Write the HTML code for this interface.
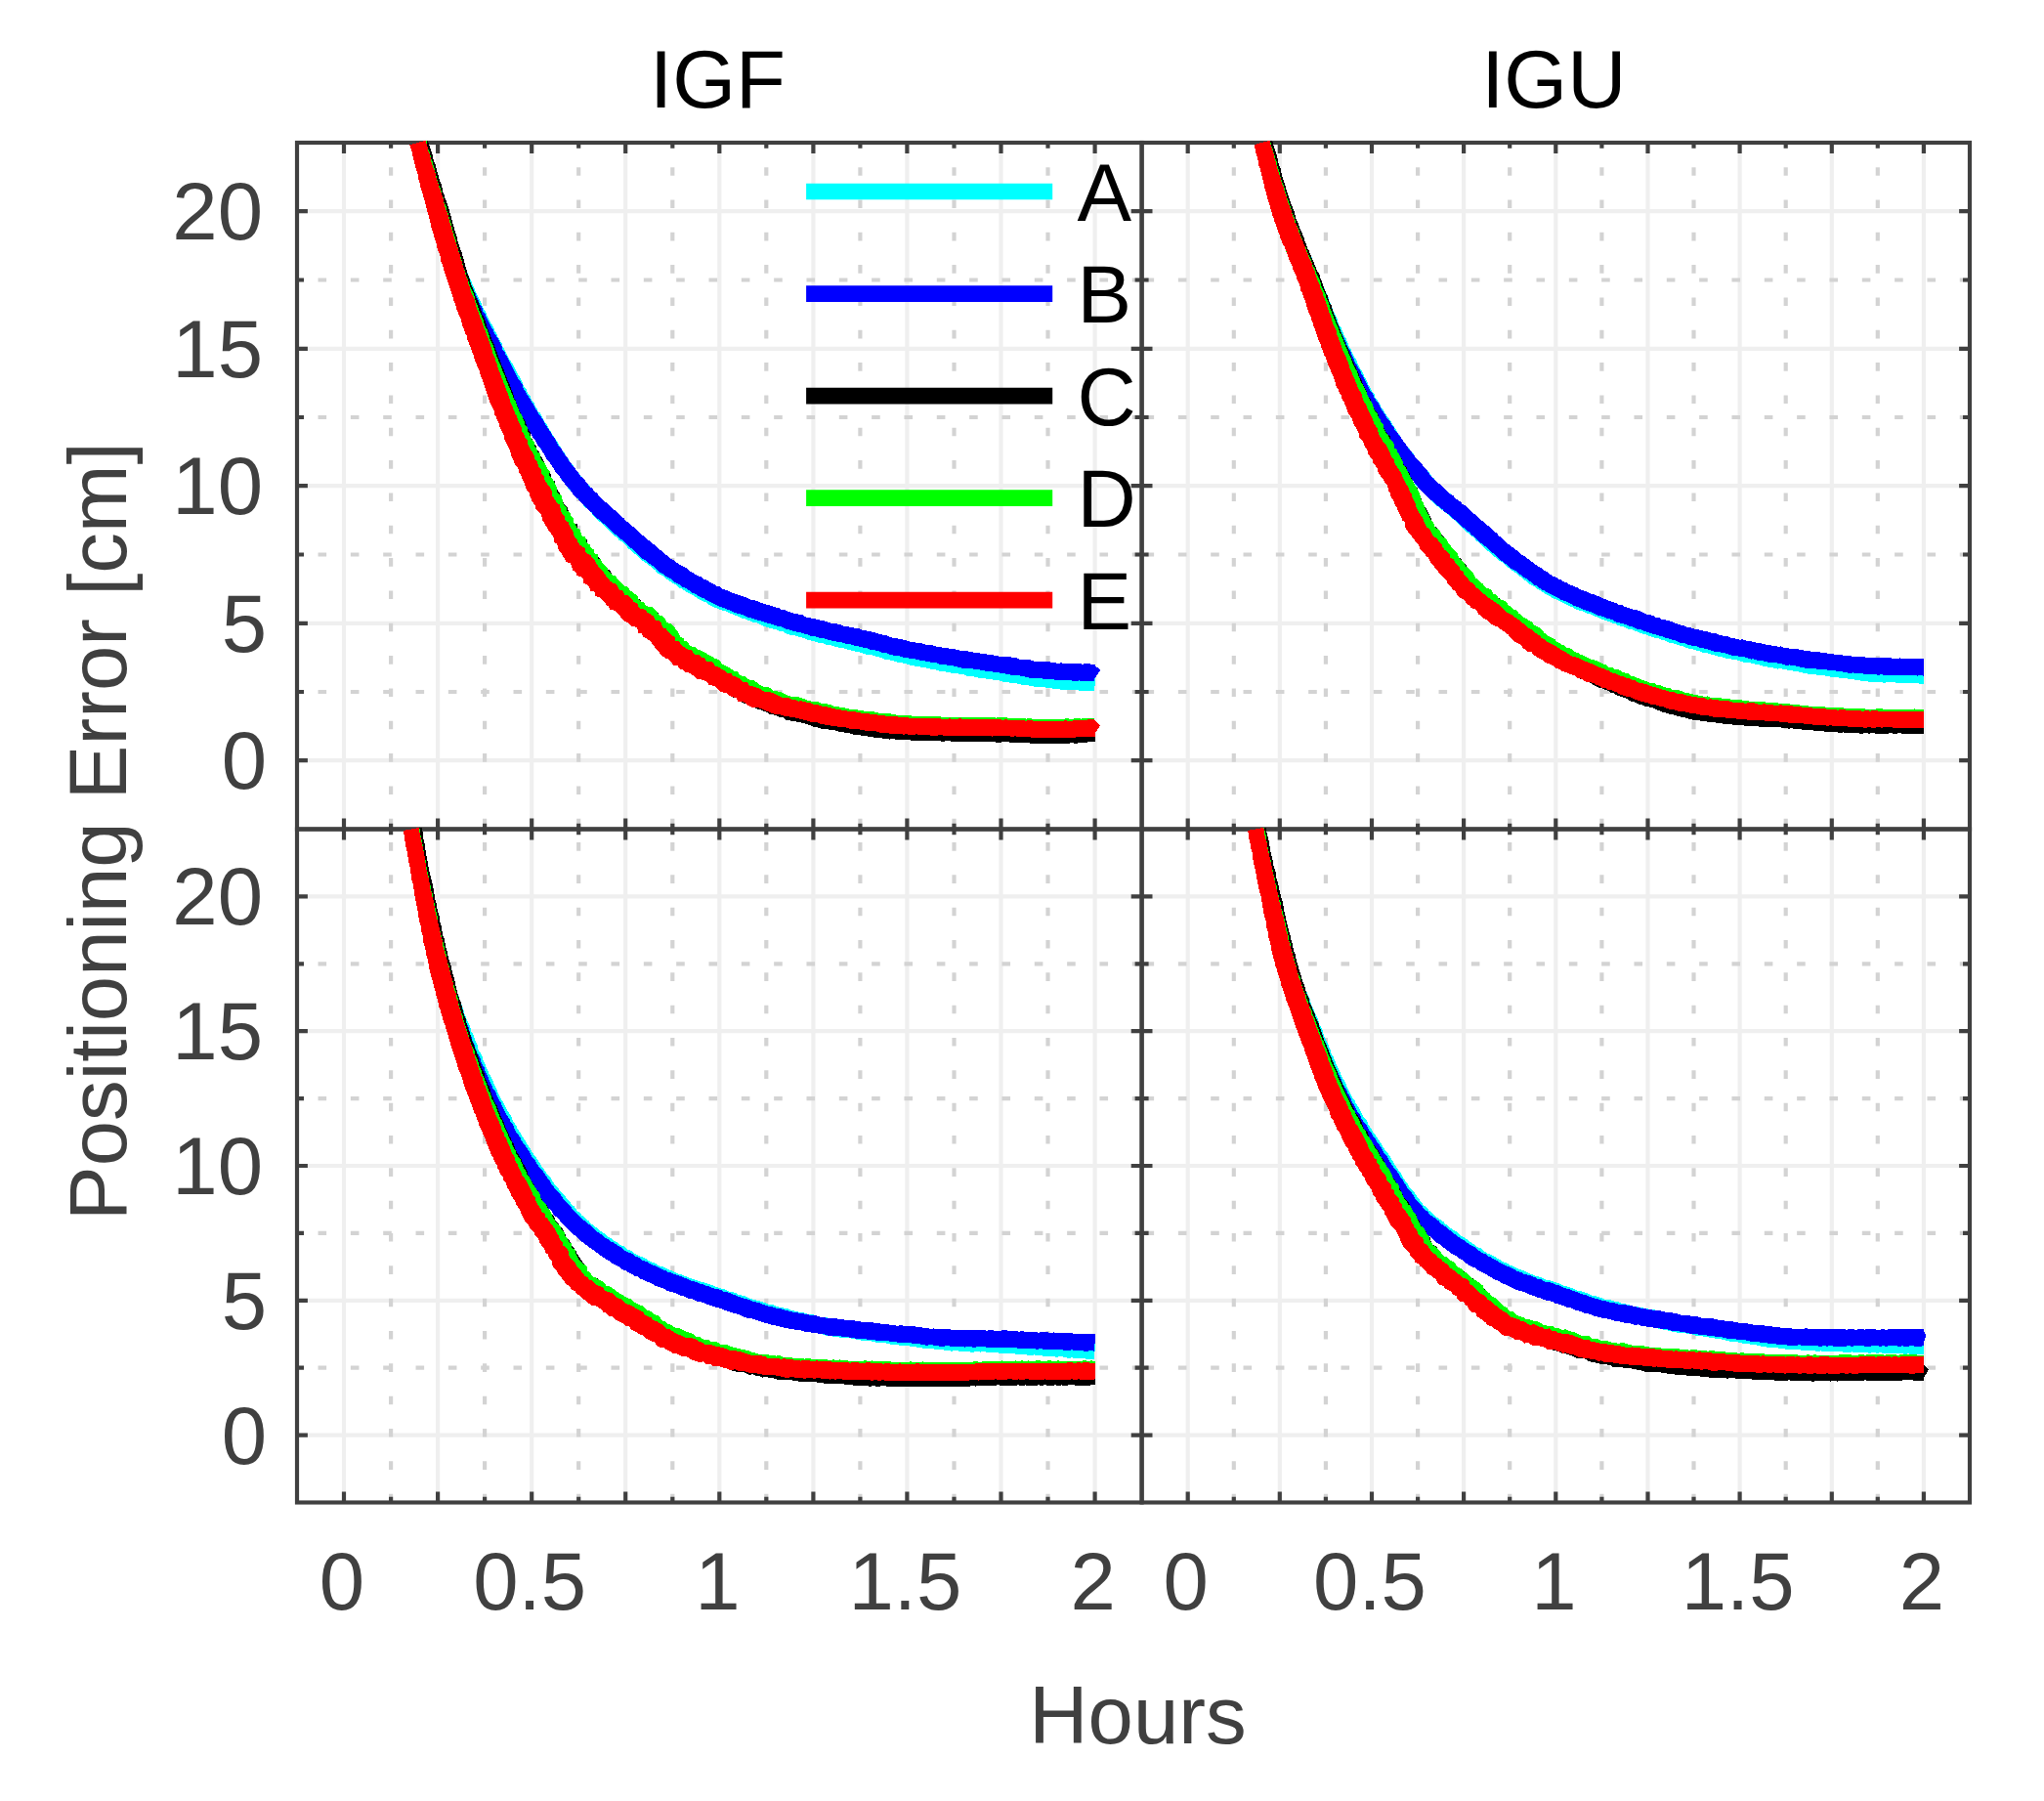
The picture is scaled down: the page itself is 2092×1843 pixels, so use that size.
<!DOCTYPE html>
<html lang="en"><head><meta charset="utf-8"><title>Positioning Error</title>
<style>html,body{margin:0;padding:0;background:#fff}svg{display:block}</style></head>
<body>
<svg width="2092" height="1843" viewBox="0 0 2092 1843" font-family="'Liberation Sans', sans-serif" font-size="83.33px">
<rect width="2092" height="1843" fill="#fff"/>
<defs>
<clipPath id="c1"><rect x="304.0" y="146.0" width="864.6" height="702.5"/></clipPath>
<clipPath id="c2"><rect x="1168.6" y="146.0" width="847.4" height="702.5"/></clipPath>
<clipPath id="c3"><rect x="304.0" y="848.5" width="864.6" height="689.0"/></clipPath>
<clipPath id="c4"><rect x="1168.6" y="848.5" width="847.4" height="689.0"/></clipPath>
</defs>
<g clip-path="url(#c1)"><path d="M352.0,146.0V848.5M448.1,146.0V848.5M544.2,146.0V848.5M640.2,146.0V848.5M736.3,146.0V848.5M832.4,146.0V848.5M928.4,146.0V848.5M1024.5,146.0V848.5M1120.6,146.0V848.5M304.0,778.2H1168.6M304.0,637.8H1168.6M304.0,497.2H1168.6M304.0,356.8H1168.6M304.0,216.2H1168.6" stroke="#efefef" stroke-width="4.17" fill="none"/><path d="M400.1,137.8V848.5M496.1,137.8V848.5M592.2,137.8V848.5M688.3,137.8V848.5M784.3,137.8V848.5M880.4,137.8V848.5M976.5,137.8V848.5M1072.5,137.8V848.5" stroke="#d3d3d3" stroke-width="4.17" stroke-dasharray="8.6 24.73" fill="none"/><path d="M292.2,708.0H1168.6M292.2,567.5H1168.6M292.2,427.0H1168.6M292.2,286.5H1168.6" stroke="#d3d3d3" stroke-width="4.17" stroke-dasharray="8.6 24.73" fill="none"/></g>
<g clip-path="url(#c2)"><path d="M1215.7,146.0V848.5M1309.8,146.0V848.5M1404.0,146.0V848.5M1498.1,146.0V848.5M1592.3,146.0V848.5M1686.5,146.0V848.5M1780.6,146.0V848.5M1874.8,146.0V848.5M1968.9,146.0V848.5M1168.6,778.2H2016.0M1168.6,637.8H2016.0M1168.6,497.2H2016.0M1168.6,356.8H2016.0M1168.6,216.2H2016.0" stroke="#efefef" stroke-width="4.17" fill="none"/><path d="M1262.8,137.8V848.5M1356.9,137.8V848.5M1451.1,137.8V848.5M1545.2,137.8V848.5M1639.4,137.8V848.5M1733.5,137.8V848.5M1827.7,137.8V848.5M1921.8,137.8V848.5" stroke="#d3d3d3" stroke-width="4.17" stroke-dasharray="8.6 24.73" fill="none"/><path d="M1139.2,708.0H2016.0M1139.2,567.5H2016.0M1139.2,427.0H2016.0M1139.2,286.5H2016.0" stroke="#d3d3d3" stroke-width="4.17" stroke-dasharray="8.6 24.73" fill="none"/></g>
<g clip-path="url(#c3)"><path d="M352.0,848.5V1537.5M448.1,848.5V1537.5M544.2,848.5V1537.5M640.2,848.5V1537.5M736.3,848.5V1537.5M832.4,848.5V1537.5M928.4,848.5V1537.5M1024.5,848.5V1537.5M1120.6,848.5V1537.5M304.0,1468.6H1168.6M304.0,1330.8H1168.6M304.0,1193.0H1168.6M304.0,1055.2H1168.6M304.0,917.4H1168.6" stroke="#efefef" stroke-width="4.17" fill="none"/><path d="M400.1,828.7V1537.5M496.1,828.7V1537.5M592.2,828.7V1537.5M688.3,828.7V1537.5M784.3,828.7V1537.5M880.4,828.7V1537.5M976.5,828.7V1537.5M1072.5,828.7V1537.5" stroke="#d3d3d3" stroke-width="4.17" stroke-dasharray="8.6 24.73" fill="none"/><path d="M292.2,1399.7H1168.6M292.2,1261.9H1168.6M292.2,1124.1H1168.6M292.2,986.3H1168.6" stroke="#d3d3d3" stroke-width="4.17" stroke-dasharray="8.6 24.73" fill="none"/></g>
<g clip-path="url(#c4)"><path d="M1215.7,848.5V1537.5M1309.8,848.5V1537.5M1404.0,848.5V1537.5M1498.1,848.5V1537.5M1592.3,848.5V1537.5M1686.5,848.5V1537.5M1780.6,848.5V1537.5M1874.8,848.5V1537.5M1968.9,848.5V1537.5M1168.6,1468.6H2016.0M1168.6,1330.8H2016.0M1168.6,1193.0H2016.0M1168.6,1055.2H2016.0M1168.6,917.4H2016.0" stroke="#efefef" stroke-width="4.17" fill="none"/><path d="M1262.8,828.7V1537.5M1356.9,828.7V1537.5M1451.1,828.7V1537.5M1545.2,828.7V1537.5M1639.4,828.7V1537.5M1733.5,828.7V1537.5M1827.7,828.7V1537.5M1921.8,828.7V1537.5" stroke="#d3d3d3" stroke-width="4.17" stroke-dasharray="8.6 24.73" fill="none"/><path d="M1139.2,1399.7H2016.0M1139.2,1261.9H2016.0M1139.2,1124.1H2016.0M1139.2,986.3H2016.0" stroke="#d3d3d3" stroke-width="4.17" stroke-dasharray="8.6 24.73" fill="none"/></g>
<path d="M352.0,146.0v10.9M352.0,848.5v-10.9M400.1,146.0v5.8M400.1,848.5v-5.8M448.1,146.0v10.9M448.1,848.5v-10.9M496.1,146.0v5.8M496.1,848.5v-5.8M544.2,146.0v10.9M544.2,848.5v-10.9M592.2,146.0v5.8M592.2,848.5v-5.8M640.2,146.0v10.9M640.2,848.5v-10.9M688.3,146.0v5.8M688.3,848.5v-5.8M736.3,146.0v10.9M736.3,848.5v-10.9M784.3,146.0v5.8M784.3,848.5v-5.8M832.4,146.0v10.9M832.4,848.5v-10.9M880.4,146.0v5.8M880.4,848.5v-5.8M928.4,146.0v10.9M928.4,848.5v-10.9M976.5,146.0v5.8M976.5,848.5v-5.8M1024.5,146.0v10.9M1024.5,848.5v-10.9M1072.5,146.0v5.8M1072.5,848.5v-5.8M1120.6,146.0v10.9M1120.6,848.5v-10.9M304.0,778.2h10.9M1168.6,778.2h-10.9M304.0,708.0h7.0M1168.6,708.0h-7.0M304.0,637.8h10.9M1168.6,637.8h-10.9M304.0,567.5h7.0M1168.6,567.5h-7.0M304.0,497.2h10.9M1168.6,497.2h-10.9M304.0,427.0h7.0M1168.6,427.0h-7.0M304.0,356.8h10.9M1168.6,356.8h-10.9M304.0,286.5h7.0M1168.6,286.5h-7.0M304.0,216.2h10.9M1168.6,216.2h-10.9M1215.7,146.0v10.9M1215.7,848.5v-10.9M1262.8,146.0v5.8M1262.8,848.5v-5.8M1309.8,146.0v10.9M1309.8,848.5v-10.9M1356.9,146.0v5.8M1356.9,848.5v-5.8M1404.0,146.0v10.9M1404.0,848.5v-10.9M1451.1,146.0v5.8M1451.1,848.5v-5.8M1498.1,146.0v10.9M1498.1,848.5v-10.9M1545.2,146.0v5.8M1545.2,848.5v-5.8M1592.3,146.0v10.9M1592.3,848.5v-10.9M1639.4,146.0v5.8M1639.4,848.5v-5.8M1686.5,146.0v10.9M1686.5,848.5v-10.9M1733.5,146.0v5.8M1733.5,848.5v-5.8M1780.6,146.0v10.9M1780.6,848.5v-10.9M1827.7,146.0v5.8M1827.7,848.5v-5.8M1874.8,146.0v10.9M1874.8,848.5v-10.9M1921.8,146.0v5.8M1921.8,848.5v-5.8M1968.9,146.0v10.9M1968.9,848.5v-10.9M1168.6,778.2h10.9M2016.0,778.2h-10.9M1168.6,708.0h7.0M2016.0,708.0h-7.0M1168.6,637.8h10.9M2016.0,637.8h-10.9M1168.6,567.5h7.0M2016.0,567.5h-7.0M1168.6,497.2h10.9M2016.0,497.2h-10.9M1168.6,427.0h7.0M2016.0,427.0h-7.0M1168.6,356.8h10.9M2016.0,356.8h-10.9M1168.6,286.5h7.0M2016.0,286.5h-7.0M1168.6,216.2h10.9M2016.0,216.2h-10.9M352.0,848.5v10.9M352.0,1537.5v-10.9M400.1,848.5v5.8M400.1,1537.5v-5.8M448.1,848.5v10.9M448.1,1537.5v-10.9M496.1,848.5v5.8M496.1,1537.5v-5.8M544.2,848.5v10.9M544.2,1537.5v-10.9M592.2,848.5v5.8M592.2,1537.5v-5.8M640.2,848.5v10.9M640.2,1537.5v-10.9M688.3,848.5v5.8M688.3,1537.5v-5.8M736.3,848.5v10.9M736.3,1537.5v-10.9M784.3,848.5v5.8M784.3,1537.5v-5.8M832.4,848.5v10.9M832.4,1537.5v-10.9M880.4,848.5v5.8M880.4,1537.5v-5.8M928.4,848.5v10.9M928.4,1537.5v-10.9M976.5,848.5v5.8M976.5,1537.5v-5.8M1024.5,848.5v10.9M1024.5,1537.5v-10.9M1072.5,848.5v5.8M1072.5,1537.5v-5.8M1120.6,848.5v10.9M1120.6,1537.5v-10.9M304.0,1468.6h10.9M1168.6,1468.6h-10.9M304.0,1399.7h7.0M1168.6,1399.7h-7.0M304.0,1330.8h10.9M1168.6,1330.8h-10.9M304.0,1261.9h7.0M1168.6,1261.9h-7.0M304.0,1193.0h10.9M1168.6,1193.0h-10.9M304.0,1124.1h7.0M1168.6,1124.1h-7.0M304.0,1055.2h10.9M1168.6,1055.2h-10.9M304.0,986.3h7.0M1168.6,986.3h-7.0M304.0,917.4h10.9M1168.6,917.4h-10.9M1215.7,848.5v10.9M1215.7,1537.5v-10.9M1262.8,848.5v5.8M1262.8,1537.5v-5.8M1309.8,848.5v10.9M1309.8,1537.5v-10.9M1356.9,848.5v5.8M1356.9,1537.5v-5.8M1404.0,848.5v10.9M1404.0,1537.5v-10.9M1451.1,848.5v5.8M1451.1,1537.5v-5.8M1498.1,848.5v10.9M1498.1,1537.5v-10.9M1545.2,848.5v5.8M1545.2,1537.5v-5.8M1592.3,848.5v10.9M1592.3,1537.5v-10.9M1639.4,848.5v5.8M1639.4,1537.5v-5.8M1686.5,848.5v10.9M1686.5,1537.5v-10.9M1733.5,848.5v5.8M1733.5,1537.5v-5.8M1780.6,848.5v10.9M1780.6,1537.5v-10.9M1827.7,848.5v5.8M1827.7,1537.5v-5.8M1874.8,848.5v10.9M1874.8,1537.5v-10.9M1921.8,848.5v5.8M1921.8,1537.5v-5.8M1968.9,848.5v10.9M1968.9,1537.5v-10.9M1168.6,1468.6h10.9M2016.0,1468.6h-10.9M1168.6,1399.7h7.0M2016.0,1399.7h-7.0M1168.6,1330.8h10.9M2016.0,1330.8h-10.9M1168.6,1261.9h7.0M2016.0,1261.9h-7.0M1168.6,1193.0h10.9M2016.0,1193.0h-10.9M1168.6,1124.1h7.0M2016.0,1124.1h-7.0M1168.6,1055.2h10.9M2016.0,1055.2h-10.9M1168.6,986.3h7.0M2016.0,986.3h-7.0M1168.6,917.4h10.9M2016.0,917.4h-10.9" stroke="#404040" stroke-width="4.17" fill="none"/>
<rect x="304.0" y="146.0" width="864.6" height="702.5" fill="none" stroke="#404040" stroke-width="4.17"/>
<rect x="1168.6" y="146.0" width="847.4" height="702.5" fill="none" stroke="#404040" stroke-width="4.17"/>
<rect x="304.0" y="848.5" width="864.6" height="689.0" fill="none" stroke="#404040" stroke-width="4.17"/>
<rect x="1168.6" y="848.5" width="847.4" height="689.0" fill="none" stroke="#404040" stroke-width="4.17"/>
<g shape-rendering="crispEdges"><path d="M420.7,148.4L421.1,150.8L422.0,153.8L423.4,156.7L424.2,159.7L424.5,162.9L426.2,165.7L426.3,169.0L427.1,172.0L428.3,175.0L429.3,178.0L430.2,181.0L431.1,184.0L431.7,187.1L432.5,190.2L433.3,193.2L433.8,196.4L434.8,199.4L435.9,202.4L436.4,205.6L438.0,208.4L439.0,211.4L439.4,214.6L440.9,217.5L441.8,220.5L442.2,223.6L443.2,226.6L443.6,229.8L444.8,232.7L445.8,235.8L446.7,238.8L447.8,241.9L449.1,244.9L449.9,248.0L450.4,251.2L451.8,254.1L452.7,257.2L454.0,260.2L454.3,263.5L456.0,266.3L456.9,269.4L457.4,272.7L458.9,275.6L459.7,278.7L461.0,281.7L462.1,284.8L463.9,287.5L464.7,290.7L466.0,293.7L466.9,296.8L468.7,299.5L469.7,302.5L471.4,305.2L472.4,308.3L473.8,311.2L475.3,314.0L476.1,317.2L477.8,320.0L478.7,323.1L480.4,325.8L481.8,328.7L483.2,331.6L484.6,334.5L486.5,337.1L487.7,340.0L489.4,342.8L490.7,345.7L492.4,348.4L493.0,351.6L495.2,354.1L496.2,357.1L498.0,359.7L498.9,362.8L500.5,365.5L502.4,368.1L503.3,371.2L504.6,374.1L506.1,376.9L507.9,379.5L509.8,382.2L511.2,385.0L512.1,388.2L513.9,390.8L515.7,393.4L516.6,396.5L518.4,399.2L519.9,401.9L521.6,404.6L523.1,407.4L524.7,410.1L526.5,412.8L527.3,415.9L529.2,418.5L530.7,421.3L532.5,423.9L533.7,426.9L535.9,429.2L537.2,432.1L539.1,434.6L540.7,437.4L541.5,440.5L543.4,443.1L545.3,445.7L546.8,448.4L548.2,451.3L550.3,453.8L551.8,456.6L553.4,459.4L555.4,461.9L556.9,464.7L558.5,467.5L560.1,470.3L562.5,472.5L563.6,475.6L566.2,477.8L567.4,480.8L569.1,483.5L571.6,485.7L573.2,488.4L574.8,491.3L577.4,493.4L578.9,496.3L580.8,498.9L583.1,501.2L585.0,503.8L587.5,506.0L589.7,508.4L591.8,510.9L594.1,513.1L596.1,515.5L597.9,518.3L600.5,520.4L603.0,522.6L605.4,525.0L607.2,527.8L609.9,529.8L611.9,532.4L614.6,534.4L617.0,536.7L619.2,539.2L621.7,541.4L624.2,543.5L626.6,545.6L628.7,548.2L631.4,550.0L633.5,552.7L636.5,554.2L638.6,556.6L641.0,558.8L643.1,561.3L645.9,562.9L648.0,565.4L650.5,567.4L652.9,569.6L655.4,571.6L657.7,574.0L660.6,575.6L663.0,577.7L665.7,579.6L668.3,581.5L670.8,583.7L672.9,586.2L675.6,588.1L678.7,589.4L681.0,591.7L683.8,593.5L686.4,595.4L689.0,597.2L691.9,598.7L694.3,601.0L697.3,602.3L700.0,604.2L702.8,605.9L705.8,607.2L708.7,608.7L711.4,610.7L714.1,612.6L717.0,614.2L719.9,615.7L723.1,616.6L725.7,618.8L728.7,620.1L731.6,621.6L734.6,622.6L737.5,624.3L740.8,624.8L743.8,626.0L746.8,627.2L749.8,628.6L752.8,629.8L755.9,630.9L758.8,632.4L762.0,633.0L764.9,634.6L768.0,635.3L770.9,636.8L774.1,637.3L777.1,638.6L779.9,640.2L783.0,640.9L786.0,642.2L789.1,643.0L792.1,644.0L795.3,644.6L798.2,646.0L801.4,646.4L804.3,648.1L807.3,649.2L810.4,650.1L813.7,650.2L816.7,651.4L819.8,652.3L822.9,653.0L825.9,654.4L828.9,655.4L832.2,655.8L835.2,657.2L838.3,657.9L841.6,658.0L844.6,659.4L847.6,660.3L850.9,660.3L853.9,661.4L857.0,662.2L860.1,662.9L863.3,663.1L866.2,664.4L869.3,665.1L872.3,666.0L875.4,666.7L878.5,667.0L881.5,668.1L884.5,669.1L887.5,669.9L890.7,670.0L893.8,670.6L896.7,672.1L899.9,672.5L902.9,673.6L905.9,674.8L909.1,675.0L912.2,675.7L915.3,676.7L918.4,677.6L921.7,677.8L924.7,678.8L927.9,679.3L930.9,680.5L934.0,681.3L937.3,681.6L940.4,682.2L943.5,683.0L946.7,683.3L949.8,684.0L952.9,684.7L956.0,685.4L959.2,685.6L962.2,686.9L965.4,687.3L968.6,687.6L971.7,687.9L974.8,689.1L978.0,689.1L981.1,689.6L984.3,690.2L987.4,690.6L990.4,692.0L993.7,691.9L996.8,692.4L999.9,693.4L1003.0,693.7L1006.2,693.8L1009.3,694.5L1012.4,695.4L1015.6,695.4L1018.7,696.2L1021.9,696.1L1024.9,697.2L1028.0,697.8L1031.0,698.3L1034.2,698.7L1037.4,699.0L1040.5,699.2L1043.6,700.2L1046.7,700.9L1050.0,700.9L1053.2,701.5L1056.3,702.2L1059.5,702.9L1062.7,703.4L1066.1,703.0L1069.3,703.4L1072.5,704.3L1075.7,704.4L1078.8,704.8L1082.0,705.3L1085.1,705.5L1088.3,705.6L1091.5,705.8L1094.7,705.6L1097.9,706.1L1101.1,705.8L1104.3,706.6L1107.5,706.8L1110.7,706.9L1113.9,706.7L1117.2,706.8L1120.4,706.9L1120.8,689.4L1117.6,690.1L1114.5,689.6L1111.5,689.0L1108.3,689.1L1105.2,688.7L1102.1,689.1L1099.0,688.3L1095.9,688.6L1092.7,688.5L1089.6,688.4L1086.5,688.2L1083.3,688.0L1080.2,687.5L1077.1,686.8L1074.0,686.5L1070.9,686.6L1067.9,686.0L1064.9,685.7L1061.8,686.0L1058.8,685.1L1055.7,684.8L1052.7,684.0L1049.7,683.2L1046.5,683.1L1043.4,682.4L1040.3,681.9L1037.1,681.4L1034.1,680.5L1030.9,680.1L1027.7,679.6L1024.4,679.9L1021.3,679.1L1018.2,678.9L1015.2,677.6L1012.1,677.1L1008.8,677.3L1005.8,676.3L1002.7,675.9L999.6,675.4L996.3,675.5L993.3,674.4L990.3,673.6L987.2,673.1L984.0,673.3L981.0,672.1L977.8,672.0L974.7,671.4L971.6,670.6L968.5,670.5L965.5,669.3L962.3,669.3L959.2,668.8L956.2,667.9L953.0,667.7L950.0,666.7L946.8,666.4L943.8,665.7L940.7,665.2L937.8,663.7L934.6,663.7L931.5,663.1L928.5,662.5L925.4,661.8L922.5,660.5L919.5,660.0L916.4,659.5L913.4,658.4L910.4,657.6L907.3,657.0L904.3,656.1L901.3,654.9L898.2,654.1L895.1,653.4L892.1,652.5L889.0,651.5L885.8,651.1L882.8,650.0L879.6,649.7L876.4,649.1L873.3,648.3L870.3,647.0L867.3,646.3L864.1,645.9L860.9,645.5L857.9,644.6L854.8,643.8L851.8,643.1L848.9,641.7L845.7,641.7L842.7,640.5L839.7,639.8L836.7,639.1L833.6,638.5L830.8,637.2L827.7,636.6L824.7,635.5L821.6,635.0L818.7,633.6L815.6,633.3L812.7,632.0L809.8,630.7L806.8,629.8L803.6,629.5L800.8,627.8L797.8,626.9L794.7,626.3L791.7,625.4L788.8,624.0L785.8,623.2L782.8,622.0L779.9,620.7L776.8,619.9L774.0,618.6L771.0,617.5L767.9,616.8L764.9,615.9L762.0,614.6L759.0,613.6L756.3,612.0L753.2,611.5L750.5,609.8L747.6,608.8L745.0,607.2L741.9,606.5L739.2,605.1L736.6,603.4L733.9,602.0L731.0,601.0L728.2,599.7L725.5,598.2L722.8,596.8L720.4,594.8L717.4,593.7L714.7,592.3L712.0,590.7L709.3,589.1L706.8,587.3L704.2,585.5L701.7,583.7L699.1,582.0L696.4,580.4L693.9,578.7L691.6,576.7L688.8,575.3L686.1,573.8L684.1,571.5L681.5,569.8L679.3,567.6L676.9,565.7L674.2,564.1L672.1,561.7L669.4,560.1L667.1,558.0L664.9,555.7L662.3,553.9L659.9,551.9L657.8,549.5L655.2,547.7L652.9,545.4L650.4,543.4L648.2,541.2L646.0,539.1L643.8,536.8L641.3,534.7L638.8,532.6L636.6,530.2L634.1,528.1L631.9,525.8L629.5,523.6L627.0,521.5L624.5,519.5L622.7,516.8L619.9,515.0L617.7,512.7L615.7,510.2L613.1,508.3L611.3,505.7L609.1,503.3L606.8,501.1L604.4,499.1L603.0,496.3L600.8,494.3L598.8,492.0L596.5,490.1L595.1,487.3L593.0,485.1L591.3,482.6L589.3,480.4L587.5,478.0L586.2,475.2L583.6,473.3L582.4,470.4L580.2,468.2L579.0,465.3L577.1,462.8L575.1,460.4L573.8,457.6L571.9,455.1L570.6,452.2L568.8,449.7L567.0,447.2L565.3,444.5L564.1,441.6L562.2,439.1L560.7,436.4L559.1,433.6L557.1,431.2L555.9,428.3L554.1,425.7L552.9,422.8L550.5,420.6L549.3,417.7L547.4,415.2L546.6,412.2L544.5,409.8L543.2,407.0L541.9,404.1L539.8,401.8L538.8,398.7L536.8,396.3L535.4,393.5L534.3,390.5L532.7,387.8L531.3,384.9L529.7,382.2L528.2,379.5L526.8,376.7L525.3,373.9L523.9,371.1L522.1,368.5L520.4,365.8L518.8,363.1L517.8,360.1L516.1,357.4L514.4,354.8L513.8,351.6L512.0,349.0L510.5,346.1L508.8,343.5L508.0,340.3L505.9,337.8L505.1,334.7L503.7,331.9L501.5,329.5L500.1,326.7L498.7,323.8L497.9,320.7L496.4,318.0L494.7,315.3L493.5,312.5L492.2,309.6L490.8,306.9L489.3,304.1L488.2,301.2L486.7,298.5L485.9,295.5L484.2,292.8L483.1,289.7L482.2,286.8L480.4,284.2L479.2,281.4L478.4,278.3L476.8,275.6L475.8,272.7L474.8,269.7L473.9,266.7L472.7,263.8L472.4,260.7L471.3,257.7L470.4,254.7L468.5,252.0L467.9,248.9L467.2,245.8L465.8,242.9L464.9,239.9L463.7,237.0L463.2,233.9L462.0,231.0L461.7,227.8L460.3,224.9L460.1,221.7L458.5,218.8L458.1,215.6L457.0,212.7L456.2,209.6L454.9,206.7L454.0,203.7L453.9,200.5L452.2,197.7L451.4,194.7L451.3,191.4L450.3,188.4L449.4,185.4L448.0,182.6L447.9,179.3L446.9,176.3L445.4,173.5L444.8,170.3L444.5,167.2L443.5,164.1L442.2,161.2L441.7,158.1L440.7,155.1L439.7,152.1L439.0,149.0L438.4,145.9L436.9,143.8Z" fill="#00ffff"/><path d="M421.0,148.3L421.8,150.6L422.0,153.8L423.0,156.8L424.3,159.7L425.1,162.8L425.3,166.0L426.8,168.8L427.2,172.0L428.6,174.9L428.8,178.1L430.3,181.0L430.8,184.1L432.1,187.0L432.5,190.2L433.1,193.3L434.7,196.2L435.3,199.3L435.7,202.4L436.8,205.4L437.9,208.4L438.5,211.5L439.6,214.5L440.1,217.7L441.6,220.6L442.0,223.7L443.0,226.7L443.8,229.7L445.0,232.7L445.6,235.8L446.5,238.8L447.7,241.8L448.9,244.8L448.9,248.1L450.1,251.1L451.5,254.0L451.9,257.2L453.3,260.1L454.1,263.2L454.6,266.4L456.0,269.3L457.2,272.3L458.2,275.3L459.4,278.3L460.4,281.3L461.4,284.4L462.6,287.4L463.8,290.3L464.6,293.5L466.0,296.4L466.8,299.6L467.9,302.6L469.7,305.3L470.8,308.4L472.2,311.3L473.9,314.0L475.2,316.9L475.9,320.2L477.6,322.9L478.8,325.9L480.8,328.5L481.8,331.6L483.0,334.5L484.4,337.4L486.6,339.8L487.6,342.9L489.2,345.7L490.3,348.7L492.3,351.2L493.6,354.1L494.6,357.1L496.3,359.8L497.8,362.6L498.7,365.6L500.8,368.2L502.5,370.8L503.6,373.8L505.3,376.5L506.8,379.3L507.9,382.4L509.0,385.4L510.9,388.0L512.3,390.8L514.1,393.5L515.4,396.4L516.8,399.3L518.5,402.0L519.8,404.9L521.6,407.5L523.5,410.1L524.7,413.1L526.4,415.8L528.3,418.4L529.5,421.4L531.0,424.3L533.2,426.6L534.5,429.6L536.0,432.4L537.9,434.9L539.7,437.5L541.2,440.3L542.8,443.1L544.3,445.9L546.1,448.5L548.2,451.0L549.3,454.1L550.9,456.9L553.4,459.1L555.0,461.9L556.8,464.6L558.0,467.6L559.8,470.4L562.3,472.6L563.9,475.4L565.8,478.0L567.5,480.7L569.0,483.6L571.6,485.7L573.4,488.4L575.1,491.1L577.0,493.7L578.9,496.4L581.1,498.7L583.4,501.0L585.3,503.6L586.9,506.5L589.3,508.7L591.9,510.7L593.7,513.5L596.3,515.5L598.2,518.2L601.0,519.9L602.8,522.8L605.6,524.5L607.7,527.0L610.0,529.3L612.4,531.4L615.1,533.3L617.5,535.5L619.8,537.7L622.3,539.7L624.6,541.9L627.0,544.0L629.2,546.3L631.6,548.3L633.8,550.6L636.4,552.4L638.9,554.3L641.1,556.6L643.2,559.1L646.0,560.8L648.3,563.0L650.5,565.4L653.1,567.2L655.3,569.7L657.7,571.8L660.6,573.3L662.8,575.7L665.7,577.4L668.3,579.3L670.7,581.5L673.2,583.6L675.6,585.8L678.7,587.0L681.0,589.4L683.8,591.0L686.7,592.5L688.9,594.9L691.8,596.5L694.8,597.7L697.1,600.1L700.3,601.1L703.1,602.8L705.8,604.6L708.4,606.8L711.6,607.6L714.1,609.9L717.1,611.2L720.3,612.2L723.0,614.2L725.9,615.5L728.8,617.0L731.7,618.5L734.7,619.7L737.6,621.3L740.9,621.8L743.7,623.6L746.8,624.4L749.7,625.9L752.7,627.1L755.7,628.3L759.0,628.6L762.0,629.9L764.9,631.4L767.9,632.4L771.2,632.8L774.0,634.4L777.2,634.8L780.2,635.8L783.1,637.1L786.2,637.8L789.3,638.7L792.3,639.6L795.4,640.6L798.5,641.2L801.6,642.1L804.5,643.7L807.6,644.4L810.6,645.4L813.7,646.4L816.9,646.7L820.0,647.5L823.0,648.4L826.1,649.2L829.1,650.5L832.3,650.9L835.4,651.6L838.5,652.6L841.7,652.9L844.8,653.6L847.8,654.8L850.9,655.6L854.1,655.8L857.1,656.8L860.3,656.9L863.3,657.9L866.4,658.8L869.5,659.1L872.6,659.9L875.5,660.9L878.6,661.5L881.7,661.8L884.6,663.1L887.8,663.2L890.7,664.8L893.9,664.9L896.9,665.7L900.0,666.4L902.9,667.9L906.2,668.0L909.2,669.1L912.2,670.2L915.3,670.9L918.7,670.7L921.7,671.9L924.8,672.6L927.9,673.4L931.1,673.6L934.3,674.3L937.4,674.5L940.6,675.2L943.6,676.3L946.8,676.4L949.9,677.1L953.0,677.8L956.2,678.1L959.4,678.6L962.3,680.0L965.5,680.0L968.7,680.3L971.8,681.4L975.0,681.2L978.1,681.9L981.1,683.1L984.3,683.5L987.5,683.8L990.7,683.7L993.8,684.4L997.0,684.6L1000.1,685.2L1003.2,685.5L1006.4,686.0L1009.4,686.9L1012.6,686.9L1015.8,687.3L1018.8,688.5L1022.0,688.4L1025.1,688.8L1028.2,689.0L1031.2,690.2L1034.4,690.5L1037.5,690.9L1040.6,691.4L1043.8,691.4L1047.0,692.0L1050.1,692.8L1053.3,693.5L1056.5,693.8L1059.7,694.0L1063.0,694.3L1066.3,694.1L1069.4,695.2L1072.7,694.6L1075.9,694.9L1079.0,695.6L1082.2,695.9L1085.3,696.1L1088.5,695.9L1091.7,695.8L1094.9,695.8L1098.1,696.8L1101.2,697.0L1104.5,696.4L1107.7,697.1L1110.9,696.8L1114.1,696.7L1117.3,697.0L1120.5,696.5L1120.6,679.9L1117.5,679.8L1114.4,679.2L1111.3,679.1L1108.1,679.7L1105.1,679.0L1101.9,679.3L1098.8,679.1L1095.7,678.5L1092.6,679.0L1089.4,679.1L1086.3,678.3L1083.2,678.8L1080.1,678.3L1076.9,677.6L1073.8,677.4L1070.8,677.4L1067.8,676.9L1064.7,676.6L1061.7,676.5L1058.6,676.8L1055.6,675.7L1052.6,675.1L1049.4,675.2L1046.2,675.2L1043.2,674.5L1040.1,673.3L1037.0,672.9L1033.9,672.4L1030.6,672.5L1027.5,671.7L1024.3,671.9L1021.2,671.3L1018.0,671.0L1015.0,669.7L1011.8,669.9L1008.7,669.2L1005.6,669.1L1002.5,668.5L999.5,667.5L996.3,667.5L993.1,667.4L990.2,666.1L987.0,666.1L983.9,665.6L980.7,665.4L977.7,664.3L974.7,663.7L971.5,663.5L968.4,663.2L965.3,662.8L962.2,662.0L959.1,661.9L956.0,661.0L953.0,660.0L949.8,660.2L946.8,659.4L943.8,658.3L940.7,657.6L937.5,657.9L934.6,656.6L931.4,656.7L928.4,655.6L925.4,654.9L922.5,653.9L919.3,653.8L916.4,652.5L913.2,652.5L910.2,651.6L907.3,650.2L904.2,649.9L901.2,648.8L898.0,648.3L895.0,647.3L892.0,646.4L888.8,645.9L885.7,645.3L882.5,644.6L879.6,643.3L876.4,643.0L873.3,642.3L870.1,641.8L867.0,641.0L863.9,640.7L860.9,639.5L857.9,638.6L854.7,638.3L851.6,638.0L848.6,637.1L845.6,636.0L842.6,635.2L839.6,634.7L836.6,633.9L833.6,632.9L830.5,632.5L827.5,631.9L824.4,631.3L821.6,629.5L818.6,629.0L815.5,628.2L812.5,627.5L809.5,626.7L806.4,625.9L803.6,624.5L800.4,624.2L797.7,622.5L794.7,621.6L791.7,620.6L788.7,619.9L785.8,618.7L782.5,618.4L779.7,616.8L776.7,616.1L773.8,614.6L770.7,614.0L767.6,613.5L764.9,611.7L762.0,610.8L759.0,609.9L756.0,609.1L753.2,607.8L750.2,607.0L747.5,605.6L744.8,604.2L741.7,603.5L739.0,602.4L736.6,600.4L733.6,599.6L731.1,597.8L728.1,596.9L725.6,595.2L723.0,593.5L719.9,592.7L717.6,590.5L714.7,589.4L711.8,588.2L709.4,586.1L706.7,584.7L704.4,582.5L701.7,581.0L699.0,579.5L696.2,578.0L693.7,576.3L691.1,574.7L688.9,572.7L686.1,571.4L683.9,569.2L681.2,567.7L679.1,565.4L676.9,563.2L673.9,562.0L672.1,559.3L669.7,557.4L667.0,555.8L664.8,553.5L662.2,551.8L660.2,549.3L657.4,547.7L655.2,545.5L652.8,543.4L650.7,541.0L648.1,539.2L645.9,536.9L643.4,534.9L640.8,533.2L638.8,530.6L636.2,528.8L633.8,526.7L631.7,524.4L629.5,522.1L626.7,520.5L624.7,518.1L622.4,515.9L620.0,513.9L617.4,512.1L615.5,509.7L613.2,507.6L611.3,505.1L608.9,503.2L606.9,500.9L604.8,498.8L602.4,496.8L600.8,494.3L599.0,491.9L597.1,489.6L594.6,487.7L592.9,485.2L591.2,482.7L589.3,480.3L587.1,478.1L585.4,475.6L583.5,473.1L581.6,470.7L580.6,467.6L578.3,465.4L576.3,463.0L575.3,459.9L572.9,457.8L571.1,455.2L569.9,452.2L568.4,449.5L566.4,447.0L564.6,444.4L563.3,441.5L561.2,439.1L559.8,436.3L557.8,433.8L556.7,430.8L554.7,428.3L553.0,425.7L551.2,423.1L549.9,420.2L547.9,417.8L546.5,415.0L544.9,412.3L543.4,409.6L541.5,407.1L539.9,404.4L538.5,401.6L536.7,399.0L535.3,396.2L534.4,393.1L532.8,390.4L530.7,388.0L529.2,385.3L527.8,382.4L526.5,379.6L524.8,377.0L523.6,374.0L522.2,371.2L520.9,368.3L519.5,365.6L517.4,363.1L516.6,359.9L514.5,357.5L513.6,354.4L512.2,351.6L510.9,348.7L509.4,345.9L507.7,343.3L505.7,340.7L504.7,337.7L503.0,335.0L501.4,332.3L500.2,329.4L498.8,326.6L497.5,323.7L496.3,320.8L494.3,318.3L493.7,315.1L492.0,312.4L490.4,309.7L489.5,306.8L487.8,304.1L487.0,301.1L485.2,298.5L484.5,295.5L483.0,292.8L481.8,290.0L481.1,286.9L479.9,284.1L478.2,281.5L477.6,278.5L476.2,275.7L475.4,272.8L474.2,269.9L473.4,266.9L471.9,264.1L471.2,261.1L470.1,258.1L469.7,255.0L468.6,252.1L467.3,249.2L466.9,246.0L466.4,242.9L465.0,240.0L463.8,237.1L463.4,233.9L461.9,231.0L461.8,227.8L460.3,224.9L459.8,221.8L459.0,218.7L458.0,215.7L457.3,212.6L456.0,209.7L454.9,206.7L454.0,203.7L453.9,200.5L453.0,197.5L451.7,194.6L450.9,191.6L450.0,188.5L448.7,185.6L448.4,182.4L447.9,179.3L446.2,176.5L445.4,173.5L444.9,170.3L444.5,167.2L443.0,164.3L442.2,161.2L441.9,158.0L441.0,155.0L439.8,152.1L439.1,149.0L437.8,146.0L437.3,143.6Z" fill="#0000ff"/><path d="M1119.6,680.0L1126.1,685.8L1119.6,695.7Z" fill="#0000ff"/><path d="M422.2,148.1L421.9,149.4L423.3,152.5L424.3,155.8L424.4,159.2L425.5,162.4L426.2,165.7L427.0,169.0L428.4,172.1L429.2,175.4L429.8,178.8L431.0,182.0L431.5,185.3L432.1,188.7L433.0,191.9L433.9,195.2L435.2,198.3L435.9,201.7L436.3,205.1L437.8,208.2L438.3,211.5L439.6,214.7L439.8,218.2L441.2,221.3L441.9,224.6L442.7,227.9L443.5,231.1L444.3,234.4L445.4,237.6L446.6,240.8L447.8,244.0L448.2,247.4L449.0,250.7L450.7,253.7L451.0,257.2L452.5,260.3L453.2,263.6L454.2,266.9L455.1,270.1L455.8,273.5L457.0,276.7L458.2,279.8L459.0,283.2L460.3,286.4L461.4,289.7L462.6,293.0L463.6,296.2L464.9,299.4L466.1,302.6L467.3,305.8L468.3,309.1L469.5,312.3L470.3,315.7L471.5,318.9L473.1,322.0L474.0,325.2L475.0,328.5L476.7,331.6L477.7,334.8L479.0,338.0L480.1,341.2L481.1,344.5L482.9,347.4L483.5,350.8L484.9,353.9L486.0,357.1L487.4,360.3L488.4,363.5L490.0,366.5L490.9,369.8L492.5,372.9L493.5,376.1L494.6,379.4L496.1,382.4L497.5,385.6L498.1,389.0L499.3,392.2L500.7,395.3L502.2,398.4L503.1,401.7L504.9,404.7L505.6,408.1L507.0,411.3L508.2,414.5L509.6,417.6L511.2,420.7L511.9,424.1L513.5,427.2L514.5,430.5L516.3,433.5L518.0,436.4L518.8,439.9L520.0,443.1L521.0,446.4L522.4,449.6L525.0,452.1L525.3,455.8L527.6,458.6L528.3,462.0L530.2,464.9L531.8,468.0L533.0,471.3L534.3,474.5L535.5,477.7L537.1,480.8L538.5,484.0L540.7,486.8L541.5,490.1L543.7,492.7L544.5,496.1L546.3,499.0L547.6,502.2L550.4,504.5L550.7,508.2L552.9,510.9L554.0,514.1L556.4,516.8L556.3,520.6L557.3,524.0L560.3,526.4L562.6,529.1L562.8,532.9L565.7,535.2L565.3,539.4L569.0,541.3L570.1,544.7L571.5,547.9L574.2,550.4L575.4,553.7L577.3,556.6L578.0,560.2L579.2,563.6L582.7,565.5L583.5,569.1L587.2,570.8L588.1,574.4L590.5,576.9L592.9,579.4L593.8,583.2L596.2,585.8L599.8,587.3L601.7,590.3L602.8,594.0L604.7,597.0L607.9,598.8L609.8,602.0L611.9,604.8L614.9,606.8L617.6,609.1L621.0,610.7L623.1,613.5L625.1,616.5L627.0,619.5L630.9,620.5L633.2,623.1L636.5,624.6L637.7,628.4L640.9,630.1L643.1,633.4L647.1,634.3L649.2,637.4L652.0,639.5L655.0,640.9L658.1,642.0L660.0,644.4L661.5,647.1L664.8,647.9L667.2,649.8L668.6,652.9L671.3,654.9L672.3,658.6L674.5,661.2L676.6,664.1L679.4,666.5L682.4,668.8L686.1,670.3L687.8,674.3L690.9,676.3L693.8,678.5L696.8,680.3L699.4,682.5L702.9,683.0L705.2,685.8L708.4,687.3L711.6,688.7L714.5,690.5L717.6,691.8L720.1,694.3L723.1,695.8L725.9,697.6L728.2,700.2L731.2,701.5L734.0,703.2L736.3,705.5L740.1,705.6L742.5,708.0L745.8,708.9L748.3,711.3L750.5,714.3L754.6,714.3L756.8,717.4L759.8,719.2L763.3,720.1L766.1,722.1L769.5,722.9L772.7,724.2L775.8,725.8L779.2,726.6L782.3,728.0L785.5,729.2L788.2,731.5L791.8,731.4L795.0,732.3L797.8,734.5L801.4,734.2L804.2,736.5L807.4,737.2L810.8,737.8L814.1,738.4L817.4,738.9L820.6,739.6L823.8,740.4L826.9,741.6L830.1,742.4L833.1,743.9L836.4,744.1L839.5,745.4L842.8,745.8L846.1,745.7L849.3,746.9L852.8,747.2L856.2,747.7L859.3,749.4L862.9,749.4L866.3,749.8L869.7,750.3L873.0,751.5L876.4,751.9L879.9,751.9L883.1,753.2L886.6,753.2L890.0,754.3L893.5,754.4L896.9,754.8L900.3,755.1L903.7,755.7L907.1,756.4L910.5,756.5L914.0,756.0L917.4,756.8L920.9,756.7L924.4,756.8L927.8,757.1L931.2,757.3L934.6,758.1L938.0,758.0L941.4,758.3L944.8,758.2L948.2,757.9L951.6,758.1L955.0,758.2L958.4,758.2L961.7,758.4L965.1,758.8L968.5,758.2L971.9,758.4L975.3,758.7L978.7,758.9L982.1,759.0L985.5,759.1L988.9,758.5L992.2,758.6L995.6,758.8L999.0,758.8L1002.4,759.3L1005.7,759.5L1009.1,759.3L1012.5,758.7L1015.9,759.0L1019.2,759.5L1022.6,759.7L1025.9,759.4L1029.2,759.3L1032.5,759.4L1035.8,759.8L1039.2,760.2L1042.6,759.8L1045.9,759.8L1049.3,759.8L1052.7,760.1L1056.1,760.9L1059.5,760.8L1063.0,761.3L1066.4,760.5L1069.9,760.8L1073.3,761.3L1076.8,761.1L1080.2,760.5L1083.6,760.8L1087.0,761.0L1090.4,760.9L1093.8,760.6L1097.2,760.2L1100.7,760.9L1104.1,760.2L1107.5,760.3L1110.9,760.0L1114.3,759.3L1117.7,759.3L1121.1,758.9L1120.0,742.1L1116.6,742.7L1113.3,742.4L1110.0,743.0L1106.6,742.9L1103.3,743.0L1100.0,743.6L1096.6,743.3L1093.3,743.7L1090.0,743.9L1086.6,743.6L1083.3,743.6L1080.0,743.7L1076.7,744.2L1073.3,744.3L1070.0,743.6L1066.7,744.4L1063.4,743.6L1060.1,743.6L1056.8,743.7L1053.4,743.9L1050.1,743.6L1046.7,743.2L1043.4,743.2L1040.0,742.4L1036.6,742.5L1033.2,742.1L1029.7,742.1L1026.3,742.1L1022.9,742.1L1019.5,742.6L1016.1,741.9L1012.7,742.4L1009.3,741.7L1005.9,742.0L1002.5,742.2L999.2,741.6L995.8,742.1L992.4,742.2L989.0,741.9L985.7,741.7L982.3,742.0L979.0,741.4L975.6,741.4L972.2,742.0L968.9,741.8L965.5,741.8L962.1,741.6L958.8,741.6L955.4,741.1L952.1,741.1L948.7,741.0L945.3,741.3L942.0,740.5L938.6,740.3L935.3,741.0L931.9,740.1L928.6,740.5L925.3,740.6L922.1,739.4L918.8,739.7L915.4,739.7L912.2,738.5L908.8,738.9L905.5,738.9L902.2,738.4L898.9,737.8L895.6,736.8L892.3,737.1L889.1,736.3L885.8,736.1L882.5,735.1L879.3,734.4L875.8,734.7L872.6,733.8L869.4,732.6L866.2,732.0L862.7,732.0L859.5,731.0L856.3,730.0L853.1,729.4L849.9,729.3L846.9,727.9L843.8,727.1L840.6,726.9L837.6,725.7L834.5,724.6L831.2,724.9L828.2,723.5L825.0,723.4L822.0,722.2L819.0,721.1L815.8,720.7L813.2,718.2L809.7,718.7L806.8,717.1L803.6,716.8L800.7,715.5L798.1,713.3L795.2,712.1L792.3,710.9L789.4,709.9L786.2,709.6L783.1,709.0L780.9,706.2L777.4,706.3L775.0,704.0L772.0,702.9L769.9,700.4L766.5,700.2L764.2,698.0L761.7,696.2L758.4,695.4L755.5,693.9L754.0,690.3L750.2,689.9L747.7,687.7L744.9,685.8L742.0,684.0L739.7,681.3L737.0,679.2L733.7,678.2L730.7,676.8L727.7,675.4L724.7,673.9L722.1,672.0L719.7,669.8L716.6,668.8L713.8,667.2L712.2,663.7L708.6,663.1L706.0,661.2L703.7,659.3L701.1,657.9L699.4,655.5L697.4,653.4L695.3,651.1L693.2,648.8L690.9,646.5L689.4,643.3L686.4,641.3L684.1,638.7L681.8,635.8L678.1,634.3L675.7,631.3L673.9,627.5L670.8,625.4L666.9,624.5L665.2,620.8L661.2,620.7L659.6,617.5L656.3,616.8L655.2,613.4L651.5,612.9L650.0,609.6L647.1,607.9L643.9,606.5L641.9,603.8L641.1,599.8L637.2,599.1L634.8,596.8L631.9,595.0L631.4,590.8L628.2,589.3L625.8,587.0L624.3,583.9L621.7,581.9L618.8,580.0L616.2,577.9L615.6,574.1L613.8,571.5L611.8,568.9L609.6,566.6L606.5,565.0L605.1,562.1L603.4,559.4L601.0,557.2L601.1,553.3L599.3,550.7L595.4,549.3L594.4,546.1L593.2,543.0L590.9,540.6L591.1,536.7L586.9,535.3L585.8,532.1L584.8,528.8L582.1,526.4L581.6,522.9L581.0,519.5L578.3,517.1L576.5,514.2L575.0,511.2L574.2,507.8L572.7,504.8L570.9,501.9L569.0,499.1L568.2,495.7L567.6,492.2L564.0,490.3L564.1,486.6L562.6,483.6L561.0,480.5L558.4,477.9L557.8,474.4L556.0,471.6L554.7,468.4L552.7,465.7L551.6,462.5L549.4,459.7L548.5,456.4L546.7,453.5L545.2,450.5L543.5,447.5L543.4,443.9L541.6,440.9L539.5,438.2L539.0,434.7L537.6,431.6L536.1,428.6L533.9,425.9L533.1,422.6L531.4,419.6L530.3,416.4L529.0,413.3L528.1,410.0L526.3,407.2L525.6,403.8L524.3,400.7L523.1,397.5L521.9,394.4L520.6,391.2L519.3,388.1L517.9,385.0L516.7,381.8L515.7,378.6L514.1,375.6L513.1,372.3L512.0,369.1L510.6,366.0L509.4,362.8L508.2,359.6L506.9,356.5L505.8,353.2L504.6,350.1L503.1,347.0L502.1,343.7L500.9,340.5L499.6,337.4L498.3,334.3L497.4,331.0L496.3,327.7L495.2,324.5L493.5,321.5L492.6,318.3L491.5,315.1L490.5,311.9L489.3,308.7L487.6,305.7L486.3,302.6L485.7,299.2L484.3,296.1L483.1,293.0L481.8,289.9L480.9,286.6L480.2,283.3L478.6,280.4L477.8,277.2L476.8,274.1L476.1,270.8L475.1,267.5L474.3,264.3L473.3,261.1L472.4,257.9L471.0,254.7L470.0,251.5L468.9,248.4L467.9,245.1L467.5,241.8L466.5,238.5L465.3,235.4L464.4,232.1L463.3,228.9L462.6,225.7L461.9,222.3L460.7,219.2L460.0,215.9L458.9,212.7L458.0,209.4L456.8,206.2L455.6,203.1L455.0,199.7L453.4,196.7L452.7,193.4L452.1,190.1L451.1,186.9L449.7,183.8L449.0,180.5L447.8,177.3L447.0,174.0L446.1,170.8L445.3,167.5L443.8,164.4L442.8,161.2L442.5,157.8L441.2,154.6L440.2,151.4L439.3,148.1L438.2,144.9L437.9,143.9Z" fill="#000000"/><path d="M419.9,148.2L420.4,149.2L421.1,152.6L421.9,155.8L422.8,159.1L424.0,162.3L424.1,165.8L425.0,169.0L426.5,172.1L426.7,175.6L427.9,178.8L429.0,182.0L429.3,185.4L430.5,188.6L431.1,191.9L431.9,195.2L433.0,198.4L434.2,201.6L434.5,205.0L435.5,208.3L436.2,211.6L437.5,214.7L438.0,218.1L438.8,221.4L440.1,224.5L440.9,227.8L441.9,231.0L443.0,234.2L443.8,237.5L444.6,240.8L445.7,244.0L446.2,247.4L447.4,250.6L448.2,253.9L449.4,257.1L450.3,260.3L451.0,263.7L452.2,266.9L453.1,270.1L454.2,273.3L455.1,276.6L455.9,279.9L457.4,283.0L458.2,286.4L459.2,289.8L460.8,292.9L461.3,296.4L462.8,299.5L464.2,302.7L465.0,306.1L466.1,309.3L467.5,312.5L468.5,315.8L470.3,318.7L471.2,322.1L472.2,325.3L473.3,328.6L474.8,331.7L476.0,334.9L477.4,338.0L478.5,341.2L479.8,344.4L480.7,347.7L482.0,350.9L483.3,354.0L484.4,357.2L486.3,360.2L487.0,363.5L488.5,366.6L489.5,369.9L491.0,372.9L492.1,376.2L493.1,379.5L494.9,382.4L496.0,385.7L497.1,388.9L498.0,392.2L499.8,395.3L500.6,398.6L502.3,401.6L503.6,404.8L504.6,408.1L505.8,411.3L506.8,414.6L508.1,417.8L510.1,420.7L510.9,424.1L512.3,427.2L514.0,430.2L514.9,433.6L516.1,436.8L518.0,439.7L518.8,443.1L521.3,445.7L522.6,448.9L523.2,452.4L525.3,455.2L526.3,458.6L527.9,461.6L530.0,464.5L530.4,468.1L531.9,471.2L534.5,473.8L535.8,477.0L536.3,480.6L537.5,483.8L539.2,486.9L541.4,489.5L543.1,492.3L544.4,495.4L546.5,498.1L547.3,501.5L549.4,504.2L551.1,507.1L552.0,510.5L554.4,513.1L554.8,516.7L555.7,520.0L557.4,523.0L558.1,526.5L560.0,529.5L562.2,532.1L563.2,535.6L566.0,538.0L566.7,541.5L569.8,543.8L570.9,547.1L571.4,550.8L574.2,553.2L576.3,556.0L577.4,559.4L580.5,561.5L581.0,565.3L585.0,566.8L586.4,570.0L588.6,572.6L590.4,575.5L590.9,579.6L595.2,580.5L596.7,583.8L598.3,587.0L600.3,589.9L602.4,592.7L605.6,594.5L608.4,596.7L609.3,600.6L613.4,601.6L615.9,604.0L618.0,606.8L619.9,609.8L621.5,613.3L624.5,615.2L627.3,617.2L630.0,619.5L632.2,622.2L634.9,624.3L638.0,625.9L641.1,627.6L643.8,630.2L645.6,633.8L648.8,635.6L651.3,637.9L655.4,637.9L656.3,641.9L659.6,642.4L660.7,645.5L663.5,646.7L665.7,648.8L667.3,651.7L669.9,653.7L672.1,656.3L675.5,657.9L676.9,661.4L679.9,663.5L683.1,665.5L685.7,668.2L687.9,671.4L691.2,673.2L693.2,676.5L697.3,676.9L700.4,678.6L701.9,682.9L706.0,683.0L708.7,685.3L712.2,686.3L715.3,687.9L718.1,690.1L720.6,692.6L724.6,692.4L726.6,695.9L729.4,697.8L732.9,698.4L736.0,699.6L739.0,700.9L741.8,702.4L744.5,704.3L746.7,707.1L750.6,707.1L752.7,710.4L755.9,711.8L759.7,712.2L762.8,713.8L765.3,716.6L768.4,717.9L771.9,718.5L774.7,720.9L778.4,720.9L781.5,722.6L785.0,723.1L787.9,725.2L791.4,725.2L794.6,726.3L797.5,728.3L800.9,728.7L804.1,729.9L807.3,730.8L810.6,731.5L814.0,731.6L817.1,733.2L820.6,733.0L823.8,734.0L827.0,735.0L830.3,735.2L833.6,735.9L836.7,737.3L839.9,738.0L843.3,738.2L846.5,738.8L849.8,739.2L853.0,740.1L856.3,740.8L859.5,741.8L863.0,741.3L866.1,742.9L869.4,743.5L872.8,743.2L876.0,744.1L879.3,744.7L882.6,744.9L885.9,744.9L889.1,745.7L892.4,746.4L895.8,746.0L899.0,746.8L902.3,746.6L905.6,747.9L908.9,748.2L912.3,747.7L915.5,748.8L918.9,749.0L922.3,748.6L925.6,749.2L928.9,749.6L932.3,749.4L935.6,749.7L938.8,750.3L942.1,750.0L945.4,750.0L948.7,749.7L952.0,749.8L955.3,750.6L958.6,750.6L961.9,750.8L965.2,750.6L968.5,750.7L971.9,750.7L975.3,750.9L978.7,750.6L982.1,750.8L985.5,750.8L988.9,751.1L992.2,750.7L995.6,750.5L999.0,750.6L1002.4,750.7L1005.7,751.4L1009.1,751.3L1012.5,751.4L1015.9,751.1L1019.2,750.8L1022.6,751.2L1025.9,751.7L1029.2,751.4L1032.5,751.7L1035.9,751.5L1039.2,751.5L1042.5,752.1L1045.9,752.1L1049.3,752.1L1052.7,752.2L1056.1,752.8L1059.5,752.6L1063.0,752.9L1066.4,752.7L1069.9,753.2L1073.3,752.9L1076.8,752.9L1080.2,753.3L1083.6,753.1L1087.0,753.1L1090.4,752.6L1093.8,753.0L1097.2,752.4L1100.7,752.9L1104.1,752.6L1107.5,752.3L1110.9,752.2L1114.3,751.8L1117.8,751.7L1121.1,750.9L1120.0,734.8L1116.7,734.8L1113.3,734.8L1110.0,734.6L1106.7,735.6L1103.3,735.1L1100.0,735.2L1096.7,735.9L1093.3,735.3L1090.0,735.5L1086.7,736.2L1083.3,735.9L1080.0,736.1L1076.6,735.7L1073.3,735.6L1070.0,735.6L1066.7,736.0L1063.5,735.5L1060.1,735.6L1056.8,735.6L1053.5,735.2L1050.1,735.6L1046.8,734.9L1043.4,734.7L1040.0,734.7L1036.6,734.7L1033.1,734.9L1029.7,734.3L1026.3,734.3L1022.9,734.0L1019.5,734.6L1016.1,733.9L1012.7,733.8L1009.3,734.1L1005.9,734.0L1002.5,734.1L999.2,734.4L995.8,733.9L992.4,734.0L989.0,734.2L985.7,733.6L982.3,734.2L979.0,733.8L975.6,734.0L972.2,733.9L968.9,733.8L965.5,733.8L962.3,733.4L959.0,733.4L955.8,733.4L952.5,732.8L949.3,733.2L946.0,732.5L942.8,732.5L939.5,733.0L936.3,732.8L933.0,732.5L929.8,731.9L926.6,731.8L923.5,731.5L920.2,731.9L917.1,731.5L913.9,730.6L910.7,730.4L907.5,729.9L904.3,729.9L901.0,730.0L897.8,729.3L894.6,728.4L891.4,728.3L888.1,728.3L884.8,728.0L881.7,726.8L878.5,726.5L875.4,725.9L872.1,726.3L868.9,725.5L865.8,724.7L862.6,724.2L859.4,723.7L856.3,722.8L853.0,722.6L850.0,721.1L846.8,720.5L843.6,720.0L840.4,719.7L837.4,718.3L834.2,717.7L830.9,717.7L827.7,717.2L824.8,715.6L821.6,714.9L818.6,713.7L815.5,712.9L812.1,713.0L808.9,712.5L805.9,711.5L802.9,710.2L800.1,708.5L796.8,708.2L794.0,706.5L790.7,706.7L788.3,704.3L785.6,702.8L782.1,702.9L779.1,701.9L776.5,700.0L773.9,698.0L771.4,696.2L768.0,696.3L765.2,694.8L763.1,692.2L759.7,691.7L756.8,690.4L755.0,686.9L751.3,686.6L748.5,684.7L745.6,682.6L742.5,681.1L739.2,680.0L737.2,676.3L734.3,674.6L731.0,673.5L728.3,671.4L725.1,670.3L722.5,668.1L719.6,666.6L716.7,665.1L713.5,664.3L711.4,661.7L707.7,661.6L705.2,659.7L703.7,656.6L700.6,655.9L699.4,652.9L696.6,651.7L694.9,649.0L693.4,646.1L691.5,643.5L689.3,641.0L687.0,638.3L682.8,637.3L681.1,633.9L679.0,630.8L674.9,629.6L672.6,626.5L670.0,623.6L667.6,620.8L663.2,621.0L660.7,618.8L658.6,616.2L655.5,615.3L653.5,613.0L652.3,609.6L649.6,607.7L647.0,605.7L644.3,603.8L642.8,600.6L638.9,599.9L636.7,597.4L634.7,594.7L631.8,593.0L630.6,589.6L626.9,588.6L624.9,585.9L622.3,583.9L621.4,580.3L618.8,578.3L616.3,576.1L615.2,572.7L611.6,571.6L611.8,567.3L608.2,566.1L607.8,562.4L604.6,560.9L603.9,557.6L600.8,555.9L599.9,552.7L598.9,549.5L595.3,548.1L594.4,544.8L593.3,541.7L589.9,539.9L589.3,536.5L586.6,534.3L586.9,530.3L584.0,528.1L583.5,524.6L580.2,522.6L579.8,519.0L576.9,516.8L576.0,513.5L575.4,510.0L574.4,506.8L571.0,504.7L569.5,501.7L569.6,497.9L568.2,494.9L566.6,491.9L564.9,489.0L562.0,486.8L562.7,482.7L560.4,479.9L558.8,476.9L557.6,473.7L555.0,471.2L553.0,468.5L552.9,464.7L550.2,462.3L549.1,459.1L547.1,456.3L546.7,452.7L544.4,450.1L542.8,447.1L542.0,443.7L540.0,441.0L539.8,437.3L537.4,434.7L536.8,431.3L535.1,428.3L534.1,425.1L531.9,422.4L531.0,419.1L529.5,416.1L528.5,412.9L527.3,409.8L525.5,406.9L524.4,403.7L523.1,400.6L521.8,397.5L520.1,394.5L519.2,391.2L517.8,388.1L516.9,384.9L515.6,381.7L513.8,378.8L513.3,375.3L511.5,372.3L510.1,369.2L509.1,366.0L507.8,362.8L506.7,359.6L505.5,356.4L504.5,353.1L503.1,350.0L501.6,346.9L500.6,343.6L499.7,340.3L498.4,337.2L496.6,334.2L495.6,331.0L494.7,327.6L493.5,324.5L492.0,321.4L490.5,318.3L489.5,315.1L488.6,311.8L486.9,308.8L486.3,305.5L485.2,302.2L484.0,299.1L482.3,296.1L481.0,293.0L480.3,289.7L479.1,286.5L477.6,283.5L477.1,280.2L475.8,277.2L474.6,274.1L473.7,270.9L472.8,267.6L472.0,264.4L470.8,261.2L469.8,258.0L468.9,254.8L468.3,251.5L466.9,248.4L466.5,245.0L465.6,241.8L464.2,238.6L463.4,235.4L462.5,232.1L461.8,228.8L460.7,225.6L459.7,222.4L458.8,219.1L457.3,216.1L456.9,212.7L455.9,209.4L454.4,206.4L453.9,203.0L452.5,199.9L452.0,196.6L450.9,193.4L449.8,190.2L448.4,187.1L447.5,183.8L446.7,180.5L445.8,177.3L445.1,174.0L444.3,170.7L442.9,167.6L442.4,164.2L440.8,161.2L440.3,157.8L439.2,154.6L438.0,151.4L437.0,148.2L436.6,144.8L436.5,143.7Z" fill="#00ff00"/><path d="M419.3,148.2L419.9,149.2L420.7,152.5L421.8,155.8L422.3,159.1L423.3,162.3L423.8,165.7L424.8,169.0L425.6,172.2L426.8,175.4L427.7,178.7L428.0,182.1L428.8,185.4L429.9,188.6L430.5,191.9L431.5,195.2L432.5,198.4L433.5,201.6L434.4,204.9L435.1,208.2L436.2,211.4L436.9,214.7L437.8,218.0L439.0,221.2L439.6,224.5L440.6,227.8L441.2,231.1L441.9,234.4L443.0,237.6L443.9,240.9L444.9,244.1L446.1,247.3L446.9,250.6L447.5,253.9L448.4,257.2L450.0,260.3L451.1,263.5L451.3,267.0L452.4,270.2L453.6,273.4L454.4,276.7L455.6,279.9L456.4,283.2L457.9,286.3L458.8,289.6L459.7,292.9L461.1,296.0L461.8,299.4L463.2,302.5L463.9,305.8L464.9,309.1L466.3,312.2L467.0,315.5L468.4,318.6L469.4,321.9L471.1,324.9L472.2,328.1L472.8,331.5L473.8,334.7L475.2,337.8L476.1,341.1L477.9,344.0L478.4,347.4L479.6,350.6L480.9,353.7L482.2,356.9L483.1,360.1L484.6,363.1L485.4,366.4L486.5,369.6L487.8,372.8L489.1,375.9L490.4,379.0L491.4,382.2L492.1,385.6L493.7,388.6L494.9,391.8L496.0,395.0L496.9,398.3L498.0,401.5L499.0,404.8L500.2,407.9L501.3,411.2L502.5,414.3L504.1,417.4L505.6,420.4L506.1,423.9L508.0,426.8L508.9,430.2L510.5,433.2L511.2,436.6L513.1,439.5L514.2,442.7L515.7,445.8L516.2,449.2L517.8,452.3L519.1,455.4L520.9,458.4L522.4,461.4L522.7,465.0L524.2,468.1L525.6,471.2L526.6,474.5L528.7,477.3L530.7,480.1L531.4,483.6L533.4,486.4L534.4,489.7L536.0,492.8L537.2,496.0L538.0,499.4L539.7,502.4L542.0,505.0L542.6,508.5L544.0,511.6L545.6,514.6L547.7,517.4L548.3,520.9L550.9,523.5L553.5,526.0L554.6,529.3L555.2,532.9L557.5,535.6L559.1,538.7L560.8,541.7L563.0,544.5L565.0,547.3L566.9,550.3L567.0,554.2L569.7,556.6L571.2,559.8L571.8,563.5L574.5,565.9L576.0,569.1L578.1,571.9L579.6,575.1L583.9,576.3L585.2,579.6L586.0,583.4L589.3,585.2L590.4,588.9L594.5,590.1L597.0,592.5L597.4,596.8L600.9,598.4L603.1,601.2L604.5,604.7L608.5,605.7L609.4,609.8L613.1,611.1L615.9,613.2L618.4,615.6L620.4,618.6L623.0,620.9L624.7,624.2L629.0,624.6L631.6,626.9L634.0,629.5L635.9,632.9L638.6,635.6L642.0,637.0L644.6,639.3L647.2,641.3L650.9,641.6L652.8,644.0L653.5,647.6L657.0,648.2L657.9,651.7L661.0,653.0L663.8,654.9L666.6,657.0L668.4,660.0L670.5,662.8L672.8,665.7L675.3,668.3L677.9,671.1L680.9,673.4L684.7,674.6L687.1,677.3L688.8,681.1L693.4,680.7L695.3,684.4L698.7,685.5L701.4,687.9L705.0,688.6L708.0,690.4L710.9,692.4L713.4,695.0L717.2,695.2L720.5,696.2L723.6,697.7L725.4,701.2L729.1,701.5L732.2,702.7L734.5,705.4L737.1,707.6L740.3,708.8L743.9,709.5L746.7,711.8L749.9,713.2L753.4,714.3L755.7,717.8L759.4,718.2L762.9,718.9L765.5,721.8L768.7,723.3L772.2,724.2L776.0,724.3L779.4,725.3L782.5,727.0L785.8,728.1L789.0,729.6L792.2,730.7L795.6,731.5L799.2,731.4L802.5,732.7L806.0,732.7L809.2,734.2L812.8,734.3L816.1,735.1L819.5,735.8L822.8,736.8L826.1,737.5L829.4,738.8L832.9,738.5L836.2,739.2L839.4,740.6L842.8,741.2L846.1,741.8L849.5,742.4L852.9,742.9L856.3,743.4L859.7,744.1L863.2,743.9L866.5,744.6L869.8,745.7L873.3,745.5L876.7,746.4L880.1,746.5L883.4,747.1L886.7,748.0L890.1,748.2L893.5,748.3L897.0,748.5L900.3,749.5L903.7,749.7L907.2,749.8L910.5,750.6L914.0,750.7L917.4,751.3L920.9,751.2L924.3,751.6L927.8,751.4L931.2,751.8L934.6,752.0L938.0,751.4L941.4,751.9L944.8,752.1L948.2,751.7L951.6,752.5L955.0,752.5L958.3,752.8L961.7,752.3L965.1,752.5L968.5,753.0L971.9,752.6L975.3,753.0L978.7,752.7L982.1,752.7L985.5,752.7L988.9,752.6L992.2,752.9L995.6,752.6L999.0,753.3L1002.4,753.5L1005.8,752.7L1009.1,752.7L1012.5,752.7L1015.8,753.6L1019.2,752.8L1022.6,753.4L1025.9,753.1L1029.2,753.1L1032.5,753.3L1035.8,753.8L1039.2,753.3L1042.5,754.3L1045.9,754.2L1049.3,754.0L1052.7,754.2L1056.1,754.7L1059.5,754.9L1063.0,754.7L1066.4,754.8L1069.9,754.9L1073.3,755.4L1076.8,755.0L1080.2,755.3L1083.6,755.0L1087.0,754.9L1090.4,754.7L1093.8,754.8L1097.2,754.5L1100.7,754.6L1104.1,754.0L1107.5,753.9L1110.9,754.3L1114.3,753.6L1117.8,753.8L1121.2,753.7L1120.0,736.0L1116.6,736.3L1113.3,736.5L1110.0,737.2L1106.6,736.9L1103.3,737.5L1100.0,737.0L1096.6,737.7L1093.3,737.6L1090.0,737.4L1086.6,737.9L1083.3,737.9L1080.0,738.3L1076.6,737.7L1073.3,738.4L1070.0,738.2L1066.7,737.8L1063.4,737.9L1060.1,738.0L1056.8,737.4L1053.5,737.1L1050.1,737.7L1046.8,736.7L1043.4,736.8L1040.0,736.7L1036.6,737.1L1033.1,736.7L1029.7,736.4L1026.3,736.6L1022.9,736.4L1019.5,735.8L1016.1,736.4L1012.7,736.1L1009.3,735.7L1005.9,736.0L1002.5,736.3L999.2,736.5L995.8,736.1L992.4,735.6L989.0,735.9L985.7,735.7L982.3,735.4L979.0,735.6L975.6,735.7L972.2,735.4L968.9,735.7L965.5,736.0L962.1,735.3L958.8,735.1L955.4,735.4L952.1,734.9L948.7,735.2L945.3,735.4L942.0,734.6L938.6,734.7L935.3,734.6L931.9,734.9L928.6,734.3L925.3,734.4L922.0,734.1L918.8,733.4L915.5,733.4L912.2,733.1L908.9,732.8L905.6,732.4L902.2,732.1L898.9,731.7L895.6,730.7L892.2,731.2L889.0,730.0L885.6,730.2L882.2,729.9L879.0,728.9L875.7,728.5L872.5,727.7L869.1,727.9L865.8,727.3L862.5,727.0L859.3,726.0L855.9,726.0L852.7,724.8L849.4,724.2L846.2,723.1L842.9,722.7L839.5,722.4L836.4,721.0L833.0,721.3L829.9,719.6L826.7,718.8L823.4,718.3L820.2,717.4L816.8,717.6L813.8,715.5L810.4,715.5L807.3,714.3L804.1,713.6L800.6,713.6L797.6,712.1L794.6,710.9L791.6,709.5L788.5,708.4L785.4,707.7L782.1,707.5L779.2,705.8L776.4,704.2L773.2,703.4L770.2,702.3L767.0,701.4L765.0,698.2L761.5,698.2L758.8,696.5L756.4,694.3L753.6,692.6L750.2,691.9L748.2,688.7L744.2,688.7L741.8,685.9L738.3,685.1L735.8,682.6L732.2,682.0L730.3,678.2L727.3,676.6L723.2,677.0L721.3,673.4L718.0,672.6L715.4,670.4L711.6,670.3L709.5,667.5L707.4,664.8L703.9,664.5L701.3,662.7L698.4,661.4L696.5,658.9L695.2,655.9L691.3,656.1L691.0,652.2L688.4,650.6L686.1,648.4L683.6,646.3L681.8,643.4L678.0,642.1L677.0,638.3L675.1,635.0L670.5,634.4L668.8,630.7L665.6,628.5L662.5,626.5L659.9,623.8L656.2,623.0L653.5,621.1L652.4,617.2L649.2,616.3L647.2,614.1L645.0,611.8L643.1,608.9L638.9,608.7L638.0,604.8L634.2,604.0L632.7,600.8L630.7,598.0L627.5,596.6L624.5,594.9L622.6,592.1L620.5,589.5L618.5,586.8L616.6,584.1L614.3,581.7L612.2,579.3L610.2,576.6L608.7,573.7L606.5,571.3L604.8,568.6L601.7,566.9L599.1,564.9L598.7,561.3L595.9,559.4L593.2,557.4L591.4,554.8L590.5,551.5L588.1,549.2L587.0,546.0L586.2,542.7L583.8,540.4L582.8,537.2L581.5,534.1L578.0,532.2L578.2,528.3L575.5,526.0L574.1,523.0L573.3,519.6L572.5,516.2L569.3,514.1L567.9,511.0L565.5,508.4L565.1,504.8L564.3,501.5L562.9,498.4L560.5,495.8L558.8,492.9L556.6,490.3L556.5,486.6L554.1,484.1L553.8,480.5L551.1,478.1L550.5,474.7L549.4,471.6L546.6,469.2L546.5,465.6L544.9,462.6L542.7,459.9L541.6,456.7L539.8,453.9L539.7,450.3L537.5,447.6L536.2,444.5L534.5,441.5L534.0,438.1L532.6,435.1L531.0,432.1L529.9,428.9L528.8,425.8L527.1,422.8L525.8,419.8L525.0,416.5L523.4,413.6L522.0,410.5L521.3,407.2L520.3,404.0L518.8,401.0L517.6,397.9L516.9,394.6L515.2,391.6L514.2,388.4L512.8,385.3L511.9,382.1L510.6,378.9L509.4,375.8L508.7,372.5L507.3,369.4L506.5,366.1L505.1,363.0L503.8,359.9L503.2,356.5L502.1,353.3L501.0,350.1L499.8,346.9L498.5,343.8L497.3,340.7L496.2,337.5L495.0,334.3L494.0,331.1L492.9,327.9L491.4,324.9L490.4,321.7L489.3,318.5L487.9,315.4L486.9,312.2L486.4,308.8L485.2,305.7L483.9,302.6L482.5,299.5L481.3,296.4L480.6,293.1L479.2,290.0L478.6,286.7L477.4,283.6L476.4,280.4L475.7,277.1L474.6,274.0L473.4,270.8L472.8,267.5L471.4,264.4L470.9,261.1L469.6,257.9L468.7,254.7L467.6,251.5L466.7,248.3L465.4,245.2L464.6,241.9L463.7,238.7L462.7,235.4L461.9,232.1L460.9,228.9L460.0,225.7L458.7,222.5L458.4,219.1L457.1,216.0L455.8,212.8L454.7,209.7L454.3,206.3L453.4,203.0L452.4,199.8L451.4,196.6L450.1,193.4L449.1,190.2L448.3,186.9L446.9,183.8L446.0,180.6L445.6,177.2L444.4,174.0L443.2,170.9L442.1,167.7L441.1,164.4L440.5,161.1L439.9,157.8L438.5,154.7L437.8,151.4L437.0,148.1L435.6,145.0L435.6,143.8Z" fill="#ff0000"/><path d="M1119.6,736.5L1126.1,742.3L1119.6,752.1Z" fill="#ff0000"/></g>
<g shape-rendering="crispEdges"><path d="M1284.6,148.4L1285.2,149.4L1285.6,152.5L1286.2,155.5L1287.6,158.3L1288.7,161.2L1289.3,164.2L1289.4,167.4L1291.1,170.2L1291.9,173.2L1292.7,176.2L1292.8,179.4L1294.1,182.2L1294.6,185.3L1295.5,188.3L1296.6,191.2L1297.1,194.3L1298.3,197.3L1299.1,200.3L1300.2,203.2L1301.4,206.1L1301.8,209.3L1303.0,212.2L1304.0,215.2L1304.4,218.3L1305.9,221.1L1307.2,224.0L1307.7,227.2L1308.9,230.2L1310.6,233.1L1311.5,236.1L1312.5,239.2L1314.0,242.0L1314.6,245.2L1316.0,248.0L1317.5,250.8L1318.4,253.8L1320.5,256.4L1321.6,259.3L1322.3,262.5L1323.9,265.2L1325.5,267.9L1326.4,271.0L1327.6,273.9L1329.0,276.7L1330.7,279.2L1331.8,282.0L1332.7,285.0L1334.2,287.7L1335.3,290.5L1335.9,293.6L1337.3,296.4L1338.8,299.1L1339.2,302.3L1340.8,305.0L1341.5,308.0L1342.9,310.8L1344.1,313.7L1345.4,316.5L1346.4,319.5L1347.9,322.2L1349.1,325.1L1349.7,328.2L1351.6,330.8L1352.6,333.8L1353.5,336.8L1355.1,339.5L1356.3,342.4L1357.1,345.5L1359.0,348.0L1360.2,350.9L1360.9,354.0L1362.8,356.6L1364.1,359.5L1364.9,362.5L1366.8,365.1L1367.5,368.2L1369.0,370.9L1370.4,373.8L1372.3,376.3L1373.7,379.1L1374.7,382.2L1376.0,385.0L1378.0,387.5L1379.4,390.2L1380.8,393.0L1382.3,395.7L1383.5,398.7L1384.9,401.5L1386.2,404.3L1388.2,406.8L1389.6,409.6L1391.2,412.3L1392.6,415.1L1394.2,417.7L1395.1,420.8L1397.2,423.2L1399.0,425.8L1400.1,428.7L1401.5,431.5L1403.3,434.1L1405.1,436.6L1406.9,439.1L1408.6,441.7L1410.4,444.3L1411.7,447.2L1413.4,449.8L1415.4,452.2L1416.9,455.0L1418.8,457.5L1420.6,460.1L1422.8,462.4L1424.6,464.9L1426.5,467.5L1427.8,470.4L1429.8,472.9L1431.6,475.5L1433.6,477.9L1435.6,480.5L1437.9,482.7L1439.7,485.4L1442.2,487.4L1443.9,490.1L1446.4,492.1L1447.8,495.1L1450.0,497.4L1452.6,499.2L1454.3,501.9L1456.4,504.3L1459.3,506.1L1461.2,508.7L1463.7,510.9L1465.9,513.3L1468.1,515.6L1470.7,517.7L1473.4,519.4L1475.6,521.7L1478.1,523.8L1480.8,525.4L1483.2,527.5L1485.4,529.7L1487.9,531.6L1490.2,533.7L1492.2,536.0L1494.3,538.3L1496.9,540.0L1499.1,542.2L1501.3,544.4L1503.7,546.4L1506.0,548.5L1508.7,550.1L1510.4,552.9L1513.2,554.5L1515.6,556.6L1517.7,559.0L1520.0,561.2L1522.2,563.4L1524.9,565.1L1526.9,567.7L1529.5,569.5L1531.8,571.8L1534.5,573.5L1537.3,575.2L1539.8,577.1L1541.9,579.6L1544.5,581.3L1547.0,583.3L1549.5,585.1L1552.1,586.9L1554.5,589.1L1557.2,590.8L1559.4,593.2L1562.4,594.5L1564.6,597.0L1567.3,598.8L1570.2,600.2L1572.7,602.3L1575.5,603.9L1578.3,605.6L1580.9,607.5L1583.7,609.2L1586.8,610.3L1589.3,612.4L1592.6,613.1L1595.4,614.5L1598.1,616.3L1601.1,617.5L1603.9,619.0L1606.8,620.3L1609.8,621.5L1612.5,623.2L1615.4,624.4L1618.6,625.1L1621.5,626.2L1624.3,627.7L1627.4,628.4L1630.2,629.8L1633.0,631.2L1636.2,631.7L1638.8,633.5L1641.8,634.6L1644.8,635.4L1647.8,636.3L1650.6,637.7L1653.7,638.5L1656.4,640.1L1659.5,640.9L1662.5,641.7L1665.3,643.2L1668.3,644.0L1671.4,644.6L1674.3,645.9L1677.2,646.9L1680.1,648.4L1683.2,648.7L1686.0,649.8L1688.8,651.3L1692.0,651.8L1694.8,653.2L1698.0,653.5L1700.9,654.8L1703.9,655.5L1706.7,657.2L1709.8,657.8L1712.9,658.5L1715.9,659.3L1718.8,660.5L1721.9,661.1L1724.9,662.4L1727.8,663.5L1731.0,664.0L1734.0,664.7L1737.0,665.7L1740.1,666.3L1743.0,667.8L1746.2,667.8L1749.1,669.2L1752.2,669.6L1755.2,670.7L1758.2,671.5L1761.4,671.6L1764.3,673.0L1767.3,673.9L1770.5,674.2L1773.5,675.0L1776.6,675.3L1779.7,675.9L1782.7,677.1L1785.7,677.8L1788.9,677.8L1792.0,678.4L1795.0,679.3L1798.0,680.1L1801.1,680.5L1804.1,681.7L1807.2,682.1L1810.3,682.8L1813.4,683.1L1816.5,683.8L1819.5,684.5L1822.7,684.2L1825.7,685.2L1828.9,685.4L1831.9,686.5L1835.0,686.4L1838.0,687.4L1841.2,687.5L1844.2,688.3L1847.3,688.8L1850.4,689.5L1853.5,689.9L1856.6,689.9L1859.7,690.6L1862.9,690.5L1866.0,690.8L1869.0,691.8L1872.1,692.4L1875.1,692.7L1878.2,692.8L1881.2,693.4L1884.3,693.9L1887.4,694.2L1890.5,694.4L1893.6,695.3L1896.8,695.2L1899.8,696.1L1903.0,696.4L1906.1,696.7L1909.3,697.1L1912.4,697.6L1915.6,697.8L1918.9,697.6L1922.0,697.7L1925.1,698.2L1928.2,698.6L1931.3,698.4L1934.5,698.0L1937.6,698.1L1940.6,698.7L1943.7,699.2L1946.8,699.4L1950.0,699.1L1953.1,699.3L1956.2,699.5L1959.3,699.1L1962.5,699.2L1965.6,699.8L1968.7,699.8L1969.2,683.0L1966.1,682.9L1963.0,682.3L1959.9,682.3L1956.9,681.8L1953.8,682.1L1950.7,682.1L1947.6,682.0L1944.5,681.9L1941.5,681.9L1938.4,681.6L1935.3,680.7L1932.2,681.0L1929.1,681.3L1926.1,680.4L1923.0,680.5L1920.0,680.7L1917.0,679.8L1914.1,679.4L1911.0,679.4L1908.0,678.9L1905.0,679.1L1902.0,678.7L1899.0,677.9L1895.8,678.2L1892.9,677.0L1889.7,677.1L1886.7,676.4L1883.7,675.8L1880.6,675.5L1877.4,675.4L1874.3,674.9L1871.2,674.4L1868.2,674.3L1865.1,673.8L1862.1,673.4L1859.0,673.1L1856.0,672.5L1853.0,671.9L1849.9,671.6L1846.9,671.2L1843.8,670.5L1840.8,670.1L1837.7,669.8L1834.7,669.4L1831.7,668.2L1828.5,668.6L1825.6,667.5L1822.6,666.7L1819.6,666.4L1816.5,666.2L1813.5,665.4L1810.4,665.1L1807.4,664.6L1804.4,663.9L1801.4,663.4L1798.4,662.6L1795.4,662.1L1792.4,661.0L1789.3,661.0L1786.3,660.1L1783.4,658.8L1780.3,658.9L1777.4,657.9L1774.3,657.7L1771.4,656.3L1768.4,655.7L1765.3,655.5L1762.3,654.8L1759.5,653.2L1756.5,652.6L1753.5,652.0L1750.4,651.7L1747.5,650.6L1744.6,649.6L1741.6,648.6L1738.7,647.9L1735.7,647.3L1732.8,646.1L1729.8,645.5L1726.8,644.9L1723.9,643.8L1721.1,642.7L1718.2,641.8L1715.0,641.5L1712.1,640.4L1709.3,639.2L1706.5,637.8L1703.4,637.5L1700.5,636.4L1697.7,635.0L1694.7,634.0L1691.8,633.1L1688.7,632.2L1685.7,631.6L1683.0,629.8L1679.9,629.4L1677.1,628.2L1674.2,627.2L1671.4,625.8L1668.3,625.3L1665.3,624.5L1662.4,623.5L1659.8,621.8L1656.9,620.8L1654.0,619.8L1651.0,619.1L1648.1,617.9L1645.4,616.4L1642.4,615.7L1639.6,614.4L1636.7,613.3L1633.7,612.4L1630.9,611.2L1627.9,610.3L1625.3,608.5L1622.4,607.5L1619.4,606.8L1616.6,605.5L1613.9,604.1L1611.2,602.8L1608.3,601.9L1605.6,600.6L1603.1,598.9L1600.7,597.2L1598.1,595.9L1595.1,595.3L1592.7,593.7L1590.1,592.3L1587.8,590.2L1585.3,588.6L1582.8,587.0L1580.4,585.1L1577.7,583.7L1575.4,581.7L1572.6,580.3L1570.2,578.4L1567.9,576.3L1565.5,574.4L1562.8,572.8L1560.0,571.4L1557.7,569.4L1555.3,567.4L1553.1,565.1L1550.3,563.7L1548.0,561.8L1546.1,559.3L1543.7,557.5L1541.0,556.0L1539.1,553.6L1536.5,551.9L1534.2,549.9L1531.8,547.9L1529.9,545.4L1527.2,543.8L1525.0,541.6L1522.6,539.6L1520.2,537.6L1518.3,535.1L1515.7,533.3L1513.5,531.0L1511.1,529.0L1508.7,526.9L1506.7,524.4L1504.0,522.7L1501.6,520.6L1499.4,518.3L1496.8,516.3L1494.4,514.3L1491.8,512.5L1489.5,510.2L1487.0,508.4L1485.2,505.7L1482.3,504.4L1480.2,502.2L1478.1,499.9L1476.0,497.8L1473.4,496.3L1471.6,493.9L1469.4,492.0L1467.6,489.5L1465.3,487.5L1463.7,484.9L1461.8,482.6L1459.4,480.8L1457.8,478.1L1455.3,476.3L1454.0,473.4L1451.5,471.6L1449.7,469.2L1447.7,466.9L1446.5,464.1L1444.0,462.2L1442.8,459.3L1440.4,457.3L1438.7,454.8L1436.9,452.3L1435.5,449.6L1433.3,447.4L1432.3,444.4L1430.0,442.4L1428.8,439.5L1427.1,437.0L1425.1,434.7L1423.9,431.8L1422.3,429.3L1420.6,426.8L1418.6,424.5L1416.9,422.0L1415.8,419.1L1413.6,417.0L1412.4,414.2L1411.0,411.5L1409.3,409.1L1407.5,406.6L1406.8,403.5L1404.7,401.3L1403.3,398.6L1402.1,395.8L1400.2,393.3L1399.2,390.4L1397.8,387.7L1396.0,385.2L1395.2,382.2L1393.6,379.5L1391.8,376.9L1390.5,374.1L1389.1,371.4L1388.2,368.4L1386.6,365.8L1384.9,363.2L1383.6,360.4L1382.7,357.4L1380.9,354.9L1379.9,352.0L1378.6,349.3L1377.6,346.4L1375.9,343.8L1374.9,340.9L1373.6,338.2L1372.7,335.2L1370.6,332.8L1369.4,330.0L1368.9,326.9L1367.8,324.0L1366.2,321.3L1364.9,318.5L1363.6,315.7L1362.6,312.8L1361.7,309.8L1360.0,307.2L1359.6,304.0L1358.3,301.2L1356.7,298.5L1355.9,295.5L1354.4,292.8L1352.9,290.0L1352.3,286.9L1350.8,284.2L1350.2,281.1L1349.0,278.2L1347.0,275.6L1345.9,272.7L1345.1,269.5L1343.9,266.5L1342.7,263.6L1340.8,261.1L1339.6,258.1L1338.7,255.1L1337.1,252.4L1336.0,249.5L1334.8,246.6L1333.5,243.8L1332.3,240.9L1330.9,238.2L1329.6,235.4L1328.9,232.3L1327.1,229.7L1326.1,226.9L1325.4,224.0L1324.5,221.2L1323.5,218.3L1322.5,215.5L1320.7,212.9L1320.5,209.8L1319.5,206.9L1318.4,204.1L1317.6,201.1L1316.2,198.4L1315.3,195.5L1314.6,192.5L1314.3,189.4L1312.7,186.6L1312.0,183.6L1311.8,180.5L1310.8,177.6L1309.9,174.6L1308.5,171.8L1308.6,168.6L1307.8,165.6L1306.9,162.6L1305.3,159.8L1305.0,156.7L1304.1,153.7L1303.0,150.8L1302.7,147.7L1301.2,144.8L1301.5,143.5Z" fill="#00ffff"/><path d="M1284.1,148.5L1285.0,149.4L1285.3,152.5L1286.7,155.3L1287.2,158.4L1288.0,161.4L1289.4,164.2L1290.3,167.2L1290.7,170.3L1291.8,173.2L1292.5,176.2L1293.4,179.2L1294.1,182.2L1294.8,185.3L1295.8,188.2L1296.7,191.2L1297.4,194.3L1298.1,197.3L1299.6,200.1L1299.6,203.4L1301.0,206.2L1301.5,209.4L1303.3,212.1L1304.2,215.1L1305.2,218.1L1305.4,221.3L1306.9,224.1L1307.5,227.2L1308.7,230.2L1310.4,232.9L1311.2,235.9L1312.4,238.8L1313.4,241.8L1314.3,244.8L1316.1,247.5L1316.4,250.7L1318.0,253.4L1319.3,256.3L1320.2,259.3L1321.8,262.0L1322.6,265.1L1324.0,267.8L1325.2,270.7L1326.6,273.5L1327.8,276.3L1328.4,279.4L1329.8,282.2L1331.2,285.0L1332.0,287.9L1333.0,290.8L1334.9,293.4L1335.3,296.6L1337.3,299.1L1337.9,302.2L1339.4,304.9L1340.6,307.8L1341.5,310.8L1342.6,313.7L1343.9,316.5L1344.8,319.5L1345.8,322.5L1347.7,325.0L1348.8,327.9L1349.7,331.0L1351.1,333.8L1352.4,336.6L1353.4,339.6L1354.5,342.5L1355.6,345.5L1356.8,348.3L1358.2,351.1L1359.9,353.8L1360.8,356.9L1362.2,359.6L1364.1,362.2L1364.7,365.4L1366.7,367.9L1367.7,370.9L1369.0,373.7L1370.2,376.6L1371.8,379.3L1373.0,382.3L1375.2,384.6L1376.7,387.4L1378.0,390.3L1379.1,393.3L1380.7,396.0L1382.5,398.6L1383.9,401.4L1385.1,404.3L1386.7,407.0L1388.0,409.9L1389.8,412.5L1391.0,415.5L1392.7,418.1L1394.5,420.7L1396.2,423.3L1398.0,425.9L1399.6,428.6L1401.2,431.3L1402.9,433.9L1404.7,436.4L1406.2,439.2L1408.2,441.6L1409.3,444.7L1411.4,447.1L1413.5,449.5L1415.1,452.2L1417.0,454.7L1418.9,457.3L1420.5,460.0L1422.6,462.4L1424.5,465.0L1425.9,467.9L1428.1,470.2L1429.8,472.9L1431.9,475.3L1433.9,477.8L1436.0,480.2L1437.9,482.7L1439.9,485.2L1442.1,487.5L1443.7,490.2L1446.3,492.2L1448.4,494.6L1450.4,497.0L1452.2,499.6L1454.3,502.0L1456.7,504.1L1459.1,506.2L1461.2,508.7L1463.5,511.0L1466.3,512.8L1468.4,515.2L1470.8,517.3L1473.4,519.1L1476.0,520.9L1478.1,523.3L1480.8,525.0L1483.1,527.0L1485.4,529.1L1487.5,531.4L1490.3,532.7L1492.7,534.7L1494.6,537.0L1496.7,539.3L1499.6,540.7L1501.5,543.2L1504.2,544.8L1506.1,547.3L1508.7,549.0L1510.6,551.5L1513.2,553.4L1515.3,555.7L1517.9,557.4L1520.4,559.4L1522.7,561.5L1525.0,563.7L1527.5,565.6L1529.9,567.7L1532.1,569.9L1534.6,571.9L1536.9,574.1L1539.6,575.8L1542.0,577.7L1544.4,579.8L1546.8,581.8L1549.5,583.4L1552.3,584.9L1554.6,587.1L1557.4,588.6L1559.6,591.0L1562.6,592.4L1564.9,594.6L1567.8,596.1L1570.0,598.4L1573.1,599.5L1575.5,601.7L1578.3,603.5L1581.2,604.7L1583.9,606.6L1586.8,607.9L1589.7,609.4L1592.5,610.8L1595.5,612.0L1598.1,614.0L1601.2,614.8L1604.1,616.2L1607.0,617.4L1609.7,619.3L1612.7,620.2L1615.6,621.4L1618.5,622.7L1621.4,624.0L1624.4,625.0L1627.3,626.0L1630.3,627.0L1633.1,628.3L1635.9,629.8L1638.9,630.6L1641.9,631.6L1644.7,633.1L1647.9,633.4L1650.8,634.4L1653.5,636.2L1656.4,637.4L1659.7,637.6L1662.7,638.6L1665.6,639.6L1668.4,641.1L1671.5,641.7L1674.3,643.1L1677.2,644.1L1680.4,644.5L1683.1,646.3L1686.2,646.6L1689.1,647.9L1692.1,648.7L1695.1,649.6L1698.0,650.6L1701.1,651.2L1704.0,652.5L1707.0,653.3L1710.0,654.3L1713.0,655.0L1716.0,656.0L1718.9,657.3L1721.8,658.4L1725.1,658.5L1727.9,660.0L1731.0,660.5L1734.2,660.8L1737.2,661.5L1740.0,663.1L1743.2,663.3L1746.3,663.9L1749.2,665.1L1752.2,665.9L1755.3,666.8L1758.4,667.1L1761.5,667.6L1764.5,668.3L1767.6,668.9L1770.6,669.9L1773.6,670.9L1776.8,670.7L1779.8,671.6L1782.9,672.2L1786.0,672.5L1788.9,673.6L1791.9,674.6L1795.1,674.4L1798.1,675.5L1801.2,676.2L1804.3,676.1L1807.3,677.3L1810.4,677.7L1813.5,678.1L1816.7,678.2L1819.8,678.7L1822.9,679.1L1825.8,680.3L1828.9,680.7L1832.1,680.4L1835.1,681.3L1838.3,681.5L1841.3,682.4L1844.4,682.7L1847.4,683.5L1850.5,683.7L1853.7,683.5L1856.8,684.1L1859.9,684.7L1862.9,685.4L1866.1,685.2L1869.2,685.4L1872.3,685.9L1875.4,686.1L1878.4,686.4L1881.5,686.9L1884.6,687.2L1887.6,687.8L1890.7,688.5L1893.8,688.9L1897.0,688.4L1900.1,689.1L1903.2,689.5L1906.4,689.3L1909.5,689.9L1912.7,689.8L1915.9,690.1L1919.1,690.2L1922.2,690.8L1925.4,690.3L1928.5,690.7L1931.6,690.9L1934.7,690.7L1937.8,691.4L1940.9,690.8L1944.0,690.9L1947.1,691.3L1950.2,691.2L1953.3,691.5L1956.4,690.9L1959.6,691.0L1962.7,691.6L1965.8,691.2L1968.9,691.7L1968.9,674.1L1965.8,674.5L1962.8,674.3L1959.7,673.6L1956.6,674.3L1953.6,673.6L1950.5,674.0L1947.4,674.1L1944.3,673.4L1941.2,674.1L1938.2,673.7L1935.1,673.4L1932.0,673.2L1928.9,673.3L1925.9,673.4L1922.8,673.4L1919.8,672.9L1916.8,672.7L1913.8,672.7L1910.8,672.7L1907.8,672.4L1904.7,672.5L1901.7,672.2L1898.7,671.6L1895.6,671.6L1892.6,670.6L1889.5,670.6L1886.4,670.6L1883.4,669.7L1880.3,669.6L1877.2,669.5L1874.2,668.7L1871.0,669.0L1868.1,668.0L1865.0,668.0L1862.0,667.1L1858.9,667.5L1855.9,666.8L1852.8,666.5L1849.8,665.6L1846.7,665.8L1843.8,664.7L1840.7,664.5L1837.6,664.3L1834.6,663.9L1831.5,663.7L1828.5,663.1L1825.4,662.7L1822.5,661.4L1819.4,661.8L1816.4,660.7L1813.4,660.5L1810.3,660.2L1807.3,659.6L1804.3,658.8L1801.3,658.2L1798.2,657.9L1795.3,657.1L1792.3,656.2L1789.3,655.9L1786.2,655.4L1783.3,654.4L1780.1,654.6L1777.2,653.7L1774.2,653.2L1771.1,652.6L1768.3,651.2L1765.2,651.0L1762.2,650.3L1759.3,649.6L1756.4,648.4L1753.2,648.4L1750.3,647.4L1747.5,646.2L1744.3,646.3L1741.5,644.8L1738.5,644.4L1735.4,644.1L1732.6,642.9L1729.6,642.1L1726.6,641.6L1723.8,640.4L1720.8,639.7L1717.9,638.6L1714.9,638.1L1712.2,636.4L1709.3,635.5L1706.2,634.9L1703.4,633.8L1700.2,633.5L1697.6,631.8L1694.4,631.5L1691.7,629.8L1688.7,629.1L1685.6,628.7L1682.8,627.4L1680.0,625.9L1677.1,625.0L1674.2,624.0L1671.1,623.6L1668.2,622.6L1665.2,621.7L1662.3,620.7L1659.8,618.9L1656.6,618.7L1654.0,616.8L1650.9,616.2L1648.1,615.1L1645.2,614.1L1642.4,612.9L1639.4,612.0L1636.7,610.4L1633.9,609.3L1630.9,608.3L1627.9,607.6L1625.2,606.0L1622.3,605.0L1619.5,603.9L1616.5,603.0L1614.1,601.1L1611.2,600.1L1608.4,598.9L1605.6,598.0L1603.2,596.1L1600.4,595.2L1597.9,593.6L1595.2,592.5L1592.9,590.7L1589.9,589.9L1587.4,588.4L1585.1,586.5L1582.6,584.8L1580.0,583.4L1577.8,581.2L1575.1,579.9L1572.4,578.4L1570.1,576.3L1567.5,574.8L1565.3,572.6L1562.5,571.2L1560.2,569.1L1557.5,567.6L1555.2,565.6L1553.0,563.4L1550.3,561.9L1547.9,560.0L1545.5,558.3L1543.2,556.3L1540.9,554.4L1538.6,552.4L1536.5,550.2L1534.1,548.4L1532.1,546.0L1529.8,544.0L1527.4,542.0L1525.1,540.0L1522.9,537.8L1520.3,536.2L1518.2,533.9L1515.5,532.2L1513.3,529.9L1511.2,527.6L1508.7,525.8L1506.2,523.9L1504.0,521.6L1501.7,519.4L1499.5,517.1L1496.6,515.6L1494.4,513.3L1491.8,511.5L1489.2,509.8L1487.4,507.1L1484.7,505.7L1482.5,503.6L1480.1,501.7L1478.0,499.5L1475.9,497.5L1473.8,495.5L1471.3,493.9L1469.4,491.8L1467.2,489.8L1465.3,487.5L1463.3,485.3L1461.6,482.8L1459.9,480.3L1457.6,478.3L1455.9,475.8L1453.8,473.6L1451.8,471.3L1449.8,469.0L1447.8,466.7L1445.9,464.3L1444.1,461.8L1441.9,459.7L1440.6,456.8L1438.6,454.5L1436.4,452.3L1435.2,449.4L1433.2,447.1L1431.4,444.6L1429.7,442.1L1427.6,439.8L1426.6,436.8L1424.3,434.6L1423.0,431.8L1420.9,429.5L1419.1,427.1L1418.0,424.2L1415.9,422.0L1414.4,419.4L1413.0,416.7L1411.3,414.1L1410.0,411.4L1407.9,409.1L1406.3,406.5L1405.5,403.5L1403.3,401.2L1402.0,398.5L1400.5,395.8L1399.2,393.0L1397.7,390.4L1396.5,387.5L1395.0,384.9L1393.0,382.4L1392.3,379.3L1390.4,376.9L1389.1,374.1L1387.4,371.5L1386.0,368.7L1385.0,365.8L1383.3,363.2L1382.5,360.2L1381.1,357.5L1379.3,355.0L1378.1,352.1L1377.1,349.2L1375.6,346.6L1374.2,343.9L1373.1,341.1L1371.7,338.3L1371.1,335.3L1369.3,332.7L1368.5,329.7L1366.7,327.1L1365.9,324.2L1365.0,321.2L1363.6,318.5L1362.3,315.6L1361.0,312.9L1359.8,310.0L1359.3,306.9L1357.8,304.2L1356.9,301.2L1355.7,298.3L1354.2,295.6L1352.6,292.9L1352.0,289.8L1350.5,287.0L1349.7,284.0L1348.3,281.2L1346.9,278.4L1345.9,275.5L1344.4,272.7L1343.2,269.9L1342.1,267.0L1341.5,263.9L1339.9,261.2L1338.8,258.3L1337.3,255.6L1335.9,252.8L1335.5,249.7L1333.6,247.1L1332.5,244.2L1331.4,241.4L1330.7,238.4L1329.5,235.5L1328.5,232.7L1327.2,229.9L1326.3,227.0L1325.5,224.0L1324.1,221.3L1322.8,218.6L1322.1,215.6L1321.2,212.7L1320.6,209.8L1318.8,207.1L1318.4,204.1L1317.7,201.1L1316.2,198.4L1315.5,195.4L1314.5,192.5L1313.7,189.5L1313.2,186.5L1312.6,183.5L1311.2,180.6L1311.1,177.5L1310.0,174.6L1309.1,171.7L1308.5,168.6L1307.4,165.7L1306.3,162.8L1305.9,159.7L1304.6,156.8L1303.6,153.8L1303.1,150.8L1302.7,147.7L1301.3,144.8L1300.9,143.7Z" fill="#0000ff"/><path d="M1285.4,148.3L1286.3,150.5L1286.8,153.8L1287.9,156.9L1288.4,160.2L1289.7,163.2L1290.4,166.4L1291.3,169.6L1291.6,172.9L1292.6,176.0L1293.3,179.3L1294.4,182.4L1294.9,185.7L1295.5,188.9L1297.1,191.9L1297.7,195.2L1298.2,198.5L1299.1,201.7L1299.9,204.9L1301.3,207.9L1302.0,211.2L1303.3,214.2L1304.0,217.5L1304.9,220.7L1306.2,223.8L1307.2,227.0L1308.3,230.2L1309.7,233.2L1310.9,236.3L1311.5,239.6L1313.3,242.5L1313.8,245.9L1315.0,249.0L1316.2,252.1L1317.6,255.1L1319.4,257.9L1320.5,261.0L1321.6,264.1L1323.1,267.2L1324.5,270.3L1325.2,273.6L1326.5,276.6L1327.8,279.6L1329.5,282.4L1330.3,285.6L1331.6,288.6L1333.1,291.5L1334.5,294.5L1335.7,297.5L1336.6,300.7L1337.5,303.8L1339.2,306.7L1340.2,309.9L1341.4,312.9L1342.1,316.2L1343.9,319.1L1344.6,322.3L1346.1,325.3L1347.0,328.5L1348.0,331.6L1349.2,334.7L1350.4,337.9L1352.0,340.8L1353.2,343.9L1354.5,347.0L1355.7,350.1L1357.0,353.2L1357.8,356.5L1359.6,359.4L1360.8,362.5L1361.6,365.8L1362.9,368.8L1364.0,372.0L1365.9,374.8L1367.5,377.7L1368.1,381.1L1370.0,383.9L1370.8,387.2L1373.0,389.9L1374.3,393.0L1375.1,396.3L1376.3,399.4L1377.9,402.4L1379.3,405.4L1380.6,408.5L1382.7,411.2L1384.2,414.2L1385.3,417.4L1386.5,420.6L1388.4,423.4L1390.0,426.3L1391.1,429.5L1392.7,432.5L1394.4,435.4L1395.1,438.9L1396.6,441.9L1399.6,444.2L1400.6,447.5L1402.6,450.2L1404.1,453.2L1406.1,455.7L1407.6,458.6L1409.2,461.5L1410.7,464.4L1411.4,467.8L1413.9,470.2L1414.1,473.8L1415.8,476.6L1418.3,479.0L1419.1,482.2L1420.2,485.3L1423.2,487.4L1424.0,490.7L1425.6,493.5L1427.4,496.2L1428.9,499.1L1430.7,501.7L1431.1,505.0L1433.3,507.6L1434.2,510.7L1434.7,514.0L1437.1,516.5L1438.5,519.5L1438.8,523.0L1440.8,525.8L1442.2,528.8L1444.3,531.6L1445.1,535.0L1447.1,537.8L1448.5,541.0L1450.4,543.8L1452.8,546.5L1453.4,550.3L1455.7,553.0L1457.4,556.1L1460.4,558.1L1462.6,560.8L1464.9,563.2L1466.7,566.0L1468.8,568.6L1471.0,570.9L1472.8,573.5L1474.7,576.1L1475.8,579.3L1478.4,581.5L1479.9,584.5L1483.0,586.3L1484.8,589.1L1485.8,592.7L1489.2,594.3L1491.3,596.9L1492.9,600.1L1495.4,602.4L1497.9,604.9L1499.7,607.9L1502.1,610.3L1505.1,612.1L1507.1,614.9L1509.7,617.1L1511.8,619.9L1515.3,621.0L1517.7,623.4L1519.9,626.0L1523.2,627.4L1524.8,630.7L1527.3,632.9L1530.7,634.0L1532.9,636.7L1536.1,638.0L1538.0,641.0L1541.5,641.9L1544.3,643.5L1546.9,645.6L1549.0,648.2L1552.1,649.5L1553.6,652.9L1556.5,654.2L1558.9,656.1L1561.3,658.2L1564.1,660.0L1566.1,662.7L1568.8,664.6L1571.7,666.2L1574.5,668.1L1577.3,669.9L1579.8,672.1L1582.4,674.1L1585.4,675.6L1587.4,678.7L1590.8,679.6L1593.3,681.7L1596.6,682.7L1599.0,685.1L1601.8,686.8L1605.2,687.5L1607.4,690.3L1610.9,690.6L1613.7,692.2L1616.3,694.3L1619.5,695.1L1622.1,697.2L1625.5,697.6L1628.3,699.1L1631.0,700.9L1633.8,702.4L1636.7,703.7L1639.9,704.2L1642.7,705.8L1645.6,706.9L1648.4,708.6L1651.6,709.3L1654.1,711.3L1657.2,712.4L1660.4,713.0L1663.3,714.4L1666.2,715.7L1668.9,717.6L1672.2,718.2L1675.1,719.5L1678.0,721.0L1681.3,721.5L1684.1,723.2L1687.3,723.4L1690.4,724.1L1693.4,725.2L1696.2,726.9L1699.4,727.5L1702.3,729.0L1705.7,729.6L1708.9,730.7L1712.3,731.2L1715.5,732.4L1718.8,733.3L1722.2,733.8L1725.5,734.6L1728.7,735.8L1732.0,736.5L1735.4,736.5L1738.8,736.8L1742.1,738.2L1745.5,738.2L1748.8,739.2L1752.1,739.4L1755.4,739.4L1758.7,740.3L1762.0,740.3L1765.3,740.8L1768.6,741.3L1771.9,741.3L1775.2,742.0L1778.6,741.7L1781.9,742.0L1785.2,742.5L1788.5,742.5L1791.8,743.0L1795.1,743.0L1798.3,743.4L1801.6,743.7L1804.9,743.6L1808.2,744.2L1811.4,744.2L1814.7,744.5L1818.0,743.9L1821.2,744.1L1824.4,744.9L1827.7,744.8L1830.8,745.6L1834.1,745.4L1837.3,746.0L1840.6,745.9L1843.8,746.5L1847.0,747.1L1850.3,747.4L1853.6,747.2L1856.9,747.6L1860.2,747.9L1863.5,748.0L1866.9,748.4L1870.2,749.1L1873.5,749.2L1876.8,748.8L1880.1,749.3L1883.4,749.8L1886.7,749.4L1889.9,750.0L1893.2,750.1L1896.5,750.3L1899.9,749.6L1903.1,750.6L1906.4,750.7L1909.8,750.1L1913.1,750.6L1916.4,750.1L1919.7,750.7L1923.0,750.8L1926.3,750.9L1929.5,751.0L1932.8,750.5L1936.1,750.4L1939.4,751.0L1942.7,750.3L1945.9,750.5L1949.2,750.6L1952.5,751.1L1955.8,750.8L1959.1,751.2L1962.4,751.0L1965.6,751.2L1968.9,751.1L1968.9,733.5L1965.7,733.6L1962.4,733.6L1959.1,733.7L1955.9,734.2L1952.6,734.2L1949.3,734.0L1946.0,733.8L1942.8,733.5L1939.5,733.3L1936.2,733.3L1933.0,733.6L1929.7,733.7L1926.4,733.4L1923.2,733.7L1919.9,734.0L1916.7,733.3L1913.5,733.1L1910.2,733.4L1907.0,733.4L1903.7,733.6L1900.5,732.8L1897.2,732.5L1894.0,732.6L1890.7,733.1L1887.4,732.9L1884.2,732.0L1880.9,732.5L1877.7,732.2L1874.4,732.4L1871.3,731.3L1868.1,731.3L1864.8,731.6L1861.6,731.3L1858.4,730.9L1855.2,730.0L1852.0,730.0L1848.7,730.0L1845.4,729.8L1842.2,729.0L1838.8,729.1L1835.6,728.4L1832.2,728.7L1829.0,727.8L1825.6,728.1L1822.3,727.3L1819.0,727.2L1815.8,727.0L1812.5,726.6L1809.2,727.0L1805.9,726.8L1802.7,726.4L1799.4,725.8L1796.1,726.2L1792.9,726.1L1789.7,725.7L1786.5,725.3L1783.3,724.8L1780.0,724.9L1776.8,724.3L1773.5,724.4L1770.3,724.1L1767.1,724.0L1763.9,723.3L1760.7,722.9L1757.4,722.6L1754.2,722.2L1751.0,722.1L1747.9,720.7L1744.7,721.0L1741.8,720.0L1738.6,719.7L1735.3,719.5L1732.3,718.6L1729.3,717.4L1726.0,717.4L1723.2,715.7L1720.0,715.2L1716.7,715.0L1713.8,713.2L1710.5,713.1L1707.7,711.4L1704.7,711.0L1701.8,709.9L1698.9,708.9L1696.0,707.7L1692.7,707.6L1689.9,706.3L1687.2,704.7L1684.4,703.7L1681.5,702.8L1678.7,701.5L1675.7,700.6L1672.8,699.6L1670.3,697.7L1667.1,697.2L1664.6,695.2L1661.5,694.5L1658.9,692.8L1655.7,692.2L1653.2,690.0L1649.9,689.7L1647.4,687.7L1644.2,687.1L1641.4,685.5L1638.8,683.7L1635.5,683.3L1632.6,682.1L1630.3,679.6L1627.1,679.0L1624.6,677.1L1621.4,676.7L1618.6,675.4L1615.8,673.9L1613.6,671.7L1610.7,670.5L1608.5,668.4L1605.8,667.1L1603.3,665.4L1600.5,664.4L1598.5,662.1L1595.7,660.8L1593.2,659.1L1591.0,656.9L1588.7,654.9L1586.2,653.1L1582.9,652.1L1581.4,649.1L1578.2,647.9L1576.0,645.6L1573.9,643.2L1570.9,641.6L1568.8,638.7L1565.5,637.3L1563.1,635.0L1560.2,633.4L1557.9,630.9L1554.9,629.5L1552.8,626.8L1550.3,624.7L1546.7,624.0L1545.2,620.6L1541.8,619.7L1539.4,617.5L1536.6,615.8L1535.0,612.6L1532.2,610.9L1529.3,609.5L1526.8,607.5L1524.9,604.9L1522.6,602.8L1520.2,600.8L1517.6,599.0L1515.2,597.1L1513.1,594.8L1511.0,592.7L1509.4,590.0L1507.5,587.7L1505.8,585.0L1502.8,583.4L1501.9,580.1L1499.8,577.7L1496.9,575.8L1496.1,572.3L1493.0,570.5L1491.7,567.3L1489.3,565.0L1487.7,561.9L1484.9,559.9L1483.3,556.8L1481.5,554.1L1479.6,551.4L1477.7,548.8L1475.3,546.7L1473.1,544.4L1472.1,541.4L1469.6,539.5L1467.3,537.4L1466.0,534.7L1464.9,531.9L1464.1,528.8L1462.6,526.1L1461.2,523.3L1459.7,520.5L1457.3,518.1L1456.3,515.0L1454.7,512.1L1454.4,508.7L1452.1,506.1L1451.9,502.5L1450.5,499.4L1448.1,496.8L1446.5,493.8L1445.4,490.6L1443.5,487.9L1442.8,484.5L1440.2,482.1L1439.9,478.5L1437.1,476.3L1435.6,473.3L1435.0,469.9L1432.3,467.6L1430.7,464.7L1430.4,461.2L1427.5,459.0L1426.2,456.0L1425.2,452.8L1423.1,450.3L1422.9,446.7L1420.2,444.3L1418.2,441.5L1416.7,438.6L1415.0,435.8L1413.9,432.6L1412.4,429.8L1411.0,426.8L1410.4,423.5L1408.4,420.9L1406.4,418.2L1405.2,415.2L1403.6,412.3L1403.2,408.9L1400.6,406.5L1399.2,403.5L1398.5,400.2L1397.0,397.3L1395.7,394.3L1394.2,391.3L1393.1,388.2L1391.4,385.4L1390.7,382.1L1388.7,379.4L1388.2,376.0L1386.2,373.3L1385.2,370.1L1383.7,367.2L1382.6,364.1L1380.9,361.2L1380.3,357.9L1379.0,354.9L1377.1,352.1L1376.1,349.0L1374.8,346.0L1374.1,342.8L1372.3,340.0L1371.6,336.7L1370.0,333.8L1368.9,330.7L1367.6,327.7L1366.7,324.6L1365.4,321.5L1364.2,318.5L1363.4,315.2L1362.4,312.1L1360.7,309.2L1359.6,306.0L1358.7,302.8L1357.1,299.9L1355.9,296.8L1354.9,293.6L1353.6,290.5L1352.7,287.3L1351.2,284.3L1350.4,281.0L1348.7,278.1L1347.2,275.0L1345.9,271.9L1344.8,268.8L1343.2,265.8L1342.0,262.7L1341.0,259.6L1339.7,256.7L1338.1,253.9L1337.1,250.7L1335.7,247.8L1335.1,244.5L1333.7,241.6L1332.6,238.5L1331.3,235.6L1330.0,232.6L1329.1,229.5L1327.7,226.6L1326.5,223.6L1325.6,220.6L1324.9,217.4L1323.9,214.4L1322.6,211.5L1321.3,208.5L1320.2,205.5L1319.4,202.4L1318.3,199.3L1317.2,196.3L1316.3,193.2L1315.4,190.1L1314.5,187.0L1313.3,183.9L1312.4,180.8L1311.7,177.6L1311.1,174.4L1310.2,171.2L1308.8,168.2L1308.0,165.1L1307.5,161.8L1306.6,158.7L1305.6,155.5L1304.7,152.4L1303.6,149.3L1302.6,146.2L1302.4,143.7Z" fill="#000000"/><path d="M1283.9,148.1L1284.5,150.5L1285.4,153.6L1285.9,156.9L1286.4,160.1L1287.3,163.3L1288.4,166.4L1289.4,169.5L1289.7,172.9L1290.4,176.1L1291.3,179.2L1292.5,182.3L1293.3,185.5L1294.0,188.8L1294.6,192.1L1295.9,195.1L1296.7,198.3L1297.8,201.4L1298.7,204.6L1299.5,207.9L1299.9,211.2L1301.0,214.3L1302.1,217.5L1303.1,220.7L1304.2,223.8L1304.9,227.1L1306.2,230.2L1307.7,233.2L1308.4,236.5L1309.4,239.7L1311.2,242.5L1311.7,245.9L1313.6,248.7L1314.7,251.9L1315.4,255.1L1316.7,258.2L1318.5,261.0L1319.3,264.3L1320.8,267.4L1322.3,270.5L1323.3,273.6L1324.8,276.6L1326.4,279.5L1327.5,282.6L1328.6,285.6L1329.9,288.6L1331.2,291.6L1332.3,294.7L1333.9,297.6L1335.2,300.6L1336.4,303.7L1337.2,306.9L1338.5,309.9L1339.4,313.1L1340.5,316.2L1342.3,319.1L1343.3,322.3L1344.4,325.4L1345.5,328.5L1346.5,331.7L1347.9,334.7L1349.3,337.8L1350.3,341.0L1351.8,344.0L1352.8,347.2L1354.4,350.1L1355.3,353.4L1356.7,356.5L1357.9,359.6L1359.2,362.7L1360.5,365.7L1361.7,368.9L1363.6,371.7L1364.3,375.0L1365.8,378.0L1367.1,381.1L1368.7,384.0L1370.4,386.9L1370.9,390.3L1372.4,393.3L1373.6,396.4L1375.6,399.2L1376.6,402.5L1378.0,405.5L1379.8,408.3L1380.8,411.6L1382.4,414.5L1384.8,417.1L1386.2,420.1L1387.4,423.3L1388.7,426.4L1390.1,429.4L1391.8,432.4L1392.9,435.6L1394.6,438.5L1397.3,440.9L1398.6,444.1L1399.5,447.5L1401.4,450.3L1404.1,452.4L1404.7,455.7L1407.0,458.1L1408.0,461.3L1408.8,464.6L1411.8,466.7L1412.2,470.2L1414.3,472.8L1415.1,476.1L1416.8,478.8L1419.7,481.0L1420.3,484.3L1421.4,487.4L1423.9,489.7L1424.7,492.9L1427.0,495.4L1428.5,498.2L1429.8,501.1L1431.2,503.9L1431.5,507.3L1434.1,509.6L1435.1,512.7L1436.3,515.7L1437.3,518.9L1438.2,522.1L1440.2,524.8L1441.3,528.1L1444.0,530.5L1444.6,534.0L1447.0,536.6L1447.5,540.2L1449.6,542.9L1452.2,545.5L1453.0,549.2L1455.5,551.7L1457.6,554.4L1460.3,556.7L1461.2,560.3L1463.9,562.4L1465.4,565.4L1468.6,567.0L1469.8,570.2L1472.2,572.3L1473.9,575.0L1475.7,577.7L1477.4,580.5L1479.2,583.2L1482.4,585.0L1483.4,588.4L1486.5,590.2L1488.8,592.7L1490.5,595.6L1492.7,598.2L1494.3,601.4L1496.9,603.7L1499.5,605.9L1501.4,608.8L1503.7,611.4L1506.5,613.3L1509.0,615.6L1511.3,618.1L1514.6,619.4L1516.3,622.6L1519.9,623.5L1522.7,625.4L1524.4,628.6L1527.8,629.8L1530.2,632.0L1532.7,634.3L1535.8,635.7L1538.1,638.2L1540.8,640.1L1543.7,641.7L1545.7,644.4L1548.5,646.1L1551.4,647.7L1553.3,650.6L1556.4,652.0L1559.4,653.5L1561.1,656.7L1564.3,658.0L1567.4,659.6L1569.9,661.8L1572.6,663.8L1575.6,665.4L1578.1,667.7L1581.1,669.4L1583.9,671.3L1586.3,673.8L1589.7,674.8L1592.8,676.3L1595.6,678.2L1598.3,679.9L1601.3,681.3L1604.0,683.4L1606.7,685.3L1609.7,686.6L1612.9,687.4L1615.7,689.2L1618.7,690.6L1621.8,691.6L1624.7,693.1L1628.0,693.7L1630.7,695.5L1633.9,696.4L1636.7,697.9L1639.7,699.0L1643.0,699.3L1645.5,701.5L1648.9,701.7L1651.6,703.4L1654.5,704.8L1657.4,706.2L1660.8,706.4L1663.5,708.3L1666.7,709.1L1669.9,709.8L1672.8,711.3L1675.7,712.7L1679.0,713.1L1681.8,715.0L1685.2,715.0L1688.3,716.2L1691.3,717.3L1694.4,717.8L1697.2,719.8L1700.3,720.7L1703.4,721.5L1706.8,721.5L1709.7,723.1L1713.0,723.4L1716.2,724.1L1719.2,725.3L1722.6,725.4L1725.8,726.0L1728.8,727.7L1732.1,727.6L1735.3,728.7L1738.5,728.8L1741.7,728.9L1744.9,729.8L1748.1,729.9L1751.3,730.2L1754.5,730.6L1757.6,731.4L1760.8,731.6L1764.0,732.1L1767.1,733.1L1770.3,733.3L1773.5,733.4L1776.7,733.3L1779.9,734.1L1783.1,734.3L1786.3,734.4L1789.5,734.3L1792.7,734.5L1795.9,734.9L1799.0,735.0L1802.2,735.8L1805.4,735.5L1808.5,735.9L1811.6,736.3L1814.8,736.2L1818.0,736.0L1821.2,736.4L1824.4,737.2L1827.7,736.6L1830.9,737.0L1834.1,737.6L1837.3,738.1L1840.5,738.4L1843.8,738.6L1847.1,738.9L1850.4,738.9L1853.7,738.9L1856.9,739.8L1860.3,739.5L1863.5,740.5L1866.9,740.1L1870.2,740.2L1873.5,741.3L1876.8,740.7L1880.1,741.3L1883.4,740.9L1886.7,741.9L1890.0,741.2L1893.2,742.0L1896.5,742.2L1899.9,741.8L1903.2,741.7L1906.5,741.8L1909.8,741.9L1913.1,742.7L1916.4,742.5L1919.7,742.9L1923.0,742.7L1926.3,742.7L1929.5,742.4L1932.8,742.4L1936.1,743.2L1939.4,743.2L1942.7,742.7L1945.9,743.1L1949.2,743.0L1952.5,742.6L1955.8,742.6L1959.1,743.1L1962.4,743.3L1965.6,743.3L1968.9,742.7L1968.9,725.6L1965.7,726.2L1962.4,725.8L1959.1,725.4L1955.9,726.0L1952.6,725.8L1949.3,726.0L1946.0,725.6L1942.8,726.1L1939.5,726.1L1936.2,726.0L1933.0,726.1L1929.7,726.0L1926.4,725.4L1923.2,725.2L1919.9,725.5L1916.7,725.9L1913.4,725.7L1910.2,725.6L1907.0,725.2L1903.7,724.9L1900.5,725.3L1897.2,724.7L1894.0,724.6L1890.7,724.6L1887.5,724.5L1884.2,724.1L1881.0,723.8L1877.7,724.4L1874.4,724.3L1871.2,724.0L1868.0,723.5L1864.9,723.2L1861.6,722.9L1858.4,722.5L1855.2,722.6L1851.9,722.6L1848.7,722.2L1845.4,722.0L1842.1,721.5L1838.8,721.3L1835.5,721.0L1832.2,720.5L1828.9,720.2L1825.6,720.3L1822.3,720.0L1819.1,719.2L1815.9,719.0L1812.7,719.3L1809.5,719.2L1806.4,718.3L1803.3,718.2L1800.1,718.0L1796.9,718.4L1793.8,717.8L1790.7,717.7L1787.6,717.1L1784.6,716.6L1781.5,716.4L1778.3,716.4L1775.3,715.7L1772.1,715.7L1769.0,715.2L1765.9,715.2L1762.8,714.7L1759.7,714.2L1756.6,714.1L1753.5,713.5L1750.4,713.7L1747.4,712.4L1744.2,712.8L1741.2,712.1L1738.2,711.5L1735.2,710.9L1732.2,710.4L1729.3,709.5L1726.2,709.2L1723.3,708.1L1720.4,707.0L1717.4,706.2L1714.3,705.8L1711.2,705.5L1708.5,703.7L1705.2,703.7L1702.3,702.5L1699.5,701.0L1696.2,700.9L1693.4,699.3L1690.3,698.9L1687.3,698.4L1684.6,696.6L1681.4,696.4L1678.8,694.6L1675.6,694.3L1673.0,692.4L1669.8,691.9L1667.3,689.7L1664.3,688.8L1661.2,688.1L1658.5,686.4L1655.6,685.1L1652.2,685.0L1649.8,682.6L1646.4,682.5L1643.9,680.3L1640.8,679.5L1638.0,677.9L1635.1,676.6L1632.1,675.5L1629.0,674.8L1626.1,673.8L1623.4,672.1L1620.6,670.8L1617.7,669.8L1615.2,667.9L1612.1,667.3L1609.7,665.3L1607.2,663.6L1603.9,663.1L1601.7,660.7L1598.5,660.1L1596.3,657.9L1593.4,656.7L1591.3,654.0L1588.3,652.9L1585.4,651.4L1582.9,649.5L1580.3,647.6L1578.3,644.8L1576.0,642.5L1573.2,640.8L1569.9,639.7L1568.1,636.6L1565.2,635.1L1562.6,633.0L1559.5,631.7L1556.9,629.6L1554.4,627.5L1552.4,624.7L1549.2,623.4L1547.0,621.0L1544.1,619.4L1542.1,616.7L1539.6,614.6L1536.2,613.6L1533.4,612.0L1531.8,608.8L1528.4,607.9L1526.9,604.7L1524.6,602.6L1521.3,601.7L1519.0,599.6L1517.2,597.0L1514.6,595.3L1512.7,592.9L1510.1,591.3L1509.0,588.2L1507.1,585.8L1505.2,583.4L1502.8,581.4L1500.1,579.4L1499.0,576.3L1496.3,574.3L1494.3,571.7L1492.5,569.0L1491.4,565.7L1489.0,563.4L1486.4,561.1L1484.6,558.3L1482.1,556.0L1480.9,552.8L1478.6,550.4L1475.9,548.5L1474.7,545.4L1473.4,542.5L1470.5,540.9L1468.4,538.7L1467.4,535.8L1466.1,533.2L1463.8,531.1L1463.2,527.9L1461.2,525.5L1460.0,522.6L1458.4,519.9L1457.4,516.8L1456.3,513.8L1454.4,511.1L1453.8,507.8L1452.9,504.5L1451.3,501.6L1449.7,498.7L1447.9,495.8L1446.3,492.8L1444.7,489.9L1443.0,487.0L1441.4,484.2L1439.9,481.2L1438.6,478.2L1436.3,475.7L1436.0,472.1L1433.8,469.6L1433.0,466.3L1430.9,463.7L1429.8,460.6L1427.1,458.3L1427.0,454.7L1425.4,451.9L1422.9,449.6L1421.5,446.6L1419.4,443.9L1417.5,441.0L1416.0,438.1L1415.6,434.6L1413.5,432.0L1412.4,428.9L1410.4,426.3L1409.6,423.1L1407.5,420.5L1405.8,417.7L1405.0,414.5L1403.6,411.5L1402.0,408.7L1400.3,405.9L1399.0,402.8L1398.0,399.7L1396.2,396.9L1395.2,393.8L1392.9,391.2L1391.8,388.1L1390.5,385.1L1389.6,381.9L1388.3,378.9L1386.3,376.2L1385.1,373.1L1383.8,370.1L1382.9,366.9L1381.5,363.9L1380.2,360.9L1378.8,357.9L1377.5,354.9L1376.3,351.8L1375.2,348.8L1373.7,345.8L1372.7,342.7L1371.1,339.8L1370.1,336.7L1369.0,333.6L1367.3,330.7L1366.2,327.6L1365.0,324.5L1363.7,321.5L1362.6,318.4L1361.4,315.3L1360.5,312.1L1359.5,309.0L1357.8,306.1L1357.0,302.8L1355.9,299.6L1354.3,296.7L1352.9,293.7L1351.8,290.5L1350.9,287.3L1349.5,284.2L1347.9,281.2L1347.1,277.9L1345.8,274.8L1344.0,271.9L1342.6,268.8L1341.7,265.6L1340.4,262.5L1338.8,259.6L1337.7,256.6L1336.7,253.6L1335.0,250.8L1333.7,247.8L1333.1,244.5L1331.4,241.7L1330.5,238.5L1329.6,235.5L1328.3,232.5L1326.7,229.7L1326.0,226.5L1324.9,223.5L1323.8,220.5L1322.4,217.6L1321.8,214.4L1320.6,211.5L1319.6,208.4L1318.7,205.3L1317.1,202.5L1316.5,199.3L1315.6,196.2L1314.8,193.0L1313.8,190.0L1312.4,187.0L1311.3,183.9L1310.3,180.8L1309.9,177.5L1308.9,174.4L1308.1,171.3L1307.0,168.2L1306.4,164.9L1305.0,162.0L1304.5,158.7L1303.2,155.6L1302.8,152.3L1301.2,149.4L1300.5,146.2L1299.6,143.9Z" fill="#00ff00"/><path d="M1283.5,148.1L1283.9,150.5L1284.9,153.6L1285.5,156.9L1286.4,160.0L1287.2,163.2L1288.1,166.3L1288.3,169.7L1289.7,172.7L1290.4,175.9L1291.2,179.2L1292.2,182.3L1292.9,185.5L1293.6,188.7L1294.3,192.0L1295.2,195.2L1296.2,198.3L1296.9,201.6L1297.7,204.8L1299.0,207.9L1299.9,211.0L1300.5,214.3L1301.7,217.4L1302.3,220.7L1303.9,223.7L1304.6,227.1L1305.9,230.2L1307.1,233.3L1307.8,236.6L1309.4,239.5L1310.2,242.8L1311.4,245.9L1312.5,249.0L1314.3,251.8L1315.5,254.9L1316.8,257.9L1317.9,261.0L1318.7,264.2L1320.1,267.2L1321.7,270.1L1322.9,273.1L1323.6,276.3L1324.9,279.3L1326.6,282.1L1327.3,285.3L1328.7,288.2L1329.8,291.3L1331.0,294.2L1331.5,297.5L1333.0,300.4L1333.9,303.6L1335.3,306.5L1336.3,309.6L1337.1,312.8L1338.2,315.9L1339.1,319.0L1340.7,321.9L1341.8,325.0L1342.7,328.2L1343.9,331.3L1344.6,334.5L1346.0,337.5L1347.1,340.6L1348.2,343.7L1349.2,346.9L1350.5,349.9L1351.9,352.9L1352.6,356.2L1354.2,359.2L1354.9,362.4L1356.5,365.3L1357.7,368.4L1358.7,371.6L1359.6,374.7L1361.2,377.6L1362.4,380.7L1363.7,383.8L1365.2,386.7L1366.3,389.8L1366.9,393.1L1368.2,396.2L1370.1,399.0L1370.7,402.3L1373.0,404.9L1373.5,408.3L1375.7,411.0L1376.5,414.2L1377.9,417.2L1379.2,420.3L1380.0,423.6L1382.1,426.2L1383.9,429.1L1385.2,432.1L1385.8,435.5L1388.1,438.1L1389.7,441.1L1391.0,444.1L1391.5,447.6L1393.7,450.2L1395.7,452.9L1396.5,456.2L1398.5,458.9L1399.8,461.9L1400.7,465.2L1402.8,467.9L1404.6,470.6L1405.4,473.9L1407.8,476.3L1409.4,479.1L1410.4,482.4L1411.7,485.3L1413.7,488.0L1415.8,490.5L1417.2,493.4L1419.4,495.9L1420.5,499.0L1421.0,502.3L1422.9,504.9L1423.6,508.1L1425.3,510.8L1426.8,513.7L1427.8,516.9L1429.7,519.7L1430.7,522.8L1432.5,525.7L1434.1,528.6L1434.9,532.0L1437.6,534.5L1437.6,538.3L1439.3,541.4L1441.2,544.3L1443.6,546.9L1445.6,549.8L1447.7,552.7L1449.6,555.6L1452.1,558.0L1453.3,561.4L1455.3,564.1L1457.9,566.2L1459.5,569.2L1462.3,571.0L1463.4,574.2L1465.2,576.9L1467.6,579.1L1469.2,582.1L1471.5,584.4L1473.6,587.1L1475.9,589.5L1478.6,591.6L1480.6,594.4L1481.7,597.9L1484.8,599.7L1486.4,602.9L1489.4,604.8L1491.0,608.1L1493.1,610.8L1496.0,612.7L1499.3,614.2L1500.9,617.5L1503.8,619.4L1505.8,622.2L1509.3,623.3L1511.8,625.6L1513.6,628.7L1516.4,630.7L1518.9,632.9L1522.0,634.3L1524.5,636.6L1526.9,639.0L1529.8,640.6L1533.1,641.7L1535.6,643.8L1538.4,645.5L1540.9,647.6L1543.6,649.5L1545.8,652.0L1548.1,654.4L1550.5,656.7L1553.6,658.0L1556.6,659.7L1558.5,662.8L1561.2,664.8L1563.9,666.8L1567.6,667.4L1569.8,670.1L1572.6,672.1L1575.6,673.8L1578.8,675.1L1581.0,678.0L1584.3,679.1L1587.7,680.0L1590.5,682.1L1593.2,684.2L1596.6,684.9L1599.3,687.2L1602.7,687.8L1605.7,689.5L1608.9,690.6L1612.1,691.7L1614.7,694.1L1618.1,694.5L1621.0,696.3L1624.0,697.8L1627.4,698.1L1630.7,698.9L1633.4,700.8L1636.6,701.6L1639.4,703.7L1642.8,703.9L1645.6,705.8L1649.0,706.1L1652.0,707.6L1655.2,708.6L1658.0,710.7L1661.2,711.5L1664.3,712.6L1667.8,713.0L1670.8,714.4L1673.8,716.1L1677.1,716.8L1680.3,718.0L1683.6,718.6L1686.8,719.1L1689.8,720.9L1693.2,721.0L1696.4,721.8L1699.5,723.2L1702.9,723.4L1705.9,725.1L1709.2,725.8L1712.5,726.2L1715.8,727.2L1719.1,727.9L1722.5,728.1L1725.8,728.7L1729.1,729.6L1732.5,729.8L1735.7,730.5L1739.0,731.2L1742.2,732.0L1745.5,732.3L1748.9,732.4L1752.1,733.4L1755.4,733.8L1758.7,734.1L1762.0,734.4L1765.4,734.3L1768.6,735.3L1771.9,735.3L1775.3,735.2L1778.5,736.0L1781.8,736.2L1785.2,736.4L1788.5,736.5L1791.8,737.1L1795.1,737.2L1798.3,737.3L1801.7,737.0L1804.9,737.3L1808.2,738.2L1811.5,737.8L1814.7,738.3L1818.0,738.0L1821.2,738.6L1824.4,738.9L1827.6,739.2L1830.8,739.7L1834.1,739.5L1837.3,739.6L1840.6,739.8L1843.8,740.2L1847.1,740.7L1850.3,741.5L1853.6,741.3L1856.9,741.8L1860.2,742.1L1863.6,741.7L1866.9,742.2L1870.2,742.7L1873.6,742.4L1876.8,742.7L1880.1,743.4L1883.4,743.5L1886.7,743.1L1890.0,743.3L1893.2,744.1L1896.5,743.9L1899.9,743.9L1903.1,744.4L1906.4,744.4L1909.7,744.8L1913.1,744.1L1916.4,744.8L1919.7,744.5L1923.0,744.4L1926.3,744.6L1929.5,744.2L1932.8,744.3L1936.1,744.3L1939.4,744.9L1942.7,745.0L1945.9,744.5L1949.2,744.6L1952.5,745.1L1955.8,744.7L1959.1,744.7L1962.4,745.3L1965.6,744.9L1968.9,744.9L1968.9,727.8L1965.7,727.8L1962.4,728.3L1959.1,727.7L1955.9,728.3L1952.6,727.8L1949.3,727.5L1946.0,728.3L1942.8,728.1L1939.5,727.5L1936.2,727.6L1933.0,727.6L1929.7,728.0L1926.4,727.8L1923.2,727.6L1919.9,727.3L1916.7,727.4L1913.4,727.6L1910.2,727.2L1906.9,727.7L1903.7,727.4L1900.5,727.4L1897.2,727.1L1894.0,726.8L1890.7,727.1L1887.5,726.1L1884.2,725.9L1880.9,726.7L1877.7,726.1L1874.4,726.0L1871.2,726.1L1868.1,725.4L1864.9,724.9L1861.6,725.1L1858.4,725.0L1855.2,724.5L1852.0,723.8L1848.7,724.0L1845.4,723.6L1842.1,723.3L1838.9,722.9L1835.6,722.6L1832.3,721.9L1828.9,722.2L1825.6,721.6L1822.3,721.4L1819.0,721.7L1815.7,721.6L1812.4,721.2L1809.2,720.8L1805.9,720.3L1802.6,720.7L1799.4,720.5L1796.2,719.5L1792.9,719.4L1789.7,719.1L1786.4,719.8L1783.3,718.8L1780.0,718.7L1776.8,718.6L1773.5,718.6L1770.4,717.5L1767.2,717.0L1763.9,717.1L1760.7,717.0L1757.5,716.2L1754.2,716.4L1751.1,715.2L1747.8,715.7L1744.7,714.3L1741.4,714.5L1738.3,713.9L1735.2,713.2L1732.0,713.2L1729.0,711.7L1725.9,711.6L1722.9,710.5L1719.8,709.6L1716.5,709.9L1713.6,708.2L1710.2,708.3L1707.2,707.3L1704.1,706.1L1701.0,705.4L1697.8,704.6L1694.8,703.3L1691.6,702.6L1688.5,701.9L1685.6,700.4L1682.6,699.6L1679.3,699.2L1676.3,698.1L1673.6,696.2L1670.3,695.8L1667.5,694.2L1664.2,693.8L1661.4,691.9L1658.1,691.6L1655.3,689.7L1652.0,689.3L1649.1,687.9L1646.2,686.3L1643.2,685.0L1640.1,683.9L1636.9,683.1L1634.1,681.3L1631.0,680.2L1628.1,678.8L1625.0,677.6L1622.0,676.5L1619.1,675.0L1616.2,673.7L1613.2,672.4L1609.8,672.2L1607.1,670.5L1604.6,668.6L1602.0,666.8L1599.2,665.4L1596.5,664.1L1594.0,662.3L1591.4,660.7L1588.7,659.2L1585.7,658.1L1582.9,656.7L1580.7,654.2L1577.8,652.9L1575.7,650.3L1573.0,648.6L1570.3,646.9L1567.9,644.6L1565.1,643.0L1562.5,641.0L1560.2,638.6L1557.2,637.1L1554.9,634.7L1552.2,632.7L1549.5,630.8L1546.9,628.8L1543.7,627.6L1541.1,625.6L1538.7,623.3L1536.6,620.7L1534.1,618.7L1531.3,617.0L1528.5,615.2L1526.0,613.2L1523.1,611.7L1521.1,609.1L1518.1,607.7L1516.2,605.2L1513.8,603.1L1511.0,601.6L1509.6,598.6L1507.0,596.8L1504.5,594.9L1502.7,592.5L1500.7,590.2L1498.3,588.3L1497.4,584.9L1494.7,583.1L1493.5,580.0L1491.5,577.5L1489.0,575.3L1487.5,572.4L1484.4,570.6L1483.6,567.1L1481.2,564.6L1478.4,562.6L1476.5,559.8L1475.4,556.4L1472.6,554.4L1471.2,551.3L1468.1,549.6L1466.2,547.1L1464.6,544.4L1463.1,541.7L1460.6,539.8L1459.3,537.1L1457.6,534.7L1456.9,531.6L1455.4,528.9L1453.7,526.3L1451.7,523.8L1450.4,520.9L1448.9,518.1L1448.4,514.7L1446.9,511.8L1445.5,508.9L1444.6,505.6L1442.6,502.9L1441.9,499.5L1440.0,496.6L1438.0,493.8L1437.0,490.6L1435.4,487.6L1434.2,484.5L1432.5,481.7L1430.5,479.0L1428.9,476.1L1427.0,473.4L1426.5,469.9L1424.2,467.4L1423.0,464.3L1421.7,461.3L1420.0,458.5L1418.7,455.5L1416.2,453.1L1414.6,450.3L1413.0,447.5L1411.5,444.6L1410.2,441.6L1409.8,438.2L1407.8,435.6L1405.8,433.0L1405.2,429.8L1404.2,426.7L1402.5,424.0L1401.1,421.1L1399.7,418.2L1398.7,415.1L1396.8,412.4L1395.3,409.5L1394.4,406.4L1393.5,403.2L1392.1,400.3L1389.9,397.7L1389.0,394.6L1387.9,391.6L1386.6,388.6L1385.2,385.6L1384.1,382.6L1382.8,379.6L1381.4,376.6L1380.8,373.4L1379.6,370.3L1378.4,367.3L1377.2,364.3L1375.9,361.3L1374.4,358.4L1373.2,355.4L1372.2,352.2L1371.1,349.2L1369.9,346.2L1368.6,343.3L1368.1,340.0L1367.0,336.9L1365.6,334.0L1364.2,331.0L1363.3,327.9L1362.4,324.8L1361.5,321.6L1360.0,318.7L1359.1,315.5L1357.9,312.5L1356.9,309.4L1356.0,306.2L1354.4,303.3L1353.9,300.0L1352.5,297.0L1351.1,294.0L1350.5,290.7L1348.8,287.7L1347.7,284.6L1346.7,281.5L1345.9,278.2L1344.6,275.2L1343.0,272.2L1342.4,268.9L1341.2,265.8L1339.4,262.9L1338.5,259.8L1337.1,256.8L1336.2,253.6L1334.9,250.6L1333.7,247.6L1332.1,244.7L1331.1,241.6L1329.6,238.7L1328.9,235.5L1327.9,232.5L1326.6,229.5L1325.0,226.7L1324.4,223.5L1322.9,220.6L1322.3,217.5L1321.4,214.4L1320.0,211.5L1318.9,208.5L1317.7,205.5L1316.8,202.4L1316.0,199.3L1314.9,196.2L1314.1,193.1L1313.1,190.0L1311.9,187.0L1311.0,183.8L1309.9,180.8L1309.0,177.7L1308.0,174.6L1307.1,171.4L1306.2,168.2L1305.5,165.1L1304.5,161.9L1304.0,158.7L1302.9,155.6L1302.2,152.4L1300.9,149.3L1299.8,146.2L1299.5,143.8Z" fill="#ff0000"/></g>
<g shape-rendering="crispEdges"><path d="M413.3,850.1L414.0,850.9L413.8,854.2L414.4,857.4L414.9,860.6L415.7,863.7L416.8,866.8L416.7,870.1L417.7,873.3L418.1,876.5L418.8,879.7L419.8,882.8L419.8,886.1L420.6,889.3L421.6,892.4L422.1,895.6L422.9,898.8L423.2,902.0L423.3,905.3L424.5,908.4L425.2,911.6L425.4,914.9L426.8,917.9L427.4,921.1L427.4,924.4L428.7,927.5L428.9,930.8L429.3,934.0L430.2,937.1L431.4,940.2L431.9,943.4L432.3,946.7L432.6,950.0L433.6,953.1L434.2,956.3L435.0,959.5L436.0,962.6L436.5,965.9L437.8,968.9L438.1,972.2L438.5,975.5L439.9,978.5L440.2,981.8L440.9,985.0L442.3,988.0L442.4,991.4L443.8,994.4L444.0,997.7L445.4,1000.7L446.0,1004.0L446.6,1007.3L447.7,1010.5L449.0,1013.6L450.3,1016.6L450.9,1019.8L452.0,1022.9L453.6,1025.8L454.3,1028.9L454.9,1032.2L456.3,1035.1L457.8,1038.1L458.5,1041.3L459.8,1044.2L460.5,1047.4L462.0,1050.3L463.6,1053.2L464.7,1056.2L465.9,1059.3L466.4,1062.6L468.2,1065.3L469.4,1068.1L469.9,1071.3L471.8,1074.1L472.6,1077.3L473.5,1080.5L474.8,1083.6L476.7,1086.3L477.7,1089.5L479.2,1092.5L480.1,1095.7L481.8,1098.5L483.2,1101.5L484.5,1104.5L485.9,1107.5L486.8,1110.7L488.6,1113.5L489.8,1116.5L491.3,1119.5L492.7,1122.5L494.2,1125.4L495.6,1128.3L496.7,1131.4L498.7,1134.1L499.7,1137.3L501.5,1140.0L503.3,1142.8L504.8,1145.8L505.7,1149.1L508.0,1151.5L509.4,1154.6L510.5,1157.7L512.8,1160.2L514.3,1163.2L516.0,1166.1L517.1,1169.2L519.5,1171.7L520.5,1174.9L522.9,1177.3L524.3,1180.4L525.9,1183.3L527.8,1185.9L529.7,1188.7L531.5,1191.4L533.5,1194.0L534.7,1197.1L537.1,1199.5L538.8,1202.3L540.7,1204.9L542.3,1207.8L544.8,1210.1L546.8,1212.8L548.2,1215.9L550.5,1218.3L552.4,1221.1L554.5,1223.7L556.4,1226.5L558.5,1229.2L560.7,1231.7L563.4,1233.8L564.9,1237.0L567.7,1239.0L569.3,1242.1L572.1,1244.0L573.8,1247.0L576.2,1249.3L579.0,1251.3L580.8,1254.2L583.3,1256.4L586.0,1258.4L587.9,1261.2L590.6,1263.2L593.2,1265.3L595.4,1267.8L598.5,1269.4L601.1,1271.4L603.4,1274.1L606.5,1275.5L608.8,1278.0L612.0,1279.5L614.4,1281.9L617.4,1283.5L620.1,1285.6L623.0,1287.4L625.9,1289.0L628.7,1290.9L631.5,1292.7L634.6,1294.0L637.1,1296.3L640.0,1297.9L643.2,1299.0L646.1,1300.5L649.0,1302.3L651.7,1304.1L654.8,1305.4L657.9,1306.7L660.7,1308.5L664.0,1309.4L666.8,1311.3L669.8,1312.7L673.1,1313.5L676.0,1315.2L679.0,1316.5L681.9,1318.2L685.3,1318.8L688.3,1320.2L691.2,1321.8L694.6,1322.2L697.4,1324.1L700.7,1324.7L703.8,1325.8L706.8,1327.5L710.1,1327.9L713.2,1328.9L716.3,1329.8L719.3,1331.3L722.4,1332.3L725.6,1332.9L728.6,1334.1L731.8,1335.0L734.7,1336.5L737.9,1337.0L740.8,1338.3L743.8,1339.6L747.1,1340.0L749.9,1341.8L753.1,1342.4L756.2,1343.6L759.4,1344.3L762.4,1345.7L765.6,1346.8L768.8,1347.6L771.8,1348.9L775.0,1349.4L778.2,1349.9L781.1,1351.7L784.3,1352.3L787.4,1353.2L790.5,1354.1L793.8,1354.4L796.8,1355.4L800.0,1356.0L803.0,1357.4L806.1,1358.3L809.3,1358.9L812.4,1359.8L815.7,1360.0L818.9,1360.4L822.0,1361.4L825.2,1361.8L828.4,1362.6L831.5,1363.1L834.5,1363.7L837.6,1364.8L840.8,1365.3L843.9,1366.2L847.1,1366.9L850.5,1366.8L853.7,1368.0L857.0,1368.3L860.3,1368.6L863.5,1369.4L866.8,1369.4L870.1,1369.4L873.3,1370.0L876.5,1370.6L879.7,1371.4L882.9,1371.7L886.2,1372.3L889.5,1372.1L892.7,1372.7L895.9,1373.4L899.1,1374.0L902.4,1374.2L905.7,1374.4L908.9,1374.8L912.1,1375.7L915.4,1376.0L918.7,1375.9L921.8,1377.0L925.2,1376.5L928.4,1377.1L931.6,1377.6L934.8,1378.4L938.0,1378.5L941.2,1379.0L944.4,1379.7L947.8,1379.5L951.0,1379.7L954.3,1380.3L957.6,1380.8L960.9,1380.7L964.2,1380.9L967.4,1381.9L970.7,1382.4L974.1,1382.6L977.4,1382.2L980.7,1382.5L983.9,1383.0L987.2,1383.3L990.5,1382.8L993.7,1383.6L997.0,1383.5L1000.2,1383.1L1003.5,1383.5L1006.7,1383.2L1010.0,1383.7L1013.2,1384.0L1016.4,1384.4L1019.6,1384.1L1022.8,1384.6L1026.1,1384.8L1029.3,1384.8L1032.5,1385.1L1035.7,1385.2L1038.9,1385.5L1042.2,1385.6L1045.3,1386.3L1048.6,1385.7L1051.8,1386.7L1055.1,1386.8L1058.4,1386.4L1061.6,1387.3L1064.8,1387.2L1068.1,1387.6L1071.3,1387.8L1074.6,1388.3L1077.8,1388.2L1081.1,1388.6L1084.3,1388.4L1087.6,1388.5L1090.8,1389.3L1094.0,1389.9L1097.3,1389.2L1100.5,1390.2L1103.8,1389.9L1107.0,1390.4L1110.3,1390.3L1113.5,1390.9L1116.7,1390.9L1119.9,1391.5L1121.2,1374.1L1117.9,1373.7L1114.7,1373.4L1111.5,1373.0L1108.2,1372.7L1104.9,1373.0L1101.7,1372.3L1098.5,1372.3L1095.2,1372.2L1092.0,1371.7L1088.7,1372.0L1085.5,1371.0L1082.2,1371.7L1079.0,1370.8L1075.8,1371.2L1072.5,1370.9L1069.3,1370.3L1066.1,1370.1L1062.9,1369.6L1059.6,1369.3L1056.4,1369.1L1053.1,1369.0L1049.9,1369.1L1046.6,1368.5L1043.3,1368.8L1040.1,1367.8L1036.8,1368.0L1033.6,1368.0L1030.3,1367.3L1027.0,1367.7L1023.7,1367.5L1020.5,1366.9L1017.2,1366.8L1014.0,1366.4L1010.7,1366.4L1007.5,1366.3L1004.2,1366.3L1001.0,1366.1L997.7,1365.8L994.5,1365.8L991.2,1365.8L988.0,1365.2L984.8,1365.3L981.6,1365.6L978.4,1365.5L975.2,1364.8L972.1,1364.6L968.9,1364.8L965.7,1363.9L962.5,1364.1L959.4,1363.5L956.2,1362.9L953.0,1362.6L949.8,1362.1L946.6,1361.7L943.3,1361.8L940.1,1361.3L936.8,1361.0L933.6,1360.8L930.3,1360.2L927.1,1360.3L923.9,1359.2L920.7,1359.1L917.5,1358.7L914.3,1358.0L911.0,1357.7L907.8,1357.8L904.6,1356.8L901.4,1356.3L898.2,1355.7L894.9,1356.2L891.7,1355.7L888.5,1354.9L885.3,1354.6L882.1,1353.8L878.9,1353.4L875.7,1353.0L872.5,1352.4L869.3,1351.7L866.0,1352.0L862.9,1350.8L859.6,1351.0L856.4,1350.2L853.3,1350.1L850.3,1349.6L847.3,1348.5L844.2,1347.7L841.0,1347.8L837.9,1347.2L834.9,1345.9L831.7,1345.2L828.6,1344.8L825.6,1344.4L822.6,1343.4L819.4,1343.2L816.4,1342.2L813.4,1341.5L810.3,1341.1L807.4,1339.6L804.3,1339.2L801.3,1338.1L798.2,1337.6L795.1,1337.3L792.2,1335.7L789.3,1334.8L786.2,1334.5L783.3,1333.2L780.3,1332.4L777.3,1331.1L774.1,1330.6L771.1,1329.6L767.9,1329.1L765.0,1327.7L762.1,1326.3L758.9,1325.6L755.7,1324.8L752.9,1323.0L749.7,1322.3L746.5,1321.6L743.5,1320.1L740.4,1319.1L737.2,1318.4L734.2,1317.0L731.1,1316.2L728.1,1314.8L724.9,1314.1L722.0,1312.7L718.8,1312.1L715.8,1310.8L712.6,1310.2L709.7,1308.9L706.6,1308.2L703.7,1306.8L700.7,1305.9L697.9,1304.4L694.8,1303.7L691.8,1302.5L689.1,1300.8L686.0,1300.0L683.0,1298.8L680.3,1297.0L677.3,1295.9L674.1,1295.3L671.6,1293.2L668.6,1292.1L665.7,1290.8L662.8,1289.4L660.2,1287.5L657.4,1286.1L654.3,1285.2L651.5,1283.8L648.8,1282.1L646.4,1280.1L643.4,1279.1L640.7,1277.3L638.3,1275.3L635.2,1274.3L632.9,1272.0L630.1,1270.3L627.1,1269.1L624.8,1266.8L621.8,1265.5L619.8,1262.9L617.1,1261.3L614.3,1259.7L612.2,1257.3L609.4,1255.8L607.1,1253.7L604.5,1252.0L602.6,1249.5L599.9,1248.0L598.3,1245.3L595.5,1243.8L593.8,1241.2L591.1,1239.5L589.4,1236.8L587.5,1234.4L584.9,1232.4L583.2,1229.7L580.9,1227.6L579.1,1224.9L577.1,1222.5L574.9,1220.2L572.5,1217.9L571.0,1215.0L568.4,1213.0L566.5,1210.4L564.9,1207.5L563.2,1204.8L561.1,1202.3L558.9,1199.9L557.2,1197.2L555.2,1194.7L553.5,1191.9L551.8,1189.2L550.2,1186.5L548.2,1184.0L546.4,1181.4L544.4,1178.9L542.9,1176.2L541.4,1173.3L539.3,1170.9L537.9,1168.0L536.0,1165.4L534.5,1162.6L532.8,1159.9L531.2,1157.1L529.2,1154.6L528.2,1151.4L526.2,1148.8L524.4,1146.2L523.4,1143.1L521.9,1140.2L520.0,1137.6L518.5,1134.8L517.0,1131.9L515.6,1129.1L513.8,1126.4L512.2,1123.6L511.0,1120.7L509.5,1117.9L508.3,1114.9L507.0,1112.0L505.7,1109.0L504.4,1106.1L502.9,1103.3L501.9,1100.2L499.7,1097.7L499.2,1094.4L497.2,1091.8L496.4,1088.6L494.7,1085.8L494.1,1082.6L492.7,1079.7L491.2,1076.9L489.6,1074.0L488.9,1070.9L488.1,1067.8L486.3,1065.0L485.4,1061.8L484.3,1058.6L482.4,1055.9L482.0,1052.7L480.8,1049.8L479.5,1047.0L477.8,1044.2L476.9,1041.2L475.6,1038.3L475.2,1035.1L473.7,1032.3L473.0,1029.1L472.0,1026.1L470.1,1023.5L469.8,1020.2L468.6,1017.3L467.8,1014.2L466.5,1011.3L465.2,1008.4L464.6,1005.3L464.1,1002.3L462.7,999.4L462.3,996.2L461.5,993.0L460.8,989.9L459.8,986.9L458.3,983.9L458.1,980.7L457.1,977.6L456.6,974.4L455.8,971.3L454.7,968.3L454.2,965.1L453.0,962.1L452.8,958.8L452.2,955.6L451.5,952.5L450.4,949.4L450.1,946.2L448.8,943.2L448.6,939.9L447.8,936.8L447.0,933.6L446.6,930.4L445.9,927.2L445.7,924.0L444.3,921.0L444.3,917.7L443.7,914.5L442.9,911.4L442.2,908.2L441.6,905.0L440.5,902.0L439.9,898.8L439.7,895.5L438.6,892.5L438.3,889.2L437.8,886.0L437.1,882.9L436.5,879.7L435.5,876.6L435.1,873.4L435.0,870.1L433.9,867.0L434.0,863.6L433.1,860.5L432.9,857.3L431.4,854.2L431.3,850.9L430.5,847.8L430.2,846.9Z" fill="#00ffff"/><path d="M413.0,850.2L413.8,850.9L414.5,854.1L414.8,857.3L415.0,860.6L415.6,863.8L416.5,866.9L417.3,870.0L417.5,873.3L418.3,876.4L418.6,879.7L419.2,882.9L419.9,886.1L420.3,889.3L421.2,892.4L421.5,895.7L422.4,898.8L423.5,902.0L423.7,905.2L424.2,908.5L425.1,911.6L426.0,914.8L426.5,918.0L426.7,921.3L427.9,924.3L428.8,927.5L428.6,930.8L429.2,934.0L429.9,937.2L430.7,940.4L431.4,943.6L432.3,946.7L432.9,949.9L433.5,953.1L434.6,956.2L435.4,959.4L435.7,962.7L436.5,965.9L436.8,969.1L438.1,972.2L438.9,975.4L439.9,978.5L440.8,981.6L441.5,984.8L441.9,988.1L442.3,991.4L444.0,994.3L444.8,997.5L445.1,1000.8L446.3,1003.9L447.5,1007.0L447.5,1010.4L449.1,1013.3L449.8,1016.5L450.4,1019.8L451.3,1022.9L452.1,1026.1L453.4,1029.2L454.8,1032.2L455.8,1035.3L456.3,1038.6L457.4,1041.7L458.7,1044.7L459.8,1047.8L460.7,1051.0L461.8,1054.0L462.8,1057.2L463.9,1060.2L464.7,1063.5L466.1,1066.5L466.8,1069.7L468.3,1072.6L469.7,1075.6L470.3,1078.9L471.8,1081.9L472.9,1085.0L474.7,1087.9L475.3,1091.2L476.9,1094.1L478.4,1097.0L479.8,1100.0L481.3,1103.0L482.7,1105.9L483.9,1109.0L485.2,1112.0L486.3,1115.1L487.8,1118.0L489.6,1120.9L490.9,1123.8L492.4,1126.7L493.8,1129.7L495.1,1132.7L496.2,1135.8L498.2,1138.5L499.0,1141.8L500.5,1144.8L502.3,1147.5L504.4,1150.1L505.9,1153.1L507.2,1156.2L508.4,1159.3L510.0,1162.2L511.9,1164.9L513.4,1167.9L515.8,1170.3L517.1,1173.4L518.9,1176.2L520.8,1178.9L522.3,1181.9L524.0,1184.6L525.5,1187.6L528.0,1189.9L529.7,1192.8L531.6,1195.4L533.4,1198.2L535.2,1200.9L537.0,1203.6L538.4,1206.6L540.8,1209.0L542.6,1211.8L544.8,1214.3L546.8,1217.0L548.7,1219.7L550.5,1222.5L552.7,1225.0L554.8,1227.7L556.7,1230.5L559.2,1232.8L560.7,1235.9L563.5,1238.0L565.4,1240.7L567.2,1243.7L570.0,1245.6L572.4,1248.0L574.3,1250.7L576.5,1253.2L579.0,1255.4L581.5,1257.7L583.6,1260.3L586.1,1262.5L588.7,1264.5L591.1,1266.9L593.5,1269.2L596.3,1271.1L599.0,1273.1L601.5,1275.3L604.3,1277.3L607.3,1279.0L609.6,1281.6L612.8,1282.9L615.2,1285.3L618.2,1286.9L620.9,1289.0L623.8,1290.6L626.5,1292.6L629.6,1294.1L632.5,1295.6L635.1,1297.7L638.0,1299.4L641.0,1300.7L643.8,1302.7L646.8,1304.0L649.7,1305.8L653.0,1306.6L655.6,1308.7L658.7,1310.0L661.7,1311.6L665.0,1312.5L667.9,1314.0L670.8,1315.7L674.0,1316.8L677.2,1317.8L680.2,1319.0L683.0,1320.9L686.2,1321.9L689.5,1322.5L692.5,1323.9L695.5,1325.3L698.8,1326.0L701.8,1327.4L704.9,1328.7L708.2,1329.2L711.2,1330.4L714.1,1332.0L717.5,1332.2L720.6,1333.3L723.5,1334.9L726.6,1335.8L729.7,1336.6L732.6,1338.0L735.9,1338.4L739.0,1339.2L741.8,1341.0L744.9,1341.9L748.1,1342.7L751.1,1344.0L754.4,1344.6L757.4,1345.8L760.5,1347.1L763.5,1348.4L766.8,1348.9L770.1,1349.6L773.3,1350.6L776.4,1351.7L779.6,1352.9L782.8,1353.8L785.9,1354.6L789.1,1355.6L792.3,1356.1L795.5,1356.9L798.8,1357.6L802.0,1358.4L805.2,1359.1L808.4,1360.0L811.8,1359.9L814.9,1361.0L818.3,1361.1L821.5,1361.8L824.6,1363.1L828.0,1363.2L831.2,1363.8L834.5,1364.0L837.8,1364.8L841.1,1364.7L844.3,1365.7L847.5,1366.5L850.8,1366.7L854.0,1367.1L857.3,1367.3L860.6,1367.5L863.7,1368.3L867.0,1368.3L870.3,1368.6L873.5,1369.2L876.7,1370.0L879.9,1370.1L883.2,1370.4L886.5,1370.2L889.6,1371.2L892.9,1371.1L896.2,1371.6L899.4,1371.9L902.6,1372.4L905.9,1372.0L909.2,1372.4L912.4,1372.9L915.7,1373.1L918.9,1373.8L922.2,1373.6L925.4,1373.8L928.6,1374.5L931.9,1374.3L935.0,1375.3L938.3,1375.2L941.5,1375.4L944.7,1376.0L948.0,1376.7L951.3,1376.3L954.6,1376.5L957.8,1376.9L961.1,1377.5L964.4,1377.9L967.7,1377.3L971.1,1377.4L974.4,1377.8L977.7,1377.9L980.9,1378.4L984.2,1378.4L987.5,1378.5L990.7,1378.2L994.0,1378.3L997.2,1378.9L1000.5,1378.0L1003.7,1378.0L1007.0,1378.1L1010.2,1378.9L1013.4,1378.7L1016.7,1378.9L1019.9,1378.9L1023.1,1379.1L1026.3,1378.9L1029.5,1378.8L1032.8,1378.7L1036.0,1379.1L1039.2,1379.0L1042.4,1379.9L1045.6,1379.9L1048.9,1379.5L1052.1,1379.9L1055.3,1380.0L1058.6,1380.3L1061.8,1380.8L1065.1,1380.2L1068.3,1380.7L1071.6,1380.7L1074.8,1381.3L1078.1,1380.7L1081.3,1381.3L1084.6,1380.9L1087.8,1381.4L1091.0,1382.0L1094.3,1381.9L1097.5,1381.3L1100.7,1382.4L1104.0,1382.1L1107.2,1382.3L1110.5,1382.8L1113.7,1382.5L1117.0,1382.3L1120.2,1382.6L1120.9,1365.2L1117.7,1365.1L1114.4,1364.9L1111.2,1365.2L1108.0,1364.8L1104.7,1364.8L1101.5,1364.9L1098.2,1364.5L1095.0,1364.2L1091.7,1364.5L1088.5,1364.3L1085.3,1363.5L1082.0,1363.9L1078.8,1363.4L1075.5,1364.1L1072.3,1363.2L1069.1,1362.9L1065.8,1363.4L1062.6,1363.6L1059.4,1363.0L1056.1,1362.9L1052.9,1363.1L1049.6,1363.0L1046.4,1362.0L1043.1,1362.7L1039.9,1361.9L1036.6,1362.2L1033.3,1361.9L1030.1,1361.3L1026.8,1361.1L1023.5,1361.8L1020.2,1361.8L1017.0,1361.5L1013.7,1361.1L1010.4,1361.7L1007.2,1361.2L1004.0,1361.2L1000.7,1361.4L997.5,1361.0L994.2,1361.4L991.0,1360.7L987.8,1361.1L984.5,1361.3L981.3,1361.0L978.1,1360.7L974.9,1361.1L971.8,1360.2L968.6,1360.5L965.5,1360.3L962.3,1359.9L959.1,1360.1L955.9,1359.4L952.7,1359.7L949.5,1359.3L946.3,1358.8L943.1,1358.3L939.8,1358.4L936.6,1357.4L933.3,1357.5L930.1,1357.2L926.9,1357.0L923.7,1356.4L920.4,1356.5L917.2,1356.5L914.0,1355.6L910.8,1355.6L907.6,1355.0L904.4,1354.5L901.1,1354.6L898.0,1354.0L894.7,1353.7L891.5,1353.1L888.3,1352.7L885.0,1353.2L881.8,1352.8L878.7,1352.0L875.5,1351.5L872.2,1351.1L868.9,1351.5L865.8,1350.6L862.6,1350.4L859.4,1349.9L856.2,1349.4L853.0,1348.9L849.8,1348.5L846.6,1348.7L843.4,1348.3L840.2,1347.8L837.2,1346.7L834.1,1346.0L830.8,1346.2L827.7,1345.5L824.5,1345.3L821.6,1343.8L818.3,1344.0L815.2,1342.9L812.0,1342.8L808.9,1342.1L805.8,1341.2L802.7,1340.4L799.7,1339.3L796.5,1339.0L793.3,1338.4L790.4,1337.0L787.1,1336.9L784.1,1335.9L781.1,1335.1L778.2,1333.7L775.2,1332.7L772.1,1332.3L769.1,1330.9L766.2,1329.7L763.0,1329.2L760.0,1327.9L756.8,1327.3L753.9,1325.8L750.8,1324.7L747.8,1323.5L744.7,1322.5L741.4,1322.2L738.5,1320.4L735.4,1319.3L732.1,1318.9L729.0,1317.9L726.0,1316.6L722.8,1315.8L719.9,1314.4L716.7,1314.0L713.8,1312.4L710.7,1311.5L707.6,1310.7L704.7,1309.4L701.8,1308.1L698.8,1307.0L695.9,1305.8L693.0,1304.6L689.7,1304.3L687.1,1302.4L683.8,1301.9L681.1,1300.2L678.1,1299.0L675.2,1297.7L672.5,1296.0L669.4,1295.0L666.5,1293.8L663.7,1292.1L660.9,1290.7L657.8,1289.8L655.4,1287.6L652.4,1286.4L649.4,1285.4L647.1,1283.1L644.2,1282.0L641.4,1280.6L638.6,1279.1L636.3,1276.8L633.4,1275.4L630.8,1273.6L628.2,1271.7L625.2,1270.5L622.8,1268.4L619.8,1267.0L617.2,1265.2L615.0,1262.9L612.2,1261.3L609.9,1259.2L607.5,1257.1L605.3,1255.0L603.0,1252.9L600.6,1251.1L598.2,1249.2L595.9,1247.3L593.7,1245.1L591.3,1243.2L589.3,1240.8L587.1,1238.6L585.1,1236.2L583.3,1233.6L580.8,1231.6L579.0,1229.0L576.6,1226.9L574.9,1224.1L573.1,1221.5L570.8,1219.2L568.5,1217.0L566.5,1214.4L564.5,1211.8L563.0,1209.0L560.8,1206.5L559.2,1203.8L557.4,1201.1L555.6,1198.4L553.6,1195.9L551.5,1193.5L549.6,1190.9L548.1,1188.0L545.9,1185.7L544.1,1183.1L542.9,1180.1L540.9,1177.6L539.3,1174.9L537.7,1172.1L535.5,1169.8L533.8,1167.1L532.4,1164.2L530.8,1161.4L528.7,1158.9L527.0,1156.2L525.8,1153.1L524.5,1150.2L522.2,1147.8L521.4,1144.6L519.3,1142.1L517.7,1139.3L516.3,1136.4L514.7,1133.6L513.3,1130.7L512.4,1127.6L510.3,1125.1L509.0,1122.2L508.0,1119.1L506.5,1116.3L504.5,1113.7L503.3,1110.7L502.2,1107.7L500.5,1105.0L499.6,1101.8L497.8,1099.2L496.6,1096.2L496.0,1092.9L494.2,1090.2L492.7,1087.3L491.9,1084.2L490.7,1081.2L488.9,1078.5L487.7,1075.5L486.4,1072.6L486.0,1069.3L484.1,1066.6L483.0,1063.6L482.3,1060.4L480.9,1057.6L480.4,1054.4L479.5,1051.3L478.3,1048.3L476.8,1045.5L475.5,1042.5L475.3,1039.2L473.8,1036.4L473.1,1033.2L472.3,1030.1L470.6,1027.2L469.8,1024.1L469.0,1021.0L467.7,1018.0L466.9,1014.9L466.4,1011.7L465.3,1008.7L464.7,1005.5L463.6,1002.5L462.9,999.3L462.4,996.1L461.4,993.1L460.1,990.1L459.3,987.0L458.6,983.9L458.3,980.6L457.5,977.5L456.7,974.4L455.6,971.4L454.7,968.3L454.3,965.1L453.9,961.9L453.2,958.7L452.1,955.7L451.1,952.6L450.7,949.4L449.9,946.2L449.0,943.1L448.1,940.0L447.5,936.8L447.4,933.5L446.3,930.5L446.0,927.2L445.5,924.0L444.2,921.0L444.2,917.7L443.1,914.6L442.7,911.4L442.4,908.2L441.4,905.1L440.8,901.9L440.1,898.8L439.5,895.6L438.7,892.4L438.4,889.2L437.4,886.1L437.4,882.8L436.6,879.7L436.2,876.4L435.0,873.4L434.6,870.1L434.2,866.9L433.2,863.8L432.6,860.6L432.0,857.4L431.7,854.2L430.9,851.0L430.5,847.8L430.7,846.9Z" fill="#0000ff"/><path d="M415.0,850.0L415.5,850.7L415.7,854.1L416.7,857.3L417.3,860.7L417.6,864.1L418.5,867.4L419.1,870.7L419.3,874.1L419.6,877.5L421.0,880.7L421.2,884.1L422.1,887.4L422.3,890.9L422.9,894.2L423.5,897.6L424.4,900.9L424.5,904.3L425.3,907.6L425.8,911.0L426.4,914.4L426.8,917.7L427.8,921.0L428.0,924.4L429.2,927.7L429.6,931.0L430.5,934.3L431.0,937.7L431.2,941.2L431.8,944.5L432.8,947.8L433.6,951.1L434.2,954.5L434.5,957.9L435.5,961.2L436.4,964.5L436.6,967.9L437.5,971.2L438.3,974.5L438.6,978.0L439.5,981.3L440.8,984.5L440.8,988.0L441.9,991.3L442.9,994.5L443.2,998.0L444.4,1001.2L445.1,1004.6L445.9,1007.9L447.2,1011.1L447.5,1014.6L448.7,1017.8L450.0,1021.0L450.5,1024.4L451.9,1027.6L452.1,1031.1L453.2,1034.3L454.4,1037.5L455.0,1040.9L456.0,1044.2L457.0,1047.4L458.4,1050.6L459.5,1053.8L459.9,1057.3L460.9,1060.7L462.4,1063.8L463.5,1067.1L464.5,1070.4L465.7,1073.6L466.4,1077.0L467.8,1080.2L468.8,1083.5L470.0,1086.7L471.5,1089.8L472.7,1093.1L473.8,1096.3L474.8,1099.7L475.8,1102.9L476.8,1106.3L478.1,1109.5L479.4,1112.7L480.9,1115.8L482.2,1119.0L483.2,1122.3L484.7,1125.4L485.6,1128.7L487.0,1131.9L488.7,1134.9L489.5,1138.3L491.3,1141.3L492.5,1144.6L493.4,1148.0L495.0,1151.1L496.2,1154.3L497.5,1157.5L499.4,1160.5L500.4,1163.8L502.1,1166.9L503.8,1169.9L505.3,1173.1L506.7,1176.2L507.7,1179.6L509.2,1182.7L510.4,1186.0L512.5,1188.8L513.5,1192.2L515.6,1195.0L517.1,1198.2L518.3,1201.5L520.2,1204.4L521.0,1207.9L523.6,1210.5L525.3,1213.6L526.1,1217.1L527.8,1220.2L530.5,1222.7L532.0,1225.9L533.5,1229.1L536.0,1231.7L537.3,1235.0L538.4,1238.4L540.3,1241.4L543.1,1243.7L544.6,1246.7L546.5,1249.6L547.6,1253.1L550.5,1255.3L550.8,1259.3L554.3,1261.0L555.4,1264.4L556.9,1267.4L558.2,1270.4L560.6,1272.8L561.9,1276.0L564.3,1278.5L566.7,1281.1L568.0,1284.3L569.4,1287.5L571.4,1290.5L572.7,1293.8L575.1,1296.5L577.3,1299.4L579.1,1302.5L581.1,1305.5L584.2,1307.7L585.8,1311.0L587.7,1314.1L589.9,1317.0L592.9,1319.2L595.2,1322.4L598.5,1324.4L601.6,1326.4L604.8,1328.4L607.1,1331.5L609.9,1333.7L613.1,1335.2L616.7,1336.1L619.0,1338.9L622.1,1340.4L624.6,1343.0L628.7,1343.0L630.8,1346.3L634.1,1347.4L636.6,1349.9L639.8,1351.1L643.3,1351.5L645.3,1354.6L648.3,1356.0L651.5,1357.3L654.4,1358.9L656.9,1361.3L659.5,1363.5L662.5,1365.2L666.0,1366.3L668.8,1368.4L671.1,1371.3L674.3,1372.9L677.1,1375.1L680.6,1376.2L683.9,1377.6L686.6,1380.4L690.5,1380.7L693.9,1381.7L696.8,1383.7L699.9,1385.1L703.1,1385.8L705.5,1388.6L709.3,1388.4L712.6,1389.4L715.4,1391.7L718.9,1391.8L722.0,1393.2L725.2,1394.5L728.5,1395.3L731.5,1397.0L735.0,1397.0L737.9,1398.9L741.4,1398.8L744.3,1400.6L747.3,1402.2L750.6,1402.7L753.7,1403.9L757.1,1404.0L760.5,1404.1L763.7,1405.3L766.8,1406.7L770.4,1406.3L773.5,1407.9L776.9,1408.0L780.1,1409.6L783.6,1409.2L786.9,1409.6L790.2,1410.0L793.3,1410.8L796.5,1411.9L799.9,1411.6L803.1,1412.3L806.4,1412.3L809.7,1412.0L812.9,1413.1L816.2,1413.4L819.5,1413.7L822.8,1413.6L826.0,1413.8L829.3,1414.2L832.5,1414.0L835.8,1414.5L839.0,1414.9L842.2,1415.4L845.4,1416.1L848.7,1416.0L852.0,1416.0L855.4,1416.5L858.9,1416.4L862.3,1416.1L865.6,1417.0L869.0,1417.3L872.4,1417.4L875.8,1417.8L879.2,1417.9L882.6,1418.2L886.0,1417.5L889.5,1418.8L893.0,1418.4L896.4,1418.5L899.8,1418.6L903.3,1418.3L906.7,1418.5L910.1,1419.2L913.5,1418.9L916.9,1419.4L920.3,1418.6L923.8,1419.0L927.2,1419.1L930.6,1418.5L934.0,1419.1L937.4,1418.8L940.8,1418.9L944.2,1418.6L947.6,1419.0L951.0,1419.1L954.4,1419.3L957.8,1419.2L961.1,1419.3L964.5,1419.3L967.9,1419.1L971.3,1418.7L974.7,1418.9L978.1,1418.5L981.6,1418.9L985.1,1418.6L988.5,1418.7L991.9,1418.8L995.3,1418.1L998.8,1418.7L1002.1,1417.8L1005.5,1418.1L1008.9,1417.8L1012.2,1417.5L1015.6,1417.9L1018.9,1417.6L1022.2,1417.4L1025.6,1418.1L1029.0,1417.5L1032.4,1418.2L1035.8,1417.9L1039.2,1417.6L1042.5,1417.4L1045.9,1418.1L1049.3,1417.4L1052.7,1418.0L1056.1,1417.8L1059.5,1417.7L1062.9,1417.4L1066.3,1417.7L1069.7,1417.3L1073.1,1418.0L1076.5,1418.0L1079.9,1417.4L1083.3,1417.8L1086.7,1417.4L1090.1,1417.9L1093.5,1417.4L1096.9,1417.4L1100.3,1417.5L1103.7,1418.1L1107.1,1417.9L1110.5,1417.5L1113.9,1417.8L1117.2,1417.4L1120.6,1417.2L1120.5,1400.8L1117.1,1400.8L1113.7,1400.7L1110.3,1400.6L1106.9,1400.3L1103.5,1400.9L1100.2,1400.4L1096.8,1400.6L1093.4,1400.3L1090.0,1401.1L1086.6,1400.3L1083.2,1401.2L1079.8,1400.7L1076.5,1400.9L1073.1,1401.0L1069.7,1400.5L1066.3,1400.9L1062.9,1400.5L1059.5,1401.2L1056.1,1401.0L1052.7,1400.6L1049.3,1401.1L1045.9,1401.0L1042.5,1401.2L1039.2,1400.7L1035.8,1401.1L1032.4,1401.0L1029.0,1401.0L1025.6,1401.0L1022.1,1400.9L1018.7,1400.9L1015.2,1401.1L1011.8,1401.2L1008.4,1401.1L1005.0,1401.4L1001.6,1401.2L998.2,1401.1L994.8,1401.2L991.4,1401.4L988.1,1401.5L984.7,1401.7L981.4,1401.6L978.1,1402.1L974.7,1401.5L971.3,1402.4L967.9,1401.9L964.5,1401.4L961.1,1401.9L957.8,1401.6L954.4,1402.1L951.0,1401.6L947.6,1401.4L944.2,1401.7L940.8,1401.7L937.4,1401.8L934.0,1401.7L930.6,1402.2L927.2,1402.1L923.9,1401.3L920.6,1401.2L917.2,1402.0L913.8,1401.4L910.5,1401.5L907.1,1401.9L903.7,1400.9L900.3,1401.8L897.0,1401.4L893.6,1401.5L890.3,1400.5L887.1,1400.7L883.7,1400.2L880.3,1400.4L876.9,1400.4L873.5,1400.2L870.1,1399.7L866.7,1399.6L863.4,1398.9L860.0,1398.8L856.6,1398.3L853.2,1398.9L850.0,1398.2L846.7,1398.4L843.5,1398.0L840.4,1397.2L837.1,1397.8L834.0,1397.0L830.8,1396.5L827.6,1396.3L824.3,1396.6L821.2,1396.0L818.0,1395.6L814.9,1394.6L811.6,1395.2L808.5,1393.9L805.3,1393.4L802.0,1394.0L799.0,1392.6L795.9,1391.9L792.5,1392.9L789.4,1392.2L786.5,1390.9L783.4,1390.6L780.3,1390.2L777.2,1390.2L774.3,1388.5L771.2,1388.1L768.3,1386.6L765.2,1385.7L761.7,1386.6L758.7,1385.3L755.8,1383.7L752.7,1382.7L749.6,1381.9L746.5,1381.2L743.5,1380.0L740.2,1380.1L737.5,1377.8L734.2,1377.7L731.2,1376.7L728.5,1374.7L725.4,1373.7L722.5,1372.6L719.5,1371.5L716.2,1371.1L713.3,1369.8L710.1,1368.8L707.0,1367.4L704.0,1365.9L701.3,1364.1L698.2,1363.5L695.5,1362.1L693.1,1360.0L690.1,1359.0L687.6,1357.0L684.8,1355.5L682.2,1353.5L679.4,1351.8L675.6,1351.6L673.6,1348.4L670.2,1347.4L667.0,1346.0L665.0,1342.8L662.3,1340.5L658.7,1339.7L656.5,1336.5L652.8,1335.7L649.8,1333.9L647.4,1331.2L644.2,1330.0L640.7,1329.3L638.3,1326.8L634.8,1326.4L632.4,1324.0L629.3,1322.7L626.3,1321.0L624.5,1317.5L620.7,1317.1L618.6,1314.2L615.1,1313.6L613.9,1310.0L611.4,1308.3L608.7,1307.2L605.9,1306.1L604.6,1303.4L602.1,1301.7L600.3,1299.3L598.2,1297.1L597.7,1293.6L596.1,1290.9L594.2,1288.3L592.3,1285.7L590.5,1282.9L589.2,1279.7L587.2,1277.0L584.5,1274.6L583.7,1271.0L582.1,1267.9L578.8,1265.7L578.3,1261.9L576.4,1258.9L574.6,1255.8L572.3,1253.3L570.0,1250.7L567.9,1248.0L567.2,1244.5L564.4,1242.4L562.8,1239.5L561.1,1236.7L559.7,1233.5L556.7,1231.3L555.1,1228.3L553.4,1225.4L551.9,1222.3L551.1,1218.9L548.3,1216.6L547.0,1213.4L545.4,1210.4L543.2,1207.7L542.2,1204.4L540.5,1201.5L539.7,1198.1L538.0,1195.2L536.5,1192.2L534.5,1189.4L533.5,1186.1L531.6,1183.3L529.9,1180.4L528.2,1177.4L526.8,1174.4L526.1,1171.0L523.8,1168.3L523.2,1164.8L521.0,1162.1L520.0,1158.8L518.3,1155.9L516.8,1152.8L516.1,1149.4L514.6,1146.4L513.2,1143.3L511.8,1140.2L510.7,1137.0L509.5,1133.8L508.2,1130.7L506.4,1127.7L505.0,1124.7L503.8,1121.5L502.6,1118.3L501.8,1115.0L500.7,1111.8L499.0,1108.8L498.0,1105.6L496.5,1102.5L495.9,1099.1L494.3,1096.1L493.2,1092.9L492.2,1089.7L490.6,1086.7L490.1,1083.2L488.7,1080.1L487.9,1076.8L486.4,1073.8L485.5,1070.5L484.2,1067.4L482.8,1064.3L482.0,1061.0L481.1,1057.7L479.9,1054.5L478.7,1051.5L478.1,1048.2L477.0,1045.0L476.4,1041.7L474.8,1038.6L474.2,1035.3L473.1,1032.1L472.4,1028.8L471.7,1025.5L470.1,1022.4L469.4,1019.1L468.3,1016.0L467.4,1012.7L466.7,1009.4L465.9,1006.1L465.4,1002.8L464.5,999.6L463.1,996.4L462.6,993.1L462.0,989.8L460.9,986.6L459.8,983.4L459.2,980.1L458.3,976.9L457.6,973.6L456.5,970.4L456.3,967.0L455.0,963.8L454.9,960.4L453.4,957.3L452.6,954.0L452.2,950.6L451.7,947.3L450.6,944.1L450.1,940.7L449.6,937.4L448.6,934.1L447.6,930.9L447.2,927.5L446.6,924.2L445.4,921.0L444.9,917.6L444.4,914.3L443.9,910.9L443.1,907.7L442.5,904.3L441.7,901.0L441.0,897.7L440.1,894.5L439.4,891.1L438.6,887.9L438.2,884.5L437.6,881.2L436.9,877.8L436.2,874.5L435.8,871.2L434.8,867.9L434.8,864.5L434.3,861.1L433.1,857.9L433.2,854.4L432.5,851.1L431.3,847.9L431.8,847.0Z" fill="#000000"/><path d="M412.8,850.0L412.9,850.8L413.9,854.0L414.2,857.4L414.9,860.8L415.6,864.1L416.2,867.4L416.8,870.8L417.5,874.1L417.8,877.5L418.7,880.8L419.2,884.2L420.1,887.4L420.1,890.9L421.4,894.1L421.5,897.6L422.1,900.9L422.9,904.2L423.0,907.7L424.4,910.9L424.8,914.3L425.4,917.6L425.7,921.0L426.4,924.4L426.9,927.7L427.4,931.1L428.7,934.3L428.9,937.7L429.7,941.1L430.1,944.4L430.9,947.8L431.7,951.1L432.6,954.4L433.1,957.8L433.6,961.1L434.4,964.5L435.0,967.8L435.5,971.2L436.5,974.5L436.8,977.9L437.9,981.2L438.6,984.5L439.3,987.9L439.7,991.3L440.7,994.6L441.2,998.0L442.8,1001.1L442.9,1004.6L444.3,1007.8L444.7,1011.3L446.2,1014.4L446.5,1017.9L447.6,1021.1L448.4,1024.4L449.6,1027.7L450.5,1030.9L451.6,1034.2L452.6,1037.5L453.2,1040.9L454.3,1044.1L455.6,1047.3L456.4,1050.6L457.4,1053.8L458.4,1057.2L459.3,1060.6L460.0,1064.0L461.4,1067.2L462.4,1070.5L464.0,1073.6L464.7,1077.0L465.7,1080.3L466.7,1083.6L468.1,1086.8L469.4,1090.0L470.3,1093.4L472.1,1096.4L472.8,1099.8L474.1,1103.0L475.3,1106.3L476.8,1109.4L478.3,1112.5L479.5,1115.8L480.3,1119.1L481.9,1122.3L482.7,1125.7L484.6,1128.6L485.4,1132.0L487.0,1135.1L488.4,1138.3L489.8,1141.4L491.1,1144.7L492.4,1147.8L493.9,1151.0L495.3,1154.2L496.2,1157.6L498.0,1160.6L499.3,1163.8L500.6,1167.0L502.4,1170.1L503.4,1173.4L505.4,1176.3L507.0,1179.4L508.7,1182.4L510.0,1185.7L511.7,1188.6L512.7,1192.0L514.3,1195.1L516.5,1197.9L517.0,1201.5L518.9,1204.5L520.8,1207.5L521.9,1210.8L524.2,1213.6L526.3,1216.4L527.2,1219.9L528.7,1223.1L531.8,1225.4L532.9,1228.8L535.1,1231.5L535.9,1235.2L539.0,1237.4L539.7,1241.0L542.5,1243.3L543.6,1246.6L545.3,1249.6L547.0,1252.6L550.2,1254.7L551.3,1258.1L553.8,1260.5L555.7,1263.3L557.5,1266.1L559.3,1268.8L559.5,1272.5L562.0,1274.9L564.3,1277.4L565.6,1280.6L568.3,1283.1L569.7,1286.3L570.7,1289.8L572.4,1292.8L574.5,1295.7L575.7,1299.2L577.7,1302.2L580.1,1304.9L582.9,1307.3L584.6,1310.6L587.8,1312.6L589.2,1316.2L592.8,1317.9L594.4,1321.7L598.7,1322.4L600.6,1326.0L604.0,1327.6L606.6,1330.3L610.0,1331.6L612.6,1334.1L615.7,1335.7L618.6,1337.4L621.2,1339.8L625.2,1340.0L627.2,1343.3L630.7,1344.3L633.5,1346.3L636.4,1347.9L639.6,1349.0L642.3,1350.9L644.6,1353.4L647.9,1354.2L650.2,1356.8L654.1,1356.8L656.3,1359.7L658.9,1361.8L662.2,1363.1L665.4,1364.4L667.5,1367.7L670.5,1369.5L674.0,1370.6L677.4,1371.8L679.6,1375.1L682.9,1376.7L686.1,1378.4L689.4,1379.9L693.2,1380.2L696.1,1382.3L699.5,1383.2L702.8,1384.3L706.1,1385.5L709.2,1387.2L712.4,1389.0L716.1,1389.0L719.5,1389.8L722.7,1391.3L726.1,1392.3L729.6,1392.8L732.9,1394.2L736.2,1395.1L739.6,1396.1L743.1,1395.7L746.0,1397.4L749.4,1397.8L752.4,1399.4L755.8,1399.7L759.1,1400.7L762.4,1401.4L765.9,1401.1L769.3,1401.5L772.4,1403.3L776.0,1402.6L779.1,1404.7L782.6,1404.7L786.1,1404.7L789.4,1405.5L792.8,1405.0L796.0,1406.1L799.3,1406.8L802.8,1405.7L806.0,1407.4L809.4,1406.7L812.7,1407.0L816.0,1408.1L819.3,1408.0L822.7,1407.7L825.9,1408.7L829.3,1407.5L832.6,1408.5L835.9,1408.5L839.2,1409.1L842.6,1408.1L845.9,1408.6L849.2,1408.9L852.5,1408.5L855.8,1409.3L859.1,1409.7L862.4,1409.9L865.7,1409.1L869.0,1409.6L872.3,1410.2L875.6,1409.3L878.8,1410.1L882.1,1409.7L885.4,1410.5L888.7,1410.2L892.0,1410.6L895.3,1409.8L898.6,1410.5L901.9,1410.4L905.2,1410.2L908.5,1410.6L911.8,1411.0L915.1,1410.9L918.4,1411.0L921.7,1410.7L925.1,1411.0L928.4,1410.9L931.7,1411.4L935.0,1411.3L938.3,1410.9L941.6,1410.9L944.9,1410.7L948.2,1411.0L951.5,1410.5L954.7,1411.4L958.0,1410.8L961.3,1410.4L964.6,1410.7L967.9,1411.3L971.3,1410.7L974.7,1410.8L978.2,1411.3L981.6,1411.1L985.1,1410.6L988.5,1410.4L991.9,1410.5L995.3,1410.4L998.8,1410.8L1002.1,1410.3L1005.5,1410.6L1008.9,1410.5L1012.3,1410.3L1015.6,1409.8L1018.9,1409.7L1022.2,1409.8L1025.6,1409.9L1029.0,1410.1L1032.4,1410.1L1035.8,1409.6L1039.2,1410.0L1042.5,1409.7L1045.9,1410.0L1049.3,1409.3L1052.7,1410.1L1056.1,1410.0L1059.5,1409.4L1062.9,1409.5L1066.3,1409.6L1069.7,1409.8L1073.1,1410.2L1076.5,1410.2L1079.9,1409.9L1083.3,1409.4L1086.7,1410.2L1090.1,1410.2L1093.5,1409.3L1096.9,1409.8L1100.3,1409.8L1103.7,1409.8L1107.1,1409.8L1110.5,1409.1L1113.9,1409.4L1117.2,1409.4L1120.6,1409.6L1120.5,1392.8L1117.1,1392.4L1113.7,1393.0L1110.3,1392.2L1106.9,1392.6L1103.5,1393.1L1100.2,1392.8L1096.8,1392.6L1093.4,1393.2L1090.0,1393.1L1086.6,1393.2L1083.2,1392.3L1079.8,1393.1L1076.5,1392.5L1073.1,1392.3L1069.7,1393.1L1066.3,1392.6L1062.9,1392.3L1059.5,1392.5L1056.1,1393.2L1052.7,1392.4L1049.3,1392.8L1045.9,1392.4L1042.5,1393.1L1039.2,1392.4L1035.8,1393.2L1032.4,1393.1L1029.0,1393.0L1025.6,1392.4L1022.1,1393.0L1018.7,1392.6L1015.2,1392.9L1011.8,1393.3L1008.4,1392.7L1005.0,1393.6L1001.6,1393.6L998.2,1393.1L994.8,1393.7L991.4,1393.7L988.1,1394.0L984.7,1393.8L981.4,1394.0L978.1,1393.5L974.7,1393.9L971.3,1394.2L967.9,1393.5L964.6,1393.6L961.3,1394.3L958.0,1394.0L954.7,1394.0L951.5,1394.2L948.2,1394.1L944.9,1393.4L941.6,1394.2L938.3,1393.5L935.0,1393.6L931.7,1393.4L928.5,1394.2L925.2,1394.3L922.0,1393.6L918.7,1393.5L915.4,1393.8L912.2,1393.5L908.9,1393.0L905.7,1393.1L902.4,1392.8L899.1,1393.2L895.8,1393.2L892.5,1392.4L889.2,1393.1L886.0,1392.2L882.6,1392.7L879.4,1392.5L876.1,1392.7L872.8,1392.6L869.5,1392.6L866.2,1392.4L862.9,1392.2L859.7,1391.4L856.4,1391.8L853.1,1391.4L849.8,1391.9L846.6,1391.5L843.3,1390.9L840.1,1391.0L836.8,1390.6L833.5,1391.3L830.3,1390.6L827.1,1389.7L823.7,1390.6L820.5,1390.2L817.3,1389.7L814.0,1389.9L810.8,1389.4L807.5,1388.9L804.3,1388.5L801.0,1388.5L797.9,1386.9L794.6,1387.7L791.5,1386.8L788.3,1386.9L785.3,1385.5L782.0,1386.2L778.9,1385.9L775.7,1385.4L772.6,1384.4L769.4,1384.0L766.6,1381.8L763.4,1381.5L760.2,1381.0L757.0,1380.3L753.9,1379.4L750.7,1378.7L747.5,1377.9L744.5,1376.3L741.2,1376.0L737.6,1376.4L735.0,1373.7L731.8,1372.7L728.1,1373.3L725.4,1371.0L721.9,1371.1L718.7,1370.2L716.1,1367.6L712.4,1368.0L709.9,1365.3L706.9,1364.2L703.8,1363.2L700.9,1362.0L698.1,1360.5L695.3,1359.4L692.1,1359.0L689.4,1357.5L686.7,1355.7L683.6,1354.7L681.1,1352.5L677.9,1351.3L675.7,1348.6L673.3,1346.2L669.8,1345.2L667.4,1342.6L664.1,1341.3L660.9,1339.8L658.8,1336.8L655.2,1335.8L652.2,1334.0L649.1,1332.4L646.7,1329.6L643.4,1328.6L640.3,1327.3L637.7,1325.3L634.8,1323.8L632.1,1322.0L629.6,1319.9L626.7,1318.0L623.6,1316.5L620.2,1315.7L618.3,1312.4L615.7,1310.7L612.7,1309.6L610.4,1307.6L607.5,1306.7L605.3,1305.0L604.2,1302.1L601.5,1300.7L601.2,1297.1L599.3,1294.8L596.4,1293.1L594.3,1290.8L592.2,1288.3L590.9,1285.3L589.3,1282.3L588.6,1278.9L585.2,1277.0L585.3,1272.9L581.9,1271.0L581.3,1267.2L578.0,1265.2L578.0,1261.0L574.8,1258.9L573.6,1255.4L571.3,1252.9L568.8,1250.5L567.1,1247.6L565.4,1244.7L564.4,1241.5L562.8,1238.6L560.3,1236.3L559.3,1232.8L556.6,1230.4L554.5,1227.7L553.1,1224.7L552.2,1221.2L549.8,1218.7L548.5,1215.6L546.1,1213.0L544.6,1210.0L542.9,1207.1L541.3,1204.1L539.3,1201.3L538.1,1198.2L536.0,1195.4L535.1,1192.1L533.6,1189.1L532.3,1186.0L530.2,1183.3L528.4,1180.4L527.4,1177.1L525.7,1174.2L524.0,1171.2L523.4,1167.7L521.2,1165.1L520.0,1161.9L519.0,1158.6L517.4,1155.6L516.0,1152.5L514.7,1149.4L513.5,1146.2L511.5,1143.3L510.5,1140.1L509.2,1136.9L508.1,1133.7L506.7,1130.6L505.4,1127.5L503.5,1124.6L502.5,1121.3L501.4,1118.1L499.7,1115.1L498.8,1111.9L497.9,1108.6L496.3,1105.5L495.4,1102.3L493.6,1099.3L492.9,1095.9L491.2,1092.9L490.0,1089.8L489.3,1086.4L488.2,1083.2L486.4,1080.2L486.0,1076.8L484.8,1073.6L483.3,1070.5L482.0,1067.4L481.0,1064.1L479.9,1061.0L479.2,1057.6L477.9,1054.5L477.0,1051.4L475.8,1048.3L475.1,1045.0L473.8,1041.8L473.4,1038.4L471.8,1035.4L471.0,1032.1L470.0,1028.9L469.2,1025.6L468.8,1022.3L467.7,1019.1L467.0,1015.8L466.0,1012.5L464.7,1009.4L464.3,1006.0L462.9,1002.9L462.0,999.7L461.1,996.4L460.5,993.1L460.0,989.8L458.8,986.6L457.6,983.5L456.8,980.2L456.6,976.8L455.7,973.6L455.1,970.3L454.2,967.0L453.4,963.7L452.5,960.5L451.5,957.2L450.8,954.0L450.0,950.7L449.0,947.4L448.3,944.1L448.2,940.7L447.5,937.4L446.8,934.1L446.1,930.8L444.8,927.6L444.5,924.2L443.2,921.0L442.8,917.6L442.5,914.3L441.2,911.1L441.0,907.7L439.9,904.4L439.1,901.1L438.9,897.7L438.1,894.5L437.4,891.2L436.7,887.8L436.0,884.5L435.7,881.1L435.2,877.8L434.1,874.6L434.0,871.1L433.0,867.9L432.6,864.5L431.8,861.2L431.4,857.8L430.5,854.6L430.0,851.2L429.5,847.8L429.2,847.1Z" fill="#00ff00"/><path d="M412.6,849.9L412.9,850.7L413.5,854.0L414.3,857.3L414.4,860.7L415.1,864.1L415.5,867.4L416.5,870.7L416.5,874.2L417.9,877.4L418.3,880.8L418.6,884.2L419.6,887.4L420.1,890.8L420.6,894.2L421.0,897.6L421.5,900.9L422.5,904.2L422.8,907.6L423.9,910.9L423.8,914.4L424.6,917.7L425.1,921.1L426.2,924.3L426.6,927.7L427.1,931.1L428.3,934.3L428.3,937.8L429.0,941.1L429.6,944.5L430.7,947.7L430.9,951.1L431.7,954.5L432.7,957.7L433.4,961.1L433.5,964.6L434.6,967.8L435.4,971.1L436.0,974.5L436.5,977.9L437.6,981.1L438.3,984.5L438.7,987.9L439.3,991.3L440.2,994.6L440.8,998.0L442.1,1001.2L442.8,1004.5L443.7,1007.8L444.6,1011.1L445.5,1014.4L446.0,1017.9L447.3,1021.0L448.1,1024.4L449.0,1027.7L449.5,1031.1L451.0,1034.2L451.7,1037.6L452.9,1040.8L453.5,1044.2L454.8,1047.4L456.0,1050.5L456.6,1053.9L457.8,1057.1L458.8,1060.4L459.8,1063.7L461.0,1066.9L461.5,1070.3L462.7,1073.5L463.6,1076.8L464.8,1080.0L466.0,1083.2L467.0,1086.5L468.0,1089.8L468.8,1093.1L470.3,1096.2L471.6,1099.4L472.8,1102.6L473.7,1105.9L474.7,1109.2L475.8,1112.4L476.8,1115.7L478.1,1118.9L479.7,1121.9L480.6,1125.2L481.8,1128.4L483.2,1131.6L484.1,1134.9L485.2,1138.1L487.0,1141.1L487.8,1144.5L489.4,1147.5L490.2,1150.9L491.6,1154.0L493.3,1157.0L494.3,1160.4L495.8,1163.4L497.1,1166.6L498.1,1169.9L499.7,1173.0L500.6,1176.3L502.0,1179.5L503.4,1182.6L505.2,1185.5L506.2,1188.9L508.4,1191.6L509.1,1195.1L511.0,1198.0L512.0,1201.3L514.4,1204.0L515.3,1207.4L517.4,1210.2L518.7,1213.4L519.9,1216.6L522.1,1219.4L523.0,1222.9L524.8,1225.8L526.9,1228.6L528.1,1231.9L529.9,1234.8L532.2,1237.5L532.9,1241.1L534.6,1244.1L536.1,1247.3L537.9,1250.3L540.7,1252.7L542.1,1255.9L544.0,1258.8L546.9,1261.0L547.6,1264.6L550.2,1266.9L551.7,1269.8L553.1,1272.8L555.1,1275.6L557.3,1278.2L557.9,1281.9L561.2,1283.9L561.9,1287.5L564.6,1290.1L565.0,1294.0L566.8,1297.0L569.2,1299.8L570.9,1303.0L573.2,1305.8L575.5,1308.6L577.6,1311.6L579.6,1314.6L583.2,1316.3L585.0,1319.7L588.6,1321.4L591.0,1324.3L594.1,1326.4L596.7,1329.1L599.8,1331.2L602.4,1333.7L605.5,1335.5L609.4,1335.8L612.1,1337.8L615.2,1339.5L617.4,1342.6L620.8,1343.7L623.1,1346.7L626.9,1346.9L629.0,1350.1L632.1,1351.4L635.0,1353.0L637.9,1354.4L640.4,1356.7L644.0,1357.2L646.0,1360.3L648.8,1362.2L652.0,1363.6L654.8,1365.6L658.2,1366.7L660.9,1369.1L663.7,1371.1L667.1,1372.5L670.4,1373.7L672.5,1377.3L675.9,1378.7L679.6,1379.5L682.7,1381.3L685.9,1382.9L688.8,1385.0L692.4,1385.4L695.6,1387.0L698.8,1388.4L702.7,1388.0L705.6,1390.2L708.8,1392.0L712.2,1392.8L715.5,1394.0L719.4,1393.4L722.4,1395.6L726.1,1395.5L729.1,1397.6L732.5,1398.2L736.1,1398.2L739.3,1399.4L742.7,1399.9L745.8,1401.6L749.4,1401.6L753.0,1401.4L756.2,1403.0L759.8,1402.7L763.2,1403.6L766.5,1404.9L770.0,1405.4L773.6,1405.2L777.0,1406.2L780.5,1406.5L784.0,1406.9L787.4,1407.5L790.8,1407.2L794.3,1407.5L797.6,1408.1L801.0,1409.1L804.4,1409.7L807.9,1409.6L811.4,1408.8L814.7,1410.1L818.2,1410.3L821.6,1410.5L825.0,1410.5L828.5,1410.0L831.9,1410.5L835.3,1410.5L838.7,1410.1L842.1,1410.9L845.5,1410.7L848.9,1411.6L852.3,1411.4L855.7,1411.7L859.1,1410.8L862.5,1411.7L865.9,1411.9L869.3,1411.6L872.7,1411.5L876.1,1411.8L879.5,1412.0L882.9,1411.9L886.3,1411.9L889.6,1412.4L893.0,1412.7L896.4,1412.2L899.8,1412.9L903.3,1412.1L906.6,1412.9L910.1,1412.6L913.5,1412.8L916.9,1412.7L920.3,1412.5L923.8,1412.6L927.2,1413.5L930.6,1412.9L934.0,1413.4L937.4,1413.0L940.8,1413.3L944.2,1412.9L947.6,1413.4L951.0,1412.9L954.4,1412.7L957.8,1412.6L961.1,1412.5L964.5,1412.5L967.9,1413.0L971.3,1412.7L974.7,1413.2L978.1,1412.6L981.6,1413.2L985.1,1412.5L988.5,1412.5L991.9,1412.5L995.3,1412.3L998.7,1412.3L1002.1,1412.6L1005.5,1411.7L1008.9,1411.8L1012.2,1411.5L1015.6,1412.1L1018.9,1411.4L1022.2,1411.8L1025.6,1412.1L1029.0,1411.6L1032.4,1411.4L1035.8,1411.5L1039.2,1412.2L1042.5,1411.4L1045.9,1412.1L1049.3,1411.4L1052.7,1411.4L1056.1,1412.0L1059.5,1411.9L1062.9,1411.6L1066.3,1412.0L1069.7,1411.4L1073.1,1412.1L1076.5,1411.8L1079.9,1412.2L1083.3,1411.8L1086.7,1411.8L1090.1,1412.1L1093.5,1411.8L1096.9,1411.3L1100.3,1411.8L1103.7,1411.4L1107.1,1411.7L1110.5,1412.1L1113.9,1411.7L1117.2,1411.8L1120.6,1411.4L1120.5,1394.6L1117.1,1394.8L1113.7,1394.2L1110.3,1394.4L1106.9,1394.6L1103.5,1394.2L1100.2,1395.1L1096.8,1394.3L1093.4,1394.4L1090.0,1394.8L1086.6,1394.9L1083.2,1394.7L1079.8,1395.0L1076.5,1394.7L1073.1,1395.2L1069.7,1395.2L1066.3,1395.1L1062.9,1394.5L1059.5,1395.1L1056.1,1394.6L1052.7,1395.0L1049.3,1394.6L1045.9,1394.7L1042.5,1394.8L1039.2,1394.9L1035.8,1394.7L1032.4,1394.9L1029.0,1394.7L1025.6,1395.2L1022.1,1394.9L1018.7,1394.5L1015.2,1395.1L1011.8,1394.7L1008.4,1394.9L1005.0,1395.1L1001.6,1395.2L998.2,1395.4L994.8,1396.0L991.4,1395.5L988.1,1395.6L984.7,1396.1L981.4,1396.3L978.1,1396.0L974.7,1395.7L971.3,1396.2L967.9,1396.1L964.5,1396.0L961.1,1396.2L957.8,1395.5L954.4,1395.5L951.0,1396.4L947.6,1395.8L944.2,1396.1L940.8,1395.5L937.4,1395.4L934.0,1395.9L930.6,1396.2L927.2,1396.0L923.9,1395.6L920.6,1395.4L917.2,1395.9L913.8,1395.8L910.5,1395.4L907.1,1395.4L903.7,1395.6L900.3,1395.3L897.0,1395.1L893.6,1395.4L890.2,1394.4L886.8,1394.3L883.4,1394.9L880.0,1394.7L876.6,1394.1L873.2,1394.1L869.8,1394.7L866.4,1394.1L863.1,1394.1L859.7,1393.7L856.3,1394.2L852.9,1394.0L849.6,1393.3L846.2,1392.9L842.8,1393.5L839.4,1392.8L836.1,1392.4L832.7,1392.7L829.3,1392.6L826.0,1392.0L822.6,1392.1L819.2,1392.6L815.9,1391.8L812.5,1391.7L809.3,1390.6L805.9,1390.8L802.6,1390.2L799.1,1390.9L795.9,1389.6L792.5,1389.9L789.2,1389.9L785.8,1389.7L782.8,1387.9L779.6,1387.4L776.3,1387.5L773.0,1387.1L769.6,1387.3L766.6,1385.8L763.3,1385.2L760.2,1383.7L756.9,1383.2L753.7,1382.4L750.3,1382.2L746.8,1382.4L743.9,1380.3L740.7,1379.3L737.4,1378.6L734.1,1378.1L731.0,1377.2L727.9,1375.9L724.3,1376.3L721.1,1375.5L718.2,1373.4L715.1,1372.4L712.3,1370.5L709.1,1369.5L706.0,1368.6L702.3,1368.9L699.3,1367.8L696.4,1366.3L693.3,1365.4L690.5,1364.0L688.0,1362.0L685.5,1360.2L682.1,1360.0L679.9,1357.3L677.4,1355.3L674.5,1353.9L671.9,1351.8L668.3,1351.2L666.3,1348.2L662.8,1347.3L660.0,1345.3L657.7,1342.4L654.7,1340.8L651.5,1339.2L648.5,1337.4L645.5,1335.5L641.9,1334.6L638.9,1333.0L636.8,1329.8L633.4,1329.0L630.5,1327.3L628.3,1324.7L625.7,1322.8L622.2,1322.1L619.0,1320.7L617.0,1317.5L613.9,1316.1L610.7,1314.8L608.2,1312.8L606.2,1310.3L602.7,1309.8L601.3,1307.1L598.4,1306.1L597.0,1303.5L595.1,1301.3L593.6,1298.7L591.2,1296.7L589.6,1294.0L587.9,1291.4L585.9,1288.9L583.4,1286.6L581.7,1283.7L581.6,1279.8L579.9,1276.8L576.5,1274.9L575.5,1271.4L573.2,1268.7L572.1,1265.3L570.0,1262.4L568.7,1259.0L566.7,1256.1L564.7,1253.3L562.6,1250.6L561.0,1247.6L558.3,1245.4L557.4,1242.1L554.6,1239.9L553.5,1236.8L551.4,1234.3L549.8,1231.4L548.1,1228.5L547.6,1225.0L545.3,1222.4L544.1,1219.2L542.5,1216.3L541.2,1213.2L539.6,1210.3L538.0,1207.3L535.9,1204.7L534.1,1201.9L533.0,1198.7L531.2,1195.9L530.2,1192.6L528.5,1189.7L527.1,1186.7L526.3,1183.4L524.3,1180.6L523.1,1177.5L522.1,1174.3L520.8,1171.2L519.2,1168.2L518.0,1165.1L516.1,1162.3L515.4,1158.9L513.5,1156.0L512.7,1152.7L511.5,1149.6L510.2,1146.5L508.6,1143.5L507.1,1140.5L506.3,1137.2L504.6,1134.2L503.6,1131.0L502.5,1127.9L501.5,1124.6L500.4,1121.5L499.2,1118.3L497.9,1115.2L497.0,1112.0L495.2,1109.1L494.4,1105.8L493.6,1102.5L491.8,1099.5L491.0,1096.3L489.7,1093.2L489.0,1089.9L487.8,1086.7L486.7,1083.5L486.0,1080.2L484.2,1077.2L483.7,1073.9L482.7,1070.7L481.7,1067.4L480.8,1064.2L479.6,1061.0L478.3,1057.9L477.5,1054.7L476.2,1051.6L475.4,1048.3L474.2,1045.1L473.3,1041.8L472.4,1038.6L471.6,1035.3L470.7,1032.1L469.5,1028.9L469.2,1025.5L467.6,1022.4L467.1,1019.1L466.5,1015.8L464.9,1012.7L464.0,1009.5L463.8,1006.0L463.0,1002.8L461.8,999.6L461.1,996.3L460.3,993.1L459.4,989.8L458.4,986.6L457.8,983.3L456.9,980.1L455.9,976.9L454.9,973.6L453.8,970.4L453.3,967.1L453.0,963.7L451.9,960.5L451.1,957.2L450.4,953.9L449.9,950.6L449.1,947.3L448.4,944.0L447.5,940.7L446.6,937.5L445.7,934.2L445.2,930.9L444.8,927.5L443.8,924.2L443.5,920.9L442.5,917.6L441.9,914.3L440.6,911.1L440.2,907.7L439.9,904.3L438.7,901.1L438.5,897.7L437.2,894.5L436.6,891.2L436.3,887.8L435.7,884.5L435.3,881.1L434.8,877.8L434.1,874.5L433.5,871.1L432.9,867.8L432.2,864.5L431.4,861.2L430.7,857.9L430.1,854.5L429.4,851.2L428.8,847.9L428.6,847.1Z" fill="#ff0000"/></g>
<g shape-rendering="crispEdges"><path d="M1277.6,850.2L1278.5,852.7L1278.7,855.9L1279.4,859.0L1279.9,862.2L1280.8,865.2L1282.0,868.2L1281.9,871.5L1283.2,874.5L1283.9,877.6L1284.3,880.8L1285.1,883.9L1285.8,887.0L1286.0,890.2L1286.3,893.4L1287.6,896.4L1288.2,899.5L1288.6,902.7L1289.6,905.7L1290.1,908.9L1290.4,912.1L1291.8,915.0L1292.1,918.2L1293.1,921.3L1293.2,924.5L1294.5,927.5L1294.6,930.7L1295.7,933.7L1295.9,937.0L1297.1,940.0L1297.7,943.1L1298.8,946.1L1299.3,949.3L1299.9,952.4L1300.2,955.7L1301.2,958.7L1301.7,961.9L1302.5,965.0L1304.0,967.9L1304.5,971.1L1304.8,974.4L1305.7,977.4L1306.7,980.5L1307.7,983.6L1308.5,986.7L1309.9,989.8L1310.9,993.0L1311.7,996.1L1312.9,999.0L1313.9,1002.0L1314.4,1005.2L1315.6,1008.2L1316.7,1011.2L1318.0,1014.1L1318.9,1017.2L1320.7,1019.9L1321.5,1023.0L1322.9,1025.9L1323.6,1029.1L1325.4,1031.8L1326.7,1034.6L1327.5,1037.8L1328.7,1040.7L1329.9,1043.4L1330.9,1046.2L1332.6,1049.0L1333.4,1052.1L1334.6,1055.1L1335.4,1058.2L1337.1,1061.0L1338.4,1063.9L1339.5,1066.9L1340.6,1069.9L1341.3,1073.1L1342.8,1075.9L1344.0,1078.9L1345.5,1081.8L1346.8,1084.7L1347.6,1087.9L1349.4,1090.7L1350.9,1093.5L1351.7,1096.7L1353.5,1099.4L1354.7,1102.4L1355.8,1105.4L1357.0,1108.4L1359.1,1111.0L1360.0,1114.2L1361.8,1116.9L1362.8,1120.0L1364.3,1122.8L1365.8,1125.6L1367.4,1128.5L1368.8,1131.4L1370.0,1134.4L1372.1,1137.0L1373.6,1139.8L1375.4,1142.5L1376.9,1145.4L1378.8,1148.0L1379.7,1151.2L1381.9,1153.7L1383.1,1156.8L1385.4,1159.1L1386.7,1162.1L1388.5,1164.8L1390.2,1167.5L1391.8,1170.3L1394.1,1172.6L1395.3,1175.7L1397.7,1178.0L1399.2,1180.8L1400.6,1183.8L1402.6,1186.3L1404.0,1189.1L1405.9,1191.7L1408.0,1194.1L1409.9,1196.7L1411.7,1199.2L1413.6,1201.8L1414.8,1204.8L1416.4,1207.5L1418.8,1209.8L1420.2,1212.7L1421.8,1215.6L1423.7,1218.2L1425.7,1220.8L1427.2,1223.8L1429.5,1226.2L1431.5,1228.8L1433.3,1231.6L1435.4,1234.1L1437.4,1236.7L1439.4,1239.4L1441.9,1241.6L1443.6,1244.5L1445.9,1246.9L1448.2,1249.5L1450.9,1251.5L1453.6,1253.7L1455.7,1256.4L1458.5,1258.3L1460.9,1260.5L1463.7,1262.3L1466.2,1264.4L1468.7,1266.3L1471.1,1268.4L1473.5,1270.6L1476.3,1272.2L1478.9,1274.2L1481.4,1276.3L1483.9,1278.4L1486.7,1280.1L1489.6,1281.7L1492.0,1284.0L1494.8,1285.7L1497.2,1287.9L1500.1,1289.3L1503.2,1290.6L1505.6,1292.8L1508.6,1294.1L1511.2,1296.0L1514.2,1297.4L1516.7,1299.6L1519.8,1300.8L1522.2,1303.1L1525.5,1304.1L1528.0,1306.3L1530.9,1307.8L1534.0,1308.9L1537.0,1310.4L1540.0,1311.7L1542.8,1313.4L1546.0,1314.2L1549.0,1315.7L1552.1,1316.6L1555.0,1318.2L1558.1,1319.2L1560.9,1321.0L1564.1,1321.7L1567.3,1322.5L1570.3,1323.7L1573.4,1324.6L1576.4,1325.6L1579.5,1326.6L1582.3,1328.3L1585.5,1328.7L1588.3,1330.4L1591.2,1331.6L1594.2,1332.5L1597.4,1332.9L1600.2,1334.5L1603.3,1335.4L1606.2,1336.8L1609.5,1337.2L1612.4,1338.5L1615.5,1339.6L1618.7,1340.2L1621.7,1341.5L1624.7,1342.6L1627.8,1343.6L1630.8,1344.6L1634.0,1344.7L1636.9,1346.3L1640.1,1346.8L1643.1,1348.0L1646.3,1348.2L1649.3,1349.2L1652.4,1349.9L1655.4,1350.9L1658.5,1351.5L1661.6,1352.4L1664.8,1352.3L1667.8,1353.2L1670.8,1354.3L1674.0,1354.5L1677.0,1355.7L1680.1,1355.8L1683.1,1356.7L1686.1,1356.7L1689.0,1358.2L1692.2,1358.1L1695.2,1359.1L1698.3,1359.7L1701.4,1360.3L1704.6,1361.1L1707.8,1361.7L1711.0,1362.5L1714.1,1363.3L1717.3,1363.6L1720.4,1364.1L1723.7,1364.1L1726.8,1364.7L1730.0,1365.0L1733.1,1365.7L1736.2,1366.9L1739.4,1366.7L1742.6,1367.4L1745.7,1368.1L1748.9,1368.4L1752.0,1369.1L1755.2,1369.5L1758.3,1370.2L1761.5,1370.5L1764.7,1370.8L1767.7,1372.2L1770.9,1372.6L1774.1,1373.1L1777.4,1373.0L1780.4,1374.2L1783.5,1374.6L1786.7,1374.7L1789.9,1375.1L1793.0,1376.1L1796.2,1375.8L1799.3,1376.9L1802.5,1377.7L1805.7,1378.2L1808.9,1378.7L1812.2,1378.6L1815.5,1378.7L1818.7,1379.4L1822.0,1379.6L1825.2,1380.2L1828.5,1380.7L1831.6,1381.1L1834.9,1380.7L1838.1,1381.0L1841.3,1381.0L1844.4,1381.9L1847.6,1381.8L1850.8,1381.7L1854.0,1382.2L1857.2,1382.4L1860.4,1382.9L1863.7,1382.4L1866.9,1382.9L1870.1,1382.9L1873.3,1382.7L1876.5,1382.8L1879.7,1383.0L1882.9,1383.3L1886.1,1383.5L1889.2,1383.8L1892.4,1384.1L1895.6,1383.4L1898.8,1384.3L1901.9,1383.9L1905.1,1384.3L1908.3,1384.0L1911.5,1384.5L1914.6,1384.5L1917.8,1384.0L1921.0,1384.9L1924.2,1384.2L1927.4,1384.7L1930.5,1384.5L1933.7,1385.0L1936.9,1384.7L1940.1,1385.2L1943.2,1385.5L1946.4,1385.4L1949.6,1385.7L1952.8,1385.4L1955.9,1385.7L1959.1,1385.6L1962.3,1386.2L1965.5,1385.5L1968.7,1386.3L1969.2,1368.6L1966.0,1368.9L1962.8,1368.6L1959.7,1368.1L1956.5,1368.7L1953.3,1367.8L1950.1,1368.2L1947.0,1367.6L1943.8,1368.1L1940.6,1367.5L1937.4,1367.8L1934.2,1367.8L1931.1,1367.4L1927.9,1367.0L1924.7,1367.3L1921.5,1367.0L1918.4,1367.2L1915.2,1366.9L1912.0,1367.2L1908.8,1366.5L1905.6,1366.8L1902.5,1366.8L1899.3,1367.1L1896.1,1366.5L1892.9,1366.3L1889.8,1366.4L1886.6,1366.6L1883.4,1366.6L1880.2,1366.2L1877.0,1366.3L1873.9,1365.4L1870.8,1365.7L1867.6,1365.9L1864.5,1365.8L1861.4,1364.9L1858.2,1365.6L1855.1,1364.8L1851.9,1364.3L1848.7,1364.6L1845.6,1364.0L1842.4,1364.1L1839.3,1364.3L1836.1,1363.9L1833.0,1363.3L1829.8,1363.2L1826.8,1362.6L1823.6,1363.0L1820.7,1361.9L1817.6,1361.6L1814.5,1361.4L1811.4,1361.3L1808.4,1360.2L1805.1,1360.7L1802.1,1359.8L1798.9,1359.2L1795.8,1358.8L1792.6,1358.4L1789.4,1358.1L1786.3,1357.1L1783.1,1356.5L1779.9,1356.6L1776.9,1355.3L1773.6,1355.7L1770.6,1354.3L1767.4,1354.1L1764.3,1353.3L1761.1,1353.4L1758.0,1352.9L1754.9,1351.9L1751.7,1351.6L1748.6,1350.8L1745.4,1350.6L1742.3,1349.9L1739.2,1349.3L1736.0,1349.3L1732.9,1348.5L1729.8,1347.7L1726.7,1346.9L1723.6,1346.2L1720.3,1346.1L1717.2,1345.7L1714.0,1345.4L1711.0,1344.3L1707.9,1344.0L1705.0,1343.2L1701.9,1342.9L1698.8,1342.4L1695.8,1341.6L1693.0,1340.2L1689.7,1340.3L1686.6,1339.2L1683.5,1339.0L1680.5,1338.0L1677.5,1337.5L1674.4,1336.9L1671.4,1336.5L1668.4,1335.5L1665.4,1335.0L1662.5,1334.1L1659.4,1333.8L1656.6,1332.5L1653.5,1332.2L1650.7,1331.0L1647.7,1330.3L1644.6,1330.2L1641.7,1329.5L1639.0,1328.0L1636.1,1327.1L1633.1,1326.0L1630.0,1325.7L1627.0,1324.6L1624.2,1323.2L1621.2,1322.3L1618.3,1321.2L1615.1,1321.0L1612.2,1319.6L1609.3,1318.3L1606.3,1317.2L1603.2,1316.3L1600.1,1315.6L1597.3,1313.9L1594.3,1312.8L1591.3,1311.8L1588.2,1310.8L1585.1,1310.0L1581.9,1309.6L1579.1,1308.1L1576.2,1306.7L1573.1,1306.3L1570.1,1305.1L1567.2,1304.0L1564.5,1302.6L1561.6,1301.3L1558.8,1300.2L1555.9,1299.2L1553.1,1298.0L1550.4,1296.7L1547.7,1295.3L1544.8,1294.3L1542.3,1292.6L1539.3,1291.7L1536.7,1290.1L1533.9,1288.6L1531.3,1287.0L1528.7,1285.3L1526.0,1283.7L1522.9,1282.8L1520.3,1281.1L1517.6,1279.4L1515.4,1277.2L1512.3,1276.2L1509.8,1274.2L1507.2,1272.5L1504.5,1270.9L1502.2,1268.8L1499.8,1267.0L1497.0,1265.7L1494.4,1264.0L1492.1,1261.9L1489.8,1259.8L1487.0,1258.3L1484.4,1256.5L1482.1,1254.4L1479.3,1252.8L1477.4,1250.2L1474.6,1248.5L1472.0,1246.8L1469.5,1244.9L1467.4,1242.7L1465.2,1240.6L1462.8,1239.0L1461.0,1236.7L1458.9,1234.8L1456.7,1232.8L1455.1,1230.3L1453.0,1228.2L1451.3,1225.7L1449.6,1223.2L1447.9,1220.7L1445.6,1218.6L1443.6,1216.2L1441.9,1213.6L1440.5,1210.7L1438.3,1208.4L1436.6,1205.7L1435.1,1202.9L1433.4,1200.2L1431.3,1197.8L1429.7,1195.0L1427.8,1192.4L1426.3,1189.5L1424.6,1186.8L1423.1,1184.0L1421.3,1181.4L1419.6,1178.7L1417.2,1176.5L1415.4,1173.8L1414.1,1170.9L1412.2,1168.4L1410.3,1165.9L1408.9,1163.0L1406.9,1160.5L1405.0,1158.0L1403.6,1155.1L1401.6,1152.6L1400.1,1149.9L1399.0,1146.9L1397.0,1144.4L1395.0,1142.0L1393.5,1139.3L1392.2,1136.4L1390.7,1133.7L1389.1,1131.0L1387.1,1128.5L1386.3,1125.5L1384.1,1123.1L1382.7,1120.4L1381.4,1117.6L1379.9,1114.9L1378.4,1112.1L1377.5,1109.1L1376.3,1106.2L1374.2,1103.8L1372.8,1101.0L1372.1,1097.8L1370.3,1095.2L1369.3,1092.2L1367.6,1089.5L1366.9,1086.4L1365.4,1083.6L1364.2,1080.7L1362.4,1078.1L1361.9,1074.8L1360.4,1072.0L1359.4,1069.0L1357.9,1066.2L1356.9,1063.2L1355.2,1060.5L1354.3,1057.5L1353.6,1054.4L1352.2,1051.6L1350.5,1048.8L1349.7,1045.8L1348.8,1042.7L1347.4,1039.9L1345.9,1036.9L1344.7,1033.8L1343.5,1030.9L1342.2,1028.1L1341.4,1025.1L1340.4,1022.1L1339.1,1019.3L1338.1,1016.3L1336.4,1013.7L1335.5,1010.7L1334.0,1008.0L1332.9,1005.1L1331.7,1002.2L1331.1,999.1L1329.5,996.5L1328.8,993.4L1327.7,990.6L1327.1,987.5L1326.0,984.8L1324.9,982.0L1324.7,978.9L1323.4,976.0L1322.6,973.0L1322.1,969.9L1321.3,966.8L1320.8,963.7L1319.7,960.8L1318.3,957.9L1318.2,954.7L1317.2,951.7L1317.0,948.5L1315.6,945.5L1315.0,942.4L1314.1,939.4L1313.5,936.3L1313.2,933.1L1312.0,930.1L1311.4,927.0L1311.1,923.8L1310.3,920.7L1309.5,917.6L1308.9,914.5L1308.2,911.4L1307.8,908.3L1307.2,905.2L1305.8,902.2L1306.0,899.0L1304.6,896.0L1304.6,892.8L1303.9,889.7L1302.6,886.7L1302.0,883.6L1302.0,880.4L1301.4,877.3L1300.5,874.2L1300.2,871.1L1298.8,868.1L1298.3,865.0L1298.2,861.8L1296.9,858.8L1296.9,855.6L1295.7,852.6L1295.8,849.3L1294.5,846.9Z" fill="#00ffff"/><path d="M1278.4,850.1L1278.8,852.7L1278.8,855.9L1279.7,859.0L1280.5,862.0L1281.3,865.1L1282.0,868.3L1282.5,871.4L1282.9,874.6L1284.0,877.6L1284.5,880.8L1284.9,883.9L1285.1,887.1L1285.7,890.2L1286.3,893.4L1287.7,896.4L1288.4,899.5L1288.4,902.7L1289.2,905.8L1290.3,908.8L1290.8,912.0L1291.0,915.2L1291.8,918.3L1292.4,921.4L1293.5,924.4L1294.5,927.5L1294.9,930.7L1296.0,933.7L1296.7,936.8L1297.4,939.9L1297.9,943.0L1298.7,946.1L1299.3,949.3L1299.6,952.5L1300.4,955.6L1301.8,958.6L1301.7,961.9L1302.5,965.0L1303.1,968.2L1304.6,971.1L1304.9,974.3L1305.9,977.4L1306.6,980.5L1307.2,983.7L1308.9,986.6L1309.1,989.9L1309.9,993.0L1311.1,996.0L1312.2,999.0L1313.1,1002.1L1314.4,1005.1L1314.9,1008.4L1316.1,1011.4L1317.1,1014.4L1318.0,1017.5L1319.6,1020.4L1320.7,1023.4L1321.8,1026.4L1322.9,1029.4L1323.3,1032.7L1325.0,1035.5L1325.9,1038.6L1326.8,1041.7L1328.3,1044.5L1328.8,1047.8L1330.0,1050.7L1331.6,1053.5L1332.6,1056.6L1333.6,1059.6L1334.6,1062.7L1336.0,1065.5L1337.4,1068.4L1339.0,1071.2L1339.7,1074.4L1340.9,1077.4L1342.1,1080.4L1343.6,1083.2L1344.4,1086.4L1345.9,1089.3L1347.4,1092.1L1348.8,1095.0L1350.4,1097.9L1351.1,1101.1L1352.8,1103.9L1353.6,1107.0L1355.5,1109.7L1356.9,1112.6L1357.8,1115.7L1359.6,1118.5L1360.5,1121.6L1362.3,1124.3L1363.5,1127.3L1365.7,1129.8L1367.3,1132.6L1368.8,1135.5L1369.6,1138.7L1371.6,1141.3L1372.9,1144.3L1374.8,1147.0L1376.0,1150.0L1377.8,1152.7L1379.8,1155.3L1381.7,1157.9L1383.2,1160.7L1384.9,1163.4L1386.7,1166.2L1388.1,1169.1L1389.8,1171.8L1391.5,1174.5L1393.8,1176.9L1395.6,1179.5L1396.9,1182.5L1398.6,1185.2L1400.4,1187.9L1402.1,1190.6L1404.3,1192.9L1406.3,1195.4L1407.8,1198.2L1409.6,1200.8L1411.5,1203.3L1412.8,1206.3L1414.7,1208.9L1416.4,1211.6L1417.9,1214.5L1420.0,1217.0L1421.5,1219.9L1423.4,1222.5L1425.5,1225.1L1427.3,1227.8L1429.4,1230.4L1431.4,1233.0L1433.1,1235.8L1435.3,1238.4L1437.5,1240.8L1439.4,1243.5L1441.7,1245.9L1444.2,1248.1L1446.1,1251.0L1448.8,1253.2L1451.0,1255.8L1453.6,1258.0L1456.6,1259.6L1459.1,1261.8L1461.4,1264.2L1464.2,1265.8L1466.4,1268.2L1469.0,1270.1L1471.3,1272.3L1474.2,1273.8L1476.6,1276.0L1479.3,1277.9L1481.9,1279.9L1484.4,1282.1L1487.4,1283.5L1490.2,1285.2L1492.6,1287.5L1495.7,1288.7L1498.2,1290.8L1500.7,1292.8L1503.5,1294.5L1506.3,1296.1L1509.4,1297.2L1511.7,1299.7L1514.8,1300.9L1517.7,1302.4L1520.7,1303.9L1523.5,1305.5L1526.4,1307.0L1529.1,1309.0L1532.1,1310.3L1535.1,1311.7L1537.8,1313.6L1541.1,1314.3L1543.9,1315.9L1546.8,1317.6L1549.8,1318.9L1552.9,1320.0L1556.0,1321.0L1559.2,1321.8L1562.1,1323.1L1565.1,1324.5L1568.1,1325.7L1571.2,1326.6L1574.2,1327.9L1577.3,1328.6L1580.3,1329.9L1583.2,1331.0L1586.5,1331.3L1589.5,1332.3L1592.2,1334.1L1595.4,1334.5L1598.3,1335.7L1601.4,1336.7L1604.2,1338.2L1607.6,1338.4L1610.5,1339.9L1613.5,1340.9L1616.7,1341.6L1619.7,1342.9L1622.7,1344.3L1626.1,1344.4L1629.1,1345.5L1632.2,1346.8L1635.4,1347.5L1638.5,1348.5L1641.8,1348.9L1645.0,1349.4L1648.1,1350.3L1651.1,1351.4L1654.4,1351.7L1657.6,1352.3L1660.7,1353.3L1663.9,1353.7L1667.1,1353.9L1670.2,1354.7L1673.3,1355.8L1676.6,1355.4L1679.6,1356.7L1682.8,1356.8L1685.9,1357.8L1689.2,1357.7L1692.3,1358.7L1695.4,1359.5L1698.7,1359.2L1701.7,1360.5L1705.0,1360.2L1708.2,1360.6L1711.2,1361.8L1714.4,1362.0L1717.6,1362.0L1720.7,1363.0L1723.9,1363.3L1727.0,1364.2L1730.1,1364.7L1733.3,1365.0L1736.5,1365.1L1739.6,1365.8L1742.7,1366.2L1746.0,1366.2L1749.1,1367.1L1752.3,1367.1L1755.4,1367.6L1758.6,1367.7L1761.8,1368.2L1764.9,1369.0L1768.0,1369.7L1771.2,1370.1L1774.4,1369.8L1777.6,1370.6L1780.7,1370.7L1783.9,1371.0L1787.0,1371.6L1790.1,1372.3L1793.2,1373.0L1796.5,1372.6L1799.6,1373.2L1802.8,1374.1L1806.0,1374.2L1809.2,1374.5L1812.4,1375.2L1815.7,1374.8L1818.9,1376.0L1822.2,1375.6L1825.5,1376.3L1828.7,1376.5L1831.9,1376.6L1835.1,1376.6L1838.3,1376.7L1841.5,1376.3L1844.7,1376.8L1847.9,1377.1L1851.1,1376.8L1854.3,1377.3L1857.5,1377.3L1860.7,1377.5L1863.9,1377.7L1867.2,1377.3L1870.4,1377.6L1873.6,1377.0L1876.8,1377.8L1880.0,1377.8L1883.1,1377.7L1886.3,1377.7L1889.5,1377.5L1892.7,1377.3L1895.9,1377.8L1899.0,1377.1L1902.2,1377.5L1905.4,1377.1L1908.6,1377.7L1911.7,1377.5L1914.9,1377.6L1918.1,1377.1L1921.3,1377.4L1924.4,1377.6L1927.6,1377.4L1930.8,1377.7L1934.0,1377.1L1937.2,1377.3L1940.3,1377.1L1943.5,1377.7L1946.7,1377.4L1949.9,1377.7L1953.0,1377.7L1956.2,1377.0L1959.4,1377.6L1962.6,1377.8L1965.7,1377.9L1968.9,1377.1L1968.9,1360.3L1965.7,1359.9L1962.6,1360.2L1959.4,1360.1L1956.2,1360.4L1953.0,1360.5L1949.9,1359.9L1946.7,1360.0L1943.5,1359.9L1940.3,1360.4L1937.2,1360.4L1934.0,1360.0L1930.8,1360.7L1927.6,1360.3L1924.4,1360.6L1921.3,1360.7L1918.1,1360.2L1914.9,1359.8L1911.7,1360.1L1908.6,1360.6L1905.4,1359.9L1902.2,1360.4L1899.0,1360.7L1895.9,1359.8L1892.7,1360.3L1889.5,1360.7L1886.3,1359.7L1883.1,1359.8L1880.0,1360.1L1876.8,1360.1L1873.6,1359.9L1870.5,1360.4L1867.4,1360.4L1864.2,1359.7L1861.1,1359.8L1857.9,1359.8L1854.8,1360.4L1851.6,1359.9L1848.5,1359.2L1845.3,1359.9L1842.2,1359.6L1839.0,1359.7L1835.9,1359.6L1832.7,1359.4L1829.5,1359.3L1826.4,1359.1L1823.4,1358.6L1820.4,1358.4L1817.3,1358.1L1814.3,1357.5L1811.2,1357.1L1808.0,1357.1L1805.0,1356.2L1801.8,1356.2L1798.7,1355.8L1795.5,1355.6L1792.3,1355.4L1789.2,1354.6L1786.1,1353.8L1782.8,1353.9L1779.7,1353.6L1776.5,1353.2L1773.4,1352.4L1770.3,1352.3L1767.1,1352.1L1764.1,1351.0L1760.8,1351.2L1757.8,1350.3L1754.7,1349.6L1751.5,1349.3L1748.3,1349.3L1745.1,1349.2L1742.0,1348.7L1738.9,1347.8L1735.8,1347.1L1732.6,1347.3L1729.5,1346.3L1726.4,1346.0L1723.2,1345.8L1720.0,1345.5L1717.0,1344.4L1713.8,1344.3L1710.8,1343.2L1707.6,1343.1L1704.5,1342.6L1701.4,1341.8L1698.3,1341.3L1695.2,1340.9L1692.0,1340.9L1689.0,1339.7L1685.8,1339.6L1682.7,1339.1L1679.6,1338.7L1676.5,1338.0L1673.4,1337.2L1670.3,1336.4L1667.2,1336.0L1664.1,1335.4L1660.9,1335.5L1657.9,1334.8L1654.8,1334.2L1651.8,1333.2L1648.7,1333.0L1645.8,1331.8L1642.7,1331.4L1639.7,1330.6L1636.8,1329.6L1633.9,1328.9L1630.9,1328.2L1627.9,1327.2L1625.0,1326.3L1622.2,1324.7L1619.0,1324.4L1616.2,1323.1L1613.3,1321.8L1610.2,1321.0L1607.3,1319.7L1604.3,1318.8L1601.1,1318.2L1598.3,1316.6L1595.3,1315.4L1592.2,1314.6L1589.3,1313.3L1586.2,1312.4L1582.9,1312.1L1579.9,1311.0L1577.3,1309.1L1574.0,1308.9L1571.2,1307.3L1568.4,1306.0L1565.4,1305.1L1562.4,1304.4L1559.4,1303.5L1556.8,1301.7L1553.7,1301.3L1551.0,1299.7L1548.4,1298.2L1545.7,1296.9L1542.9,1295.7L1540.0,1294.6L1537.4,1293.0L1534.6,1291.8L1532.0,1290.1L1529.1,1288.9L1526.6,1286.9L1523.7,1285.7L1521.3,1283.7L1518.3,1282.6L1515.5,1281.1L1513.1,1279.2L1510.7,1277.0L1507.9,1275.6L1505.1,1274.1L1502.6,1272.3L1500.1,1270.5L1497.7,1268.7L1494.8,1267.4L1492.3,1265.6L1490.1,1263.4L1487.4,1261.9L1485.2,1259.6L1482.5,1258.0L1480.2,1255.8L1477.5,1254.1L1474.8,1252.3L1472.9,1249.7L1470.4,1247.8L1467.9,1245.9L1465.3,1244.3L1463.0,1242.4L1461.3,1240.0L1458.8,1238.4L1456.8,1236.4L1455.3,1233.8L1453.0,1231.9L1450.9,1229.8L1449.0,1227.4L1447.3,1224.9L1445.8,1222.2L1444.1,1219.7L1441.6,1217.6L1439.8,1215.1L1438.7,1212.1L1436.7,1209.6L1435.2,1206.8L1433.1,1204.4L1431.6,1201.6L1429.9,1198.9L1427.8,1196.4L1426.0,1193.8L1424.0,1191.2L1422.4,1188.4L1420.9,1185.6L1419.4,1182.8L1417.1,1180.5L1415.4,1177.8L1414.0,1174.9L1412.2,1172.3L1410.2,1169.9L1408.6,1167.2L1406.9,1164.5L1405.0,1162.0L1403.7,1159.1L1401.4,1156.8L1400.2,1153.8L1398.4,1151.2L1396.3,1148.8L1394.5,1146.2L1392.9,1143.5L1391.9,1140.5L1389.9,1138.1L1388.1,1135.5L1386.7,1132.7L1385.4,1129.9L1383.7,1127.3L1382.5,1124.4L1381.2,1121.6L1379.6,1119.0L1378.4,1116.1L1377.1,1113.3L1375.1,1110.8L1373.7,1108.0L1372.9,1104.9L1371.4,1102.2L1370.0,1099.4L1368.7,1096.5L1367.4,1093.6L1366.1,1090.8L1364.4,1088.1L1363.2,1085.2L1361.8,1082.4L1360.8,1079.4L1359.8,1076.4L1358.1,1073.7L1356.7,1070.8L1356.3,1067.6L1354.9,1064.7L1354.0,1061.7L1352.5,1058.9L1350.7,1056.2L1349.9,1053.2L1349.2,1050.1L1347.5,1047.4L1346.6,1044.3L1345.0,1041.5L1344.4,1038.4L1343.6,1035.3L1341.6,1032.7L1340.6,1029.7L1339.8,1026.6L1338.6,1023.7L1337.7,1020.7L1337.0,1017.6L1335.8,1014.7L1334.4,1011.8L1334.0,1008.7L1332.3,1005.9L1331.9,1002.8L1330.7,999.9L1330.0,996.8L1328.4,994.0L1327.4,991.1L1327.2,987.9L1326.2,984.9L1325.2,982.0L1324.4,979.0L1323.9,975.9L1322.4,973.0L1322.0,969.9L1321.2,966.9L1320.6,963.8L1319.4,960.8L1318.7,957.8L1318.2,954.7L1317.1,951.7L1317.0,948.4L1316.3,945.4L1315.5,942.3L1315.0,939.2L1313.7,936.2L1312.7,933.2L1312.1,930.1L1311.3,927.0L1311.2,923.8L1310.3,920.7L1309.4,917.7L1308.6,914.6L1308.0,911.5L1308.0,908.2L1306.5,905.3L1306.1,902.2L1305.5,899.1L1304.6,896.0L1303.9,892.9L1303.3,889.8L1302.8,886.7L1302.5,883.5L1301.9,880.4L1301.2,877.3L1300.1,874.3L1299.7,871.1L1299.4,868.0L1298.1,865.0L1298.1,861.8L1297.8,858.6L1296.3,855.7L1296.3,852.4L1295.4,849.4L1294.6,846.9Z" fill="#0000ff"/><path d="M1967.9,1360.5L1971.4,1366.3L1967.9,1376.2Z" fill="#0000ff"/><path d="M1279.1,850.1L1280.0,852.0L1280.3,855.3L1280.8,858.6L1281.3,861.8L1282.4,865.0L1282.6,868.3L1283.4,871.5L1284.0,874.8L1284.9,878.0L1285.1,881.3L1286.3,884.4L1286.2,887.8L1287.2,891.0L1287.8,894.2L1288.8,897.4L1289.1,900.7L1290.1,903.9L1290.2,907.2L1290.9,910.4L1292.1,913.6L1292.2,916.9L1293.0,920.1L1293.9,923.3L1294.3,926.6L1294.9,929.8L1295.7,933.0L1296.2,936.2L1296.8,939.5L1297.3,942.8L1298.0,946.0L1299.3,949.1L1299.4,952.5L1300.0,955.8L1301.0,958.9L1301.4,962.2L1302.6,965.4L1303.5,968.6L1303.9,971.9L1304.9,975.1L1305.7,978.3L1306.3,981.6L1306.8,985.0L1308.0,988.1L1308.5,991.4L1309.8,994.5L1310.8,997.8L1312.1,1000.9L1313.1,1004.1L1313.5,1007.5L1314.6,1010.6L1315.8,1013.7L1316.6,1017.0L1317.8,1020.1L1319.2,1023.1L1319.9,1026.4L1321.1,1029.6L1322.8,1032.6L1323.4,1036.0L1324.9,1039.0L1325.8,1042.2L1327.0,1045.3L1328.1,1048.5L1329.9,1051.3L1330.6,1054.6L1332.1,1057.6L1332.9,1060.8L1334.7,1063.7L1335.3,1067.0L1336.4,1070.1L1337.9,1073.1L1339.1,1076.2L1340.2,1079.4L1341.2,1082.6L1343.1,1085.5L1343.7,1088.8L1345.3,1091.8L1346.5,1094.9L1347.4,1098.1L1349.3,1101.0L1350.5,1104.1L1351.4,1107.4L1352.7,1110.5L1354.4,1113.5L1355.4,1116.7L1357.0,1119.7L1358.7,1122.7L1359.9,1125.8L1361.4,1128.8L1362.6,1132.0L1364.1,1135.1L1365.7,1138.1L1366.7,1141.3L1368.8,1144.1L1370.5,1147.0L1371.3,1150.4L1373.2,1153.2L1374.5,1156.4L1376.7,1159.1L1378.2,1162.1L1380.1,1164.9L1381.0,1168.3L1383.5,1170.7L1384.4,1174.2L1386.8,1176.6L1387.9,1179.9L1389.8,1182.7L1391.3,1185.7L1393.8,1188.1L1394.3,1191.7L1396.8,1194.2L1399.1,1196.7L1399.8,1200.1L1402.6,1202.4L1403.2,1205.8L1404.7,1208.6L1407.3,1211.0L1409.1,1213.8L1410.7,1216.6L1411.4,1220.1L1412.9,1223.1L1414.2,1226.1L1417.1,1228.3L1419.2,1230.8L1419.9,1234.3L1421.2,1237.4L1423.1,1240.1L1425.3,1242.7L1427.4,1245.2L1428.2,1248.6L1429.7,1251.6L1432.6,1253.6L1433.4,1257.0L1435.0,1259.9L1436.2,1263.0L1439.1,1265.0L1440.8,1267.8L1443.0,1270.2L1444.5,1273.2L1445.1,1276.9L1447.9,1279.4L1448.8,1283.4L1452.1,1285.5L1453.6,1288.9L1456.6,1290.9L1458.4,1294.0L1461.3,1296.0L1464.2,1298.1L1466.7,1300.4L1469.2,1302.9L1472.0,1304.8L1473.6,1308.4L1476.1,1310.7L1478.9,1312.6L1482.7,1313.3L1484.1,1317.0L1486.9,1318.9L1489.4,1321.1L1492.3,1322.7L1495.4,1324.0L1497.8,1326.2L1500.1,1328.4L1502.8,1330.2L1505.4,1332.0L1506.4,1335.8L1509.8,1337.1L1511.9,1339.7L1515.2,1341.2L1516.6,1344.8L1519.3,1346.9L1523.0,1348.0L1525.4,1350.6L1527.3,1353.8L1531.1,1354.7L1534.0,1356.8L1536.7,1359.0L1539.6,1361.0L1542.0,1364.0L1545.2,1365.8L1548.6,1366.9L1552.0,1367.7L1554.8,1370.0L1558.0,1370.8L1561.4,1370.7L1564.4,1372.2L1567.1,1374.3L1570.4,1375.1L1573.7,1375.8L1576.7,1377.1L1580.0,1377.5L1582.9,1379.1L1586.3,1379.2L1588.8,1381.8L1592.0,1382.4L1595.1,1382.7L1597.8,1384.6L1601.0,1385.0L1604.1,1385.8L1607.1,1386.9L1610.1,1388.0L1613.0,1389.5L1616.2,1390.1L1619.7,1390.1L1622.9,1390.8L1625.6,1393.1L1628.8,1393.7L1632.1,1394.3L1635.4,1394.9L1638.4,1396.4L1641.9,1395.5L1645.0,1396.4L1648.1,1397.2L1651.1,1398.9L1654.3,1398.9L1657.5,1399.3L1660.7,1399.5L1664.0,1399.7L1667.1,1400.0L1670.3,1400.6L1673.4,1401.1L1676.5,1402.0L1679.7,1402.3L1682.8,1403.5L1685.9,1403.8L1689.1,1403.7L1692.4,1403.6L1695.5,1404.1L1698.7,1404.1L1701.7,1405.2L1705.0,1405.2L1708.2,1406.2L1711.6,1405.8L1714.8,1406.7L1718.2,1406.5L1721.4,1407.1L1724.7,1407.1L1728.0,1407.9L1731.3,1407.6L1734.6,1407.8L1737.9,1408.0L1741.2,1408.7L1744.7,1409.4L1748.0,1409.3L1751.3,1409.9L1754.6,1409.8L1757.9,1410.0L1761.2,1410.1L1764.5,1409.8L1767.8,1410.6L1771.1,1410.3L1774.4,1410.4L1777.8,1410.6L1781.1,1410.8L1784.3,1411.4L1787.6,1411.2L1790.9,1411.3L1794.2,1411.6L1797.5,1412.2L1800.8,1411.7L1804.1,1411.8L1807.4,1411.9L1810.7,1412.1L1814.0,1412.1L1817.3,1412.7L1820.7,1413.0L1824.0,1412.5L1827.3,1413.0L1830.6,1412.3L1833.9,1412.7L1837.2,1413.1L1840.5,1412.5L1843.8,1413.4L1847.1,1412.9L1850.4,1413.0L1853.7,1413.5L1857.0,1413.5L1860.3,1412.9L1863.6,1413.1L1866.9,1413.4L1870.2,1413.2L1873.5,1413.6L1876.8,1412.9L1880.2,1413.6L1883.5,1413.3L1886.8,1413.2L1890.1,1413.2L1893.4,1412.8L1896.7,1412.9L1900.0,1412.6L1903.3,1413.1L1906.5,1412.6L1909.8,1412.4L1913.1,1413.1L1916.3,1412.5L1919.6,1413.1L1922.9,1412.6L1926.1,1412.8L1929.4,1412.9L1932.7,1412.7L1936.0,1413.1L1939.3,1412.9L1942.6,1413.0L1945.9,1412.7L1949.2,1412.3L1952.5,1412.3L1955.8,1412.3L1959.1,1412.7L1962.3,1413.1L1965.6,1412.7L1968.9,1412.6L1968.9,1395.3L1965.6,1395.8L1962.3,1396.1L1959.1,1395.5L1955.8,1396.0L1952.5,1395.8L1949.2,1396.0L1945.9,1395.9L1942.6,1395.9L1939.3,1395.9L1936.0,1395.9L1932.7,1395.4L1929.4,1396.0L1926.1,1395.9L1922.9,1395.5L1919.5,1395.6L1916.2,1395.8L1912.9,1396.0L1909.6,1395.7L1906.3,1395.5L1903.0,1395.9L1899.7,1396.2L1896.4,1395.6L1893.1,1395.7L1889.8,1396.3L1886.6,1396.4L1883.3,1395.8L1880.0,1396.5L1876.8,1396.1L1873.5,1396.0L1870.2,1396.0L1867.0,1396.7L1863.7,1395.8L1860.4,1396.1L1857.2,1396.1L1853.9,1395.7L1850.6,1396.4L1847.3,1395.8L1844.0,1395.5L1840.8,1395.6L1837.5,1395.7L1834.2,1396.1L1830.9,1395.3L1827.6,1395.9L1824.3,1395.8L1821.1,1395.9L1817.8,1395.4L1814.5,1395.5L1811.3,1394.8L1808.0,1395.2L1804.7,1395.0L1801.5,1395.4L1798.2,1394.8L1794.9,1394.9L1791.6,1394.5L1788.3,1394.6L1785.1,1393.9L1781.8,1394.2L1778.5,1393.8L1775.3,1393.3L1772.0,1393.1L1768.7,1393.8L1765.5,1393.5L1762.2,1392.4L1758.9,1392.9L1755.7,1392.6L1752.4,1391.9L1749.1,1392.4L1745.8,1392.4L1742.8,1391.1L1739.6,1391.3L1736.3,1391.0L1733.0,1390.8L1729.8,1389.9L1726.4,1390.3L1723.1,1389.9L1719.8,1389.7L1716.6,1388.6L1713.3,1388.4L1710.0,1388.4L1706.8,1387.9L1703.7,1387.4L1700.6,1386.9L1697.5,1386.8L1694.5,1385.9L1691.3,1386.2L1688.3,1385.8L1685.3,1384.8L1682.1,1384.8L1679.0,1384.7L1675.9,1384.3L1673.0,1382.9L1669.8,1382.8L1666.7,1382.7L1663.7,1382.0L1660.7,1381.1L1657.7,1380.2L1654.4,1380.9L1651.6,1379.0L1648.5,1379.2L1645.4,1378.9L1642.7,1377.1L1639.5,1377.7L1636.6,1376.9L1633.9,1375.1L1631.0,1374.2L1628.1,1373.4L1625.1,1372.7L1622.0,1372.2L1618.9,1371.6L1616.2,1369.5L1613.2,1368.8L1609.9,1368.4L1607.4,1365.9L1603.9,1366.3L1601.1,1364.5L1598.0,1363.5L1594.6,1363.5L1591.6,1362.4L1588.5,1361.4L1585.7,1359.5L1582.6,1359.0L1579.8,1357.3L1577.0,1355.8L1573.9,1355.4L1570.7,1355.3L1567.8,1354.3L1564.9,1352.9L1562.0,1351.5L1559.3,1350.4L1556.9,1348.8L1554.6,1347.3L1551.8,1346.9L1549.1,1345.9L1547.0,1343.8L1544.6,1342.0L1542.4,1340.0L1539.9,1338.3L1537.9,1335.7L1535.7,1333.4L1533.4,1331.2L1530.2,1329.7L1528.2,1327.0L1525.0,1325.5L1522.2,1323.5L1521.0,1319.8L1517.4,1318.6L1515.5,1315.6L1512.5,1313.8L1510.3,1311.2L1508.0,1308.6L1504.3,1307.7L1502.6,1304.5L1499.9,1302.5L1497.5,1300.2L1494.0,1299.2L1491.1,1297.6L1489.6,1294.2L1487.4,1291.8L1484.0,1291.0L1482.1,1288.2L1479.5,1286.4L1476.6,1285.0L1474.9,1282.3L1473.3,1279.6L1471.2,1277.6L1469.7,1275.0L1466.3,1274.1L1464.9,1271.7L1464.3,1268.8L1463.4,1265.9L1460.2,1264.1L1460.1,1260.4L1457.8,1257.7L1455.4,1255.2L1453.2,1252.7L1452.9,1249.0L1450.4,1246.7L1449.5,1243.4L1446.6,1241.3L1445.3,1238.2L1444.3,1235.0L1442.4,1232.3L1441.2,1229.2L1438.4,1227.1L1436.4,1224.4L1435.3,1221.2L1433.8,1218.4L1432.2,1215.5L1431.2,1212.3L1428.7,1210.0L1427.7,1206.8L1425.0,1204.6L1424.0,1201.4L1421.8,1198.9L1420.0,1196.1L1419.2,1192.6L1416.9,1190.1L1416.1,1186.7L1413.6,1184.3L1412.3,1181.2L1411.0,1178.1L1409.0,1175.4L1407.4,1172.5L1404.9,1170.1L1403.5,1167.0L1401.5,1164.3L1400.6,1161.0L1399.3,1158.0L1396.6,1155.7L1395.0,1152.8L1393.9,1149.6L1392.8,1146.4L1391.0,1143.7L1389.4,1140.8L1387.2,1138.3L1385.8,1135.3L1384.7,1132.2L1383.2,1129.3L1381.6,1126.5L1380.3,1123.5L1378.6,1120.7L1377.5,1117.7L1376.1,1114.7L1375.1,1111.6L1373.7,1108.7L1372.3,1105.7L1370.8,1102.8L1369.4,1099.9L1368.6,1096.7L1367.4,1093.6L1366.0,1090.6L1364.6,1087.6L1363.4,1084.6L1362.3,1081.5L1360.9,1078.5L1360.2,1075.2L1358.7,1072.2L1357.6,1069.1L1356.1,1066.2L1354.9,1063.1L1353.7,1060.0L1352.7,1056.8L1351.7,1053.6L1350.1,1050.7L1349.5,1047.4L1348.3,1044.2L1346.5,1041.4L1345.8,1038.1L1344.7,1035.0L1342.9,1032.1L1342.3,1028.8L1340.6,1026.0L1339.9,1022.8L1339.0,1019.8L1337.4,1016.8L1336.4,1013.7L1335.6,1010.6L1334.5,1007.5L1333.2,1004.5L1332.2,1001.5L1331.5,998.3L1330.8,995.1L1329.4,992.2L1328.7,989.1L1327.9,986.0L1327.1,982.9L1326.0,979.8L1325.6,976.6L1324.2,973.6L1323.7,970.4L1322.8,967.3L1322.3,964.1L1321.2,961.0L1320.8,957.7L1319.8,954.6L1318.9,951.5L1318.0,948.3L1317.2,945.2L1316.4,942.0L1315.8,938.8L1315.2,935.5L1314.4,932.3L1314.1,929.0L1312.9,925.9L1312.6,922.6L1311.7,919.4L1310.7,916.3L1310.0,913.1L1309.2,909.9L1308.7,906.6L1308.0,903.4L1306.8,900.3L1306.2,897.1L1306.0,893.8L1305.0,890.6L1304.1,887.5L1303.1,884.3L1302.7,881.0L1302.2,877.8L1301.2,874.7L1300.3,871.5L1300.3,868.2L1299.2,865.0L1299.0,861.7L1298.0,858.6L1297.4,855.4L1296.5,852.2L1296.1,849.0L1295.5,847.0Z" fill="#000000"/><path d="M1967.9,1395.8L1973.9,1401.7L1967.9,1411.5Z" fill="#000000"/><path d="M1277.5,850.0L1277.5,852.1L1278.6,855.2L1278.8,858.6L1280.0,861.7L1279.9,865.1L1280.6,868.3L1281.4,871.5L1282.5,874.7L1282.7,878.0L1283.3,881.3L1284.0,884.5L1284.5,887.8L1285.6,890.9L1285.8,894.3L1286.9,897.4L1287.3,900.7L1288.1,903.9L1288.8,907.1L1289.5,910.3L1289.6,913.7L1290.9,916.8L1291.2,920.1L1291.9,923.3L1292.8,926.4L1293.5,929.7L1293.9,932.9L1294.6,936.2L1295.3,939.4L1296.0,942.6L1296.6,945.9L1297.0,949.2L1297.4,952.5L1298.6,955.6L1299.2,958.9L1299.7,962.2L1300.7,965.4L1301.5,968.6L1301.9,971.9L1302.8,975.1L1303.9,978.3L1304.4,981.6L1304.8,984.9L1306.4,988.0L1306.6,991.4L1307.7,994.6L1308.5,997.8L1309.7,1001.0L1310.6,1004.2L1311.5,1007.5L1313.0,1010.5L1314.1,1013.6L1314.8,1016.9L1316.0,1020.0L1317.0,1023.2L1318.2,1026.3L1318.9,1029.7L1320.4,1032.8L1321.6,1036.0L1323.3,1039.0L1324.3,1042.1L1325.5,1045.2L1326.2,1048.6L1328.1,1051.4L1329.0,1054.6L1330.0,1057.7L1331.3,1060.8L1332.4,1063.9L1333.9,1066.9L1335.3,1070.0L1336.4,1073.1L1337.4,1076.3L1338.7,1079.4L1340.0,1082.5L1340.8,1085.8L1342.5,1088.7L1343.9,1091.8L1344.9,1095.0L1346.1,1098.1L1347.3,1101.3L1348.8,1104.3L1350.5,1107.3L1351.5,1110.5L1353.1,1113.5L1354.4,1116.6L1355.4,1119.9L1356.7,1123.0L1358.2,1126.1L1360.1,1128.9L1361.4,1132.1L1362.6,1135.3L1364.1,1138.3L1366.4,1141.0L1367.8,1144.1L1369.1,1147.2L1371.1,1150.0L1372.9,1152.8L1374.3,1155.9L1375.7,1159.1L1377.1,1162.1L1378.8,1165.1L1380.7,1167.9L1382.3,1170.8L1384.1,1173.7L1385.5,1176.8L1387.4,1179.6L1389.0,1182.5L1390.4,1185.6L1393.3,1187.8L1395.2,1190.6L1396.1,1193.9L1398.0,1196.7L1399.0,1200.0L1401.7,1202.2L1402.7,1205.3L1404.2,1208.1L1406.7,1210.5L1408.8,1213.1L1409.7,1216.4L1411.8,1219.0L1413.5,1221.8L1414.7,1225.0L1416.9,1227.4L1417.8,1230.7L1419.4,1233.6L1421.4,1236.2L1422.9,1239.2L1425.4,1241.5L1426.3,1244.8L1427.5,1247.9L1429.2,1250.7L1432.4,1252.6L1433.6,1255.7L1434.6,1258.9L1436.5,1261.6L1438.6,1264.1L1439.4,1267.3L1440.9,1270.1L1443.2,1272.6L1445.5,1275.3L1446.1,1279.2L1449.1,1281.7L1451.6,1284.4L1454.3,1286.8L1455.2,1290.6L1458.0,1292.8L1461.5,1294.2L1463.8,1296.8L1465.2,1300.4L1469.1,1301.2L1470.8,1304.5L1473.6,1306.5L1476.3,1308.5L1478.7,1311.0L1481.8,1312.4L1484.0,1315.0L1486.3,1317.5L1489.3,1319.0L1492.0,1320.9L1494.4,1323.1L1497.5,1324.4L1499.7,1326.6L1501.5,1329.3L1504.2,1331.2L1507.3,1332.6L1508.6,1336.1L1511.8,1337.5L1514.5,1339.5L1517.2,1341.6L1518.6,1345.2L1521.5,1347.2L1524.8,1348.8L1527.6,1350.8L1529.5,1354.2L1533.3,1355.0L1535.7,1357.7L1538.5,1360.0L1541.3,1362.4L1544.8,1363.6L1548.5,1363.9L1551.3,1366.2L1554.2,1368.3L1558.0,1368.1L1561.4,1368.8L1564.7,1369.8L1567.5,1372.4L1570.7,1373.6L1574.3,1373.5L1577.7,1374.0L1581.0,1375.1L1584.4,1375.5L1587.5,1376.8L1590.7,1377.7L1593.8,1378.6L1597.2,1378.6L1599.7,1381.1L1602.9,1381.3L1606.1,1382.0L1609.0,1383.4L1612.5,1382.8L1615.4,1384.6L1618.7,1385.1L1621.7,1386.4L1624.8,1387.7L1628.3,1387.0L1631.5,1387.9L1634.7,1388.9L1637.9,1389.9L1641.1,1390.9L1644.4,1391.3L1647.7,1391.5L1650.9,1391.4L1654.1,1392.3L1657.3,1392.7L1660.6,1392.6L1663.7,1394.1L1666.9,1394.4L1670.2,1394.4L1673.5,1394.2L1676.6,1395.0L1679.9,1395.0L1683.1,1395.7L1686.4,1395.1L1689.5,1396.2L1692.7,1396.3L1695.9,1397.0L1699.2,1396.8L1702.3,1397.3L1705.6,1396.8L1708.8,1397.4L1712.0,1397.3L1715.1,1398.3L1718.3,1398.4L1721.6,1397.8L1724.7,1398.4L1728.0,1398.0L1731.1,1398.7L1734.2,1399.4L1737.5,1398.6L1740.6,1399.5L1743.8,1399.4L1746.9,1400.2L1750.2,1399.7L1753.3,1400.4L1756.5,1400.3L1759.7,1400.7L1762.9,1401.0L1766.1,1401.0L1769.3,1400.8L1772.5,1401.2L1775.7,1401.6L1778.9,1401.8L1782.2,1401.7L1785.4,1401.7L1788.6,1401.5L1791.8,1401.6L1794.9,1402.3L1798.1,1402.2L1801.3,1402.6L1804.5,1402.5L1807.7,1402.5L1811.0,1402.4L1814.1,1403.2L1817.4,1402.7L1820.7,1403.1L1824.0,1402.7L1827.3,1403.6L1830.6,1402.9L1833.9,1403.3L1837.2,1403.6L1840.5,1403.1L1843.8,1403.6L1847.1,1403.4L1850.4,1404.0L1853.7,1403.2L1857.0,1403.3L1860.3,1403.7L1863.6,1403.8L1866.9,1403.8L1870.2,1403.4L1873.5,1403.7L1876.8,1403.3L1880.2,1403.8L1883.5,1403.5L1886.8,1404.1L1890.1,1403.5L1893.4,1403.1L1896.7,1403.0L1900.0,1403.2L1903.3,1403.1L1906.5,1403.7L1909.8,1403.5L1913.1,1403.1L1916.3,1402.9L1919.6,1402.7L1922.9,1402.8L1926.1,1403.4L1929.4,1402.7L1932.7,1403.4L1936.0,1403.1L1939.3,1403.3L1942.6,1403.3L1945.9,1402.8L1949.2,1403.4L1952.5,1403.5L1955.8,1402.8L1959.1,1403.6L1962.3,1403.4L1965.6,1403.3L1968.9,1403.3L1968.9,1386.5L1965.6,1386.6L1962.3,1386.5L1959.1,1385.8L1955.8,1386.5L1952.5,1385.8L1949.2,1385.9L1945.9,1386.3L1942.6,1386.6L1939.3,1386.4L1936.0,1386.0L1932.7,1385.8L1929.4,1386.6L1926.1,1386.4L1922.9,1386.5L1919.5,1386.0L1916.2,1386.3L1912.9,1386.0L1909.6,1386.6L1906.3,1386.4L1903.0,1386.3L1899.7,1386.8L1896.4,1386.6L1893.1,1386.3L1889.8,1386.4L1886.6,1386.4L1883.3,1386.4L1880.0,1386.8L1876.8,1386.6L1873.5,1386.6L1870.2,1387.1L1867.0,1386.8L1863.7,1386.9L1860.4,1386.6L1857.2,1386.3L1853.9,1386.9L1850.6,1386.1L1847.3,1386.8L1844.0,1386.6L1840.7,1386.8L1837.5,1386.0L1834.2,1386.5L1830.9,1386.0L1827.6,1386.3L1824.3,1386.5L1821.1,1386.4L1817.8,1386.3L1814.7,1385.8L1811.5,1385.7L1808.3,1386.1L1805.2,1385.2L1802.0,1385.2L1798.8,1385.2L1795.7,1384.7L1792.5,1385.0L1789.3,1384.7L1786.1,1384.7L1783.0,1384.1L1779.8,1384.7L1776.6,1384.4L1773.5,1383.6L1770.3,1383.5L1767.1,1383.6L1764.0,1383.4L1760.8,1382.7L1757.6,1383.3L1754.5,1382.3L1751.3,1382.1L1748.1,1382.7L1744.9,1381.9L1741.8,1381.6L1738.5,1381.8L1735.4,1381.2L1732.2,1381.0L1728.9,1381.7L1725.8,1380.5L1722.6,1380.7L1719.4,1380.7L1716.3,1380.0L1713.1,1379.9L1709.9,1379.5L1706.7,1380.2L1703.6,1379.7L1700.4,1379.7L1697.3,1378.6L1694.2,1378.8L1691.0,1378.6L1687.9,1378.5L1684.7,1378.3L1681.7,1377.0L1678.5,1376.8L1675.4,1376.5L1672.2,1376.8L1669.0,1376.4L1666.0,1375.5L1662.9,1374.5L1659.8,1374.3L1656.6,1374.8L1653.5,1374.2L1650.4,1373.6L1647.3,1373.3L1644.5,1371.9L1641.4,1372.1L1638.3,1371.8L1635.5,1370.4L1632.4,1370.2L1629.3,1369.7L1626.7,1367.4L1623.5,1367.4L1620.2,1367.3L1617.3,1366.1L1614.3,1364.9L1611.4,1363.4L1608.3,1362.5L1605.3,1361.5L1602.2,1360.3L1598.5,1360.9L1595.5,1359.3L1592.1,1359.0L1589.1,1357.1L1585.6,1357.5L1582.5,1356.4L1579.2,1355.7L1576.5,1353.5L1573.5,1352.2L1570.2,1352.4L1567.4,1350.9L1564.5,1349.8L1561.4,1349.7L1559.0,1347.8L1556.1,1347.4L1553.6,1346.4L1551.2,1345.0L1549.5,1342.5L1546.2,1342.3L1543.8,1340.6L1542.1,1337.8L1539.2,1336.5L1536.9,1334.3L1534.8,1331.9L1532.2,1329.9L1529.7,1327.7L1526.6,1326.1L1524.6,1323.4L1521.8,1321.4L1519.1,1319.4L1517.8,1315.7L1515.2,1313.5L1512.3,1311.6L1509.4,1309.7L1506.5,1308.0L1504.0,1305.7L1502.0,1302.8L1498.4,1302.0L1496.7,1298.8L1493.7,1297.3L1491.0,1295.5L1489.2,1292.6L1486.6,1290.7L1483.6,1289.3L1481.6,1286.8L1478.3,1285.8L1476.0,1283.7L1474.5,1280.9L1472.1,1279.0L1470.3,1276.7L1467.9,1274.9L1465.8,1272.9L1464.4,1270.5L1463.1,1268.1L1462.5,1265.0L1460.2,1262.8L1459.0,1259.7L1457.4,1256.6L1454.3,1254.6L1453.1,1251.5L1451.3,1248.7L1449.8,1245.8L1449.1,1242.4L1446.4,1240.2L1445.0,1237.3L1443.6,1234.3L1440.8,1232.2L1439.6,1229.0L1437.4,1226.6L1435.6,1223.9L1435.2,1220.3L1432.4,1218.2L1432.4,1214.4L1430.7,1211.6L1428.2,1209.3L1426.1,1206.8L1425.0,1203.7L1423.8,1200.7L1422.5,1197.7L1420.4,1195.0L1418.4,1192.1L1416.9,1189.2L1414.6,1186.6L1413.2,1183.6L1411.2,1180.9L1410.1,1177.7L1408.0,1175.1L1405.8,1172.5L1404.9,1169.2L1403.0,1166.4L1401.4,1163.5L1399.0,1161.1L1397.9,1157.9L1395.9,1155.2L1394.1,1152.4L1392.4,1149.6L1391.4,1146.4L1389.6,1143.6L1387.7,1140.9L1386.9,1137.7L1384.8,1135.1L1383.1,1132.3L1382.0,1129.2L1380.6,1126.2L1379.0,1123.5L1377.7,1120.5L1376.4,1117.5L1374.8,1114.6L1373.5,1111.7L1372.3,1108.6L1370.9,1105.7L1369.2,1102.8L1368.5,1099.5L1367.1,1096.6L1365.7,1093.6L1364.4,1090.6L1362.8,1087.7L1361.9,1084.5L1360.8,1081.4L1359.3,1078.4L1358.3,1075.2L1357.0,1072.2L1355.7,1069.1L1354.8,1065.9L1353.1,1063.0L1351.9,1059.9L1350.8,1056.8L1349.8,1053.6L1348.4,1050.6L1347.1,1047.5L1346.3,1044.2L1345.0,1041.2L1343.6,1038.2L1342.8,1034.9L1341.3,1031.9L1339.8,1028.9L1339.1,1025.7L1337.8,1022.9L1337.1,1019.7L1335.9,1016.7L1334.4,1013.8L1333.2,1010.7L1332.4,1007.6L1331.4,1004.5L1330.8,1001.3L1329.7,998.2L1328.4,995.3L1327.4,992.2L1327.0,989.0L1325.9,986.0L1325.1,982.9L1324.0,979.8L1323.0,976.8L1322.4,973.6L1321.5,970.5L1321.0,967.3L1320.2,964.1L1318.9,961.1L1318.7,957.8L1317.8,954.6L1317.1,951.4L1316.4,948.3L1315.7,945.1L1314.8,941.9L1314.2,938.7L1313.2,935.5L1312.6,932.3L1311.3,929.2L1311.2,925.8L1310.4,922.7L1309.1,919.6L1308.7,916.3L1307.6,913.1L1306.9,909.9L1306.6,906.6L1305.5,903.5L1305.1,900.2L1304.3,897.1L1303.1,893.9L1302.7,890.7L1301.7,887.5L1301.0,884.3L1300.8,881.0L1299.6,877.9L1299.4,874.6L1298.8,871.4L1297.7,868.3L1297.2,865.0L1296.7,861.8L1295.8,858.6L1295.7,855.3L1295.1,852.1L1294.0,849.0L1293.5,847.1Z" fill="#00ff00"/><path d="M1277.3,849.9L1277.5,852.0L1277.7,855.3L1278.5,858.5L1278.9,861.8L1280.1,865.0L1280.2,868.3L1281.4,871.5L1281.9,874.7L1282.0,878.1L1282.9,881.3L1283.5,884.5L1284.2,887.7L1285.0,890.9L1285.5,894.2L1286.3,897.4L1286.6,900.7L1287.4,903.9L1287.8,907.2L1288.5,910.4L1289.2,913.7L1290.4,916.8L1291.1,920.0L1291.5,923.3L1291.7,926.6L1292.6,929.7L1293.3,933.0L1293.7,936.2L1294.5,939.4L1295.6,942.6L1296.0,945.9L1296.3,949.2L1297.1,952.4L1298.3,955.6L1298.3,959.0L1299.3,962.1L1300.2,965.3L1300.8,968.6L1301.2,972.0L1302.0,975.2L1303.1,978.4L1303.7,981.7L1305.0,984.8L1305.3,988.1L1306.7,991.2L1307.2,994.6L1308.4,997.7L1309.5,1000.9L1310.5,1004.1L1310.9,1007.5L1312.5,1010.5L1313.4,1013.7L1314.6,1016.8L1315.5,1020.0L1316.3,1023.3L1317.8,1026.3L1318.6,1029.5L1320.0,1032.6L1321.3,1035.6L1321.9,1038.9L1323.3,1041.9L1324.2,1045.1L1325.1,1048.3L1326.4,1051.3L1327.8,1054.3L1328.7,1057.5L1329.7,1060.6L1331.2,1063.5L1331.8,1066.8L1333.5,1069.7L1334.7,1072.8L1335.5,1076.0L1336.6,1079.1L1338.0,1082.2L1338.9,1085.4L1340.2,1088.4L1341.0,1091.7L1342.4,1094.7L1343.5,1097.8L1345.0,1100.8L1345.6,1104.2L1347.3,1107.1L1348.3,1110.3L1349.4,1113.4L1350.9,1116.5L1352.3,1119.5L1353.4,1122.7L1354.6,1125.7L1356.4,1128.6L1357.7,1131.7L1359.1,1134.7L1360.7,1137.7L1361.6,1141.0L1362.7,1144.1L1364.8,1146.8L1365.7,1150.1L1367.7,1152.9L1368.7,1156.1L1371.1,1158.7L1372.4,1161.7L1373.4,1165.0L1374.8,1168.0L1376.5,1170.9L1378.2,1173.7L1380.2,1176.4L1381.0,1179.8L1383.1,1182.4L1384.3,1185.5L1386.5,1188.1L1387.3,1191.4L1389.3,1194.0L1390.8,1197.0L1393.2,1199.4L1394.4,1202.5L1396.6,1205.2L1397.8,1208.3L1399.1,1211.4L1401.2,1214.0L1403.4,1216.6L1404.3,1219.8L1405.4,1223.0L1407.8,1225.5L1408.7,1228.8L1411.2,1231.2L1412.5,1234.2L1414.7,1236.8L1416.9,1239.3L1417.2,1243.0L1419.4,1245.5L1420.6,1248.7L1422.3,1251.5L1424.0,1254.3L1426.5,1256.6L1428.4,1259.3L1430.2,1262.1L1431.5,1265.1L1432.8,1268.0L1433.9,1271.1L1435.3,1274.2L1437.6,1276.9L1439.8,1279.8L1442.5,1282.5L1444.2,1285.9L1447.0,1288.1L1448.3,1291.7L1451.7,1293.2L1453.9,1296.0L1456.7,1298.1L1459.2,1300.4L1461.0,1303.7L1464.4,1305.0L1466.9,1307.4L1469.9,1309.1L1471.3,1312.8L1473.9,1314.9L1477.3,1316.1L1479.2,1319.1L1482.8,1320.0L1485.3,1322.1L1487.4,1324.7L1490.4,1326.1L1491.8,1329.3L1494.1,1331.5L1497.8,1332.2L1499.7,1334.9L1502.2,1337.1L1503.8,1340.4L1506.3,1342.7L1510.3,1343.4L1511.5,1347.3L1514.6,1349.1L1517.5,1351.0L1520.3,1353.2L1522.5,1356.2L1526.3,1357.0L1528.9,1359.5L1532.2,1360.9L1534.9,1363.3L1537.6,1365.8L1540.8,1367.5L1544.7,1367.4L1547.8,1368.9L1550.6,1371.1L1554.3,1371.0L1557.7,1371.8L1560.4,1374.6L1564.3,1373.7L1567.1,1376.4L1570.6,1376.7L1574.0,1377.1L1577.3,1377.8L1580.5,1378.8L1583.5,1380.6L1586.8,1380.8L1590.2,1380.7L1593.1,1382.4L1596.4,1382.7L1599.2,1384.7L1602.8,1384.2L1605.9,1385.7L1609.3,1385.7L1612.5,1387.0L1615.5,1388.6L1618.9,1389.2L1622.0,1390.5L1625.7,1389.9L1628.9,1391.2L1632.4,1391.2L1635.6,1392.8L1639.1,1392.3L1642.2,1394.2L1645.6,1393.9L1648.9,1394.4L1652.3,1394.6L1655.6,1395.0L1658.8,1396.1L1662.2,1396.3L1665.5,1396.1L1668.8,1397.1L1672.2,1396.8L1675.5,1396.6L1678.8,1397.1L1682.1,1397.7L1685.5,1398.0L1688.8,1397.9L1692.1,1398.8L1695.4,1398.4L1698.7,1399.1L1702.0,1399.2L1705.3,1399.5L1708.6,1400.0L1711.9,1400.0L1715.2,1400.0L1718.5,1400.3L1721.8,1400.3L1725.0,1401.0L1728.3,1401.0L1731.6,1400.4L1734.9,1400.6L1738.2,1401.2L1741.4,1401.9L1744.8,1401.2L1748.0,1401.5L1751.3,1402.6L1754.6,1402.5L1757.9,1402.5L1761.2,1402.3L1764.5,1402.3L1767.8,1402.8L1771.1,1402.8L1774.4,1403.7L1777.7,1403.5L1781.0,1403.6L1784.3,1403.9L1787.6,1403.9L1790.9,1403.8L1794.2,1404.4L1797.5,1404.5L1800.8,1404.8L1804.1,1404.5L1807.4,1404.3L1810.7,1405.2L1814.1,1404.4L1817.4,1404.6L1820.7,1405.2L1824.0,1405.4L1827.3,1405.6L1830.6,1405.3L1833.9,1405.1L1837.2,1404.9L1840.5,1405.6L1843.8,1405.6L1847.1,1405.1L1850.4,1405.8L1853.7,1406.0L1857.0,1405.3L1860.3,1405.7L1863.6,1405.6L1866.9,1405.8L1870.2,1405.3L1873.5,1406.1L1876.8,1405.5L1880.1,1405.8L1883.5,1405.4L1886.8,1405.3L1890.1,1406.0L1893.4,1405.3L1896.7,1405.9L1900.0,1405.7L1903.3,1405.4L1906.5,1405.4L1909.8,1404.8L1913.1,1405.5L1916.3,1405.3L1919.6,1405.2L1922.9,1405.5L1926.1,1405.1L1929.4,1405.0L1932.7,1405.4L1936.0,1405.1L1939.3,1405.3L1942.6,1404.8L1945.9,1404.9L1949.2,1404.9L1952.5,1405.4L1955.8,1405.6L1959.1,1405.6L1962.3,1405.2L1965.6,1405.4L1968.9,1404.8L1968.9,1388.3L1965.6,1388.4L1962.3,1388.2L1959.1,1388.3L1955.8,1388.3L1952.5,1388.4L1949.2,1388.3L1945.9,1388.4L1942.6,1388.7L1939.3,1388.1L1936.0,1388.7L1932.7,1387.8L1929.4,1388.0L1926.1,1388.3L1922.9,1388.3L1919.5,1388.6L1916.2,1387.9L1912.9,1388.2L1909.6,1388.4L1906.3,1388.0L1903.0,1388.5L1899.7,1388.8L1896.4,1388.8L1893.1,1388.7L1889.8,1388.8L1886.6,1388.7L1883.3,1388.5L1880.0,1388.5L1876.8,1388.5L1873.5,1388.8L1870.2,1388.3L1867.0,1388.5L1863.7,1388.2L1860.4,1388.9L1857.1,1389.0L1853.9,1388.2L1850.6,1388.3L1847.3,1388.8L1844.0,1388.8L1840.7,1388.4L1837.5,1388.5L1834.2,1388.4L1830.9,1388.0L1827.6,1388.6L1824.3,1387.8L1821.1,1388.5L1817.8,1387.8L1814.5,1388.3L1811.3,1387.9L1808.0,1387.7L1804.7,1387.4L1801.5,1387.6L1798.2,1387.1L1794.9,1386.6L1791.6,1386.8L1788.3,1387.3L1785.1,1386.8L1781.8,1386.6L1778.5,1386.1L1775.3,1386.2L1772.0,1386.5L1768.7,1386.3L1765.5,1385.2L1762.2,1385.1L1759.0,1384.9L1755.7,1385.0L1752.4,1384.5L1749.1,1384.2L1745.9,1384.1L1742.6,1383.7L1739.3,1383.4L1736.0,1383.6L1732.7,1383.0L1729.4,1383.3L1726.1,1383.6L1722.8,1382.6L1719.5,1382.9L1716.2,1382.3L1712.9,1382.6L1709.7,1381.9L1706.4,1381.8L1703.1,1382.2L1699.9,1381.2L1696.6,1381.3L1693.4,1380.4L1690.2,1380.1L1686.9,1380.1L1683.7,1380.2L1680.4,1380.0L1677.3,1378.8L1673.9,1379.3L1670.8,1378.3L1667.4,1379.1L1664.2,1378.7L1660.9,1378.3L1657.9,1376.6L1654.5,1377.4L1651.4,1376.4L1648.2,1375.7L1645.0,1375.5L1641.8,1374.9L1638.6,1375.0L1635.6,1374.2L1632.6,1373.4L1629.4,1373.0L1626.5,1371.4L1623.3,1371.1L1620.1,1370.5L1617.2,1369.0L1614.1,1368.2L1611.0,1367.1L1608.0,1365.7L1604.6,1365.4L1601.4,1364.6L1598.0,1364.6L1594.8,1363.7L1591.8,1361.9L1588.4,1361.5L1585.5,1359.4L1581.8,1360.5L1578.8,1358.5L1575.6,1357.9L1572.7,1356.0L1569.6,1355.0L1566.0,1355.9L1563.1,1354.5L1560.5,1352.6L1557.4,1352.3L1554.8,1350.6L1552.1,1349.5L1549.5,1348.7L1546.7,1348.1L1544.6,1346.3L1542.6,1344.3L1540.4,1342.6L1537.8,1341.2L1535.1,1339.7L1533.1,1337.3L1530.3,1335.8L1528.1,1333.5L1525.7,1331.3L1522.4,1330.1L1520.8,1326.9L1518.0,1325.0L1514.9,1323.3L1512.6,1320.7L1510.1,1318.4L1507.7,1315.9L1504.6,1314.3L1503.2,1310.7L1500.5,1308.6L1496.8,1307.8L1494.9,1304.7L1491.8,1303.3L1489.4,1300.9L1486.6,1299.2L1483.9,1297.3L1482.1,1294.2L1479.3,1292.6L1476.6,1290.7L1474.5,1288.4L1471.5,1287.0L1469.9,1284.1L1467.2,1282.6L1465.1,1280.3L1463.2,1278.1L1461.8,1275.4L1459.9,1273.2L1457.1,1271.9L1456.9,1268.8L1455.4,1266.2L1452.4,1264.3L1450.9,1261.4L1449.8,1258.0L1447.5,1255.5L1446.1,1252.4L1444.2,1249.7L1443.6,1246.2L1441.5,1243.7L1439.4,1241.1L1438.1,1238.0L1435.5,1235.8L1435.1,1232.2L1432.1,1230.2L1432.2,1226.3L1429.9,1223.9L1427.0,1221.8L1426.7,1218.1L1423.6,1216.1L1423.7,1212.3L1421.7,1209.7L1418.8,1207.6L1418.6,1204.0L1416.8,1201.2L1414.6,1198.7L1412.5,1196.2L1411.8,1192.8L1409.6,1190.3L1409.0,1186.9L1406.5,1184.6L1405.4,1181.5L1403.2,1178.9L1401.4,1176.2L1400.3,1173.0L1399.2,1169.9L1397.7,1167.0L1396.1,1164.1L1394.6,1161.2L1392.9,1158.4L1391.1,1155.6L1390.0,1152.5L1387.7,1150.1L1386.7,1146.9L1384.8,1144.2L1383.7,1141.2L1382.7,1138.1L1380.8,1135.4L1379.6,1132.4L1378.4,1129.4L1377.1,1126.5L1375.4,1123.7L1373.8,1120.9L1372.5,1118.0L1371.7,1114.8L1370.4,1111.9L1368.8,1109.1L1367.8,1106.0L1366.7,1102.9L1365.1,1100.1L1364.6,1096.8L1363.2,1093.9L1361.9,1090.8L1360.7,1087.8L1359.3,1084.9L1358.8,1081.6L1357.6,1078.5L1356.2,1075.5L1355.4,1072.3L1353.7,1069.5L1353.1,1066.2L1352.0,1063.1L1350.9,1060.0L1349.6,1056.9L1348.5,1053.9L1346.9,1050.9L1346.2,1047.7L1345.1,1044.6L1344.1,1041.4L1342.5,1038.5L1342.1,1035.1L1340.4,1032.3L1339.9,1029.0L1338.1,1026.1L1336.9,1023.1L1336.0,1019.9L1335.4,1016.7L1334.1,1013.7L1333.0,1010.6L1332.1,1007.5L1331.2,1004.4L1329.6,1001.5L1328.8,998.4L1328.1,995.2L1327.4,992.1L1326.5,989.0L1325.7,985.9L1324.3,983.0L1323.7,979.8L1323.2,976.6L1322.0,973.5L1321.4,970.4L1320.3,967.3L1319.7,964.1L1318.3,961.1L1318.1,957.8L1316.8,954.7L1316.3,951.5L1315.5,948.3L1315.2,945.1L1314.0,942.0L1313.7,938.7L1312.5,935.6L1312.1,932.3L1311.0,929.1L1310.6,925.9L1309.5,922.7L1308.7,919.5L1308.3,916.2L1307.7,913.0L1306.4,909.9L1306.1,906.6L1305.1,903.5L1304.4,900.3L1303.7,897.1L1303.1,893.8L1302.2,890.7L1301.8,887.4L1300.9,884.2L1300.4,881.0L1299.6,877.8L1299.0,874.6L1298.2,871.4L1297.1,868.3L1297.2,864.9L1296.4,861.8L1295.5,858.6L1294.6,855.4L1294.1,852.2L1294.0,848.9L1293.2,847.0Z" fill="#ff0000"/></g>
<g fill="#404040">
<text x="350.0" y="1647" text-anchor="middle">0</text>
<text x="542.2" y="1647" text-anchor="middle">0.5</text>
<text x="734.3" y="1647" text-anchor="middle">1</text>
<text x="926.4" y="1647" text-anchor="middle">1.5</text>
<text x="1118.6" y="1647" text-anchor="middle">2</text>
<text x="1213.7" y="1647" text-anchor="middle">0</text>
<text x="1402.0" y="1647" text-anchor="middle">0.5</text>
<text x="1590.3" y="1647" text-anchor="middle">1</text>
<text x="1778.6" y="1647" text-anchor="middle">1.5</text>
<text x="1966.9" y="1647" text-anchor="middle">2</text>
<text x="273" y="807.2" text-anchor="end">0</text>
<text x="273" y="666.8" text-anchor="end">5</text>
<text x="269" y="526.2" text-anchor="end">10</text>
<text x="269" y="385.8" text-anchor="end">15</text>
<text x="269" y="245.2" text-anchor="end">20</text>
<text x="273" y="1497.6" text-anchor="end">0</text>
<text x="273" y="1359.8" text-anchor="end">5</text>
<text x="269" y="1222.0" text-anchor="end">10</text>
<text x="269" y="1084.2" text-anchor="end">15</text>
<text x="269" y="946.4" text-anchor="end">20</text>
<text x="1164.5" y="1784" text-anchor="middle">Hours</text>
<text transform="translate(128.8,850.7) rotate(-90)" text-anchor="middle">Positioning Error [cm]</text>
</g>
<text x="734.5" y="110" text-anchor="middle" fill="#000">IGF</text>
<text x="1590.3" y="110" text-anchor="middle" fill="#000">IGU</text>
<path d="M825.1,196.0H1077.2" stroke="#00ffff" stroke-width="16.67" fill="none"/>
<text x="1102.5" y="225.6" fill="#000">A</text>
<path d="M825.1,300.6H1077.2" stroke="#0000ff" stroke-width="16.67" fill="none"/>
<text x="1102.5" y="330.2" fill="#000">B</text>
<path d="M825.1,405.1H1077.2" stroke="#000000" stroke-width="16.67" fill="none"/>
<text x="1102.5" y="434.7" fill="#000">C</text>
<path d="M825.1,509.6H1077.2" stroke="#00ff00" stroke-width="16.67" fill="none"/>
<text x="1102.5" y="539.2" fill="#000">D</text>
<path d="M825.1,614.2H1077.2" stroke="#ff0000" stroke-width="16.67" fill="none"/>
<text x="1102.5" y="643.8" fill="#000">E</text>
</svg>
</body></html>
